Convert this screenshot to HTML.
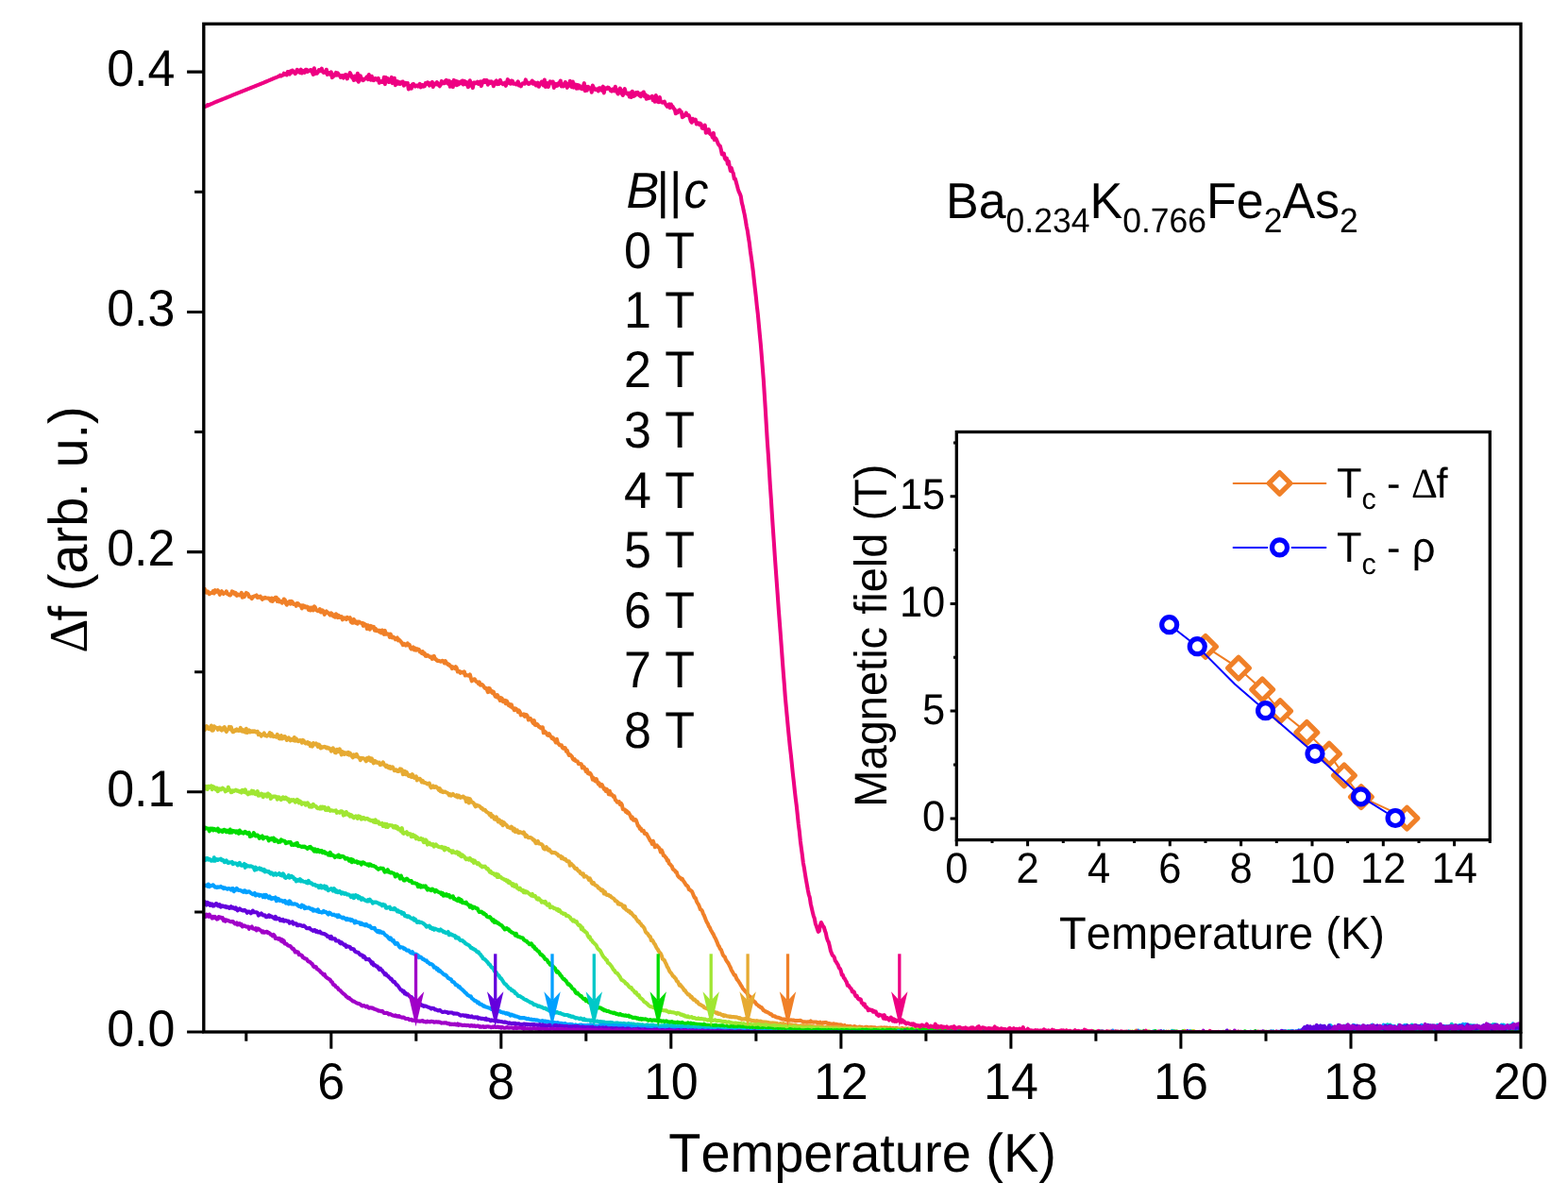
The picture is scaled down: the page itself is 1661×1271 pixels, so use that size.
<!DOCTYPE html>
<html lang="en">
<head>
<meta charset="utf-8">
<title>Ba0.234K0.766Fe2As2 - frequency shift vs temperature</title>
<style>
html,body{margin:0;padding:0;background:#fff;}
body{width:1661px;height:1271px;overflow:hidden;font-family:"Liberation Sans",sans-serif;}
svg{display:block;}
</style>
</head>
<body>
<svg width="1661" height="1271" viewBox="0 0 1661 1271" font-family="'Liberation Sans', sans-serif" fill="#000" style="font-kerning:none;font-variant-ligatures:none;text-rendering:geometricPrecision">
<rect width="1661" height="1271" fill="#fff"/>
<defs><clipPath id="pc"><rect x="215.8" y="25.3" width="1395.2" height="1067.7"/></clipPath></defs>
<g clip-path="url(#pc)" fill="none" stroke-linejoin="round" stroke-linecap="round">
<path d="M215.8,625.4 216.8,623.8 217.8,627.4 218.8,627.7 219.8,626.3 220.8,627.3 221.8,629.2 222.8,628.4 223.8,628 224.8,628 225.8,626 226.8,628.5 227.8,625.1 228.8,626.9 229.8,626.8 230.8,625.2 231.8,627.4 232.8,629.8 233.8,627.2 234.8,626.2 235.8,627.7 236.8,629 237.8,628.2 238.8,628.1 239.8,626.3 240.8,628.9 241.8,628.9 242.8,630.2 243.8,630.4 244.8,629.5 245.8,626.4 246.8,626.8 247.8,627.4 248.8,629.3 249.8,628 250.8,630.9 251.8,629.6 252.8,629.8 253.8,630.5 254.8,630 255.8,627.8 256.8,632.8 257.8,631.9 258.8,632.1 259.8,629.2 260.8,627.9 261.8,628.5 262.8,629.2 263.8,632 264.8,632.1 265.8,633 266.8,634.1 267.8,632.1 268.8,632 269.8,631.2 270.8,631.4 271.8,630.5 272.8,632.9 273.8,632.8 274.8,632 275.8,631.6 276.8,633.5 277.8,634.8 278.8,633.3 279.8,633.8 280.8,632.8 281.8,633.4 282.8,633.5 283.8,633.7 284.8,633.5 285.8,635 286.8,636.4 287.8,633.5 288.8,636.9 289.8,634.6 290.8,634.9 291.8,632.7 292.8,632.8 293.8,636.9 294.8,634.7 295.8,637.4 296.8,636.6 297.8,637.1 298.8,638.7 299.8,637.1 300.8,634.5 301.8,635.3 302.8,639.1 303.8,640.7 304.8,638.2 305.8,637.6 306.8,636.9 307.8,639.7 308.8,636.8 309.8,637.8 310.8,639.9 311.8,640 312.8,639.8 313.8,641.8 314.8,639 315.8,639.3 316.8,640.6 317.8,641.5 318.8,641.2 319.8,644.5 320.8,641.3 321.8,643.2 322.8,641.8 323.8,643.3 324.8,642.5 325.8,642.9 326.8,645.8 327.8,643.5 328.8,646.5 329.8,643.5 330.8,644.1 331.8,646.5 332.8,642.3 333.8,643.3 334.8,645.9 335.8,646.7 336.8,647.2 337.8,646.3 338.8,645.1 339.8,648.4 340.8,648.2 341.8,646.4 342.8,648.3 343.8,650.9 344.8,648.9 345.8,647.5 346.8,648.8 347.8,649.2 348.8,650.5 349.8,651.5 350.8,649.4 351.8,650.1 352.8,652.6 353.8,652.6 354.8,653.7 355.8,650.2 356.8,651.2 357.8,654.2 358.8,651.9 359.8,653.9 360.8,653.7 361.8,653.1 362.8,656.4 363.8,654.8 364.8,654.4 365.8,655.2 366.8,656.1 367.8,653.9 368.8,655.2 369.8,655 370.8,654.2 371.8,658.7 372.8,659.6 373.8,659.6 374.8,655.9 375.8,659.2 376.8,659.9 377.8,658.5 378.8,660.7 379.8,658.5 380.8,658.8 381.8,659.5 382.8,660 383.8,659.9 384.8,662.9 385.8,660.5 386.8,661.7 387.8,661.8 388.8,666 389.8,662.2 390.8,664.4 391.8,666.6 392.8,662.9 393.8,663.7 394.8,664.8 395.8,663.8 396.8,667.6 397.8,665.8 398.8,668.2 399.8,667.9 400.8,667.6 401.8,669.3 402.8,668 403.8,670.3 404.8,667.5 405.8,668.8 406.8,671.8 407.8,667.9 408.8,671.8 409.8,671.1 410.8,671.4 411.8,671.7 412.8,674.9 413.8,671.7 414.8,675.3 415.8,675.4 416.8,674.7 417.8,675.7 418.8,677.3 419.8,676.1 420.8,675.5 421.8,678.4 422.8,677.5 423.8,678.6 424.8,679.8 425.8,681.2 426.8,683.2 427.8,681.8 428.8,682.1 429.8,683.6 430.8,683.4 431.8,681.4 432.8,683.4 433.8,683.1 434.8,686.2 435.8,687.5 436.8,686.8 437.8,685.5 438.8,688.4 439.8,686.6 440.8,688.7 441.8,687.3 442.8,687.6 443.8,688 444.8,690.4 445.8,690 446.8,691.9 447.8,690.1 448.8,692.9 449.8,691.9 450.8,694.8 451.8,695 452.8,693.8 453.8,694.7 454.8,695.3 455.8,696.1 456.8,695.6 457.8,697.8 458.8,696.2 459.8,694.8 460.8,698.1 461.8,698.1 462.8,699.7 463.8,699.9 464.8,699.7 465.8,700.2 466.8,700.7 467.8,700.1 468.8,699.8 469.8,700.8 470.8,702.3 471.8,700 472.8,702.8 473.8,702.6 474.8,704.2 475.8,703.8 476.8,705.5 477.8,705.6 478.8,708.1 479.8,706.5 480.8,707.2 481.8,708 482.8,706.2 483.8,707.7 484.8,711.5 485.8,710.9 486.8,710.9 487.8,712.8 488.8,711.7 489.8,712.2 490.8,712.7 491.8,711.3 492.8,715.5 493.8,714.6 494.8,715.3 495.8,715.6 496.8,715.8 497.8,714.4 498.8,718.1 499.8,721.3 500.8,720.4 501.8,719.4 502.8,719.2 503.8,721.1 504.8,722.2 505.8,722.2 506.8,724.1 507.8,722.4 508.8,725.7 509.8,725.2 510.8,725 511.8,726.1 512.8,727.7 513.8,729 514.8,728.9 515.8,730.3 516.8,733.2 517.8,728.9 518.8,729.2 519.8,732.7 520.8,732 521.8,734.2 522.8,732.6 523.8,735.6 524.8,737.8 525.8,738.3 526.8,736.1 527.8,737.8 528.8,740.1 529.8,742 530.8,739.1 531.8,739.9 532.8,743.2 533.8,741.9 534.8,741.8 535.8,745.2 536.8,742.3 537.8,744.3 538.8,747.1 539.8,745.8 540.8,748.3 541.8,746.4 542.8,749.7 543.8,750 544.8,752.1 545.8,750.4 546.8,750.9 547.8,752 548.8,754.1 549.8,752.5 550.8,754 551.8,757.4 552.8,756.6 553.8,757.2 554.8,756.3 555.8,758.8 556.8,756.9 557.8,757.2 558.8,758.7 559.8,762.5 560.8,761.6 561.8,760.9 562.8,762.5 563.8,764.3 564.8,766 565.8,763.2 566.8,767.8 567.8,768.1 568.8,766.8 569.8,767.9 570.8,769.9 571.8,769.7 572.8,771.1 573.8,770.4 574.8,770.2 575.8,776.3 576.8,774.5 577.8,775.4 578.8,776.6 579.8,778.5 580.8,778.9 581.8,777.2 582.8,779.3 583.8,780.4 584.8,782.1 585.8,781.3 586.8,783.4 587.8,784.1 588.8,786.5 589.8,782.8 590.8,786.7 591.8,787.9 592.8,789.3 593.8,789.4 594.8,789.2 595.8,792.1 596.8,792.7 597.8,792 598.8,792.3 599.8,795.8 600.8,794.9 601.8,797.9 602.8,800 603.8,799.3 604.8,800.3 605.8,801.2 606.8,803.8 607.8,804.8 608.8,804.2 609.8,806 610.8,806.2 611.8,806.5 612.8,809.1 613.8,809 614.8,809.1 615.8,809.2 616.8,813.4 617.8,811.9 618.8,812.7 619.8,814.8 620.8,817.1 621.8,815 622.8,819 623.8,819.7 624.8,818.7 625.8,819.8 626.8,822 627.8,825.7 628.8,823.9 629.8,826.6 630.8,827.4 631.8,825.2 632.8,828.2 633.8,830.5 634.8,829.5 635.8,832.7 636.8,830.8 637.8,831.2 638.8,833.5 639.8,835.8 640.8,835.4 641.8,838 642.8,835.8 643.8,837.9 644.8,841.3 645.8,837.7 646.8,841.8 647.8,841.2 648.8,842.3 649.8,843.8 650.8,843.4 651.8,847.3 652.8,847.9 653.8,849.7 654.8,849.4 655.8,849.1 656.8,852.1 657.8,850.7 658.8,852.4 659.8,857.2 660.8,857.1 661.8,857.4 662.8,859.8 663.8,858.9 664.8,861.1 665.8,860.6 666.8,862.3 667.8,864 668.8,866.9 669.8,865.5 670.8,868.7 671.8,868.7 672.8,867.8 673.8,868.8 674.8,871.4 675.8,874.7 676.8,874.9 677.8,877.9 678.8,877.3 679.8,880 680.8,879.9 681.8,879.8 682.8,882.9 683.8,882.5 684.8,883 685.8,885 686.8,886.6 687.8,888.6 688.8,890.4 689.8,891.3 690.8,894 691.8,890.7 692.8,893.7 693.8,897.3 694.8,895.6 695.8,895.4 696.8,896.9 697.8,897.5 698.8,899 699.8,902.5 700.8,900.4 701.8,902.5 702.8,906.1 703.8,906.3 704.8,907.9 705.8,908.7 706.8,911.6 707.8,911.1 708.8,914.7 709.8,915.4 710.8,916.6 711.8,917.7 712.8,920.5 713.8,921.3 714.8,921.9 715.8,923.6 716.8,923.8 717.8,927.2 718.8,928.5 719.8,929.5 720.8,929.9 721.8,931.3 722.8,930.8 723.8,932.9 724.8,934.3 725.8,935.7 726.8,937.6 727.8,938 728.8,939.1 729.8,942.2 730.8,942.3 731.8,943.5 732.8,943.9 733.8,946.1 734.8,948.7 735.8,950.9 736.8,951 737.8,954.3 738.8,956.5 739.8,957.7 740.8,960.1 741.8,963.2 742.8,963.4 743.8,964.7 744.8,967.7 745.8,969.4 746.8,972 747.8,974.6 748.8,976.8 749.8,978.3 750.8,981.1 751.8,982.3 752.8,984.8 753.8,986.3 754.8,988.3 755.8,989.7 756.8,992.2 757.8,993.8 758.8,996.1 759.8,998.4 760.8,1001.2 761.8,1002.4 762.8,1005 763.8,1005.8 764.8,1008.4 765.8,1011.4 766.8,1012.8 767.8,1013.4 768.8,1016.3 769.8,1018 770.8,1019.3 771.8,1020.7 772.8,1023 773.8,1024.7 774.8,1027.5 775.8,1029.1 776.8,1030.9 777.8,1032.9 778.8,1032.8 779.8,1035.5 780.8,1037.5 781.8,1038.5 782.8,1040.1 783.8,1041.6 784.8,1043.6 785.8,1044.9 786.8,1047 787.8,1047.9 788.8,1049.2 789.8,1050.3 790.8,1051.2 791.8,1052.8 792.8,1054.3 793.8,1055.3 794.8,1055.8 795.8,1056.7 796.8,1058.8 797.8,1059.7 798.8,1060.8 799.8,1061.3 800.8,1063 801.8,1064 802.8,1064.5 803.8,1065.7 804.8,1066 805.8,1067.1 806.8,1067.1 807.8,1068.6 808.8,1070.3 809.8,1070.3 810.8,1071.4 811.8,1071.6 812.8,1072.1 813.8,1072.7 814.8,1073.1 815.8,1074.1 816.8,1074.1 817.8,1075 818.8,1076.3 819.8,1076.2 820.8,1076.3 821.8,1077.3 822.8,1077.5 823.8,1077.7 824.8,1077.7 825.8,1078.4 826.8,1078.6 827.8,1079.1 828.8,1079.5 829.8,1079.6 830.8,1079.4 831.8,1080.1 832.8,1080.2 833.8,1079.6 834.8,1080.4 835.8,1080.4 836.8,1080.7 837.8,1080.3 838.8,1080.6 839.8,1080.8 840.8,1080.5 841.8,1081.2 842.8,1081 843.8,1081.3 844.8,1080.9 845.8,1080.9 846.8,1081 847.8,1080.7 848.8,1081.3 849.8,1081.8 850.8,1082.2 851.8,1082.2 852.8,1082.3 853.8,1082.4 854.8,1082.8 855.8,1082.2 856.8,1082.5 857.8,1082.5 858.8,1081.5 859.8,1082.5 860.8,1082.5 861.8,1082.7 862.8,1082.4 863.8,1082.4 864.8,1082.6 865.8,1083.1 866.8,1083.1 867.8,1083.6 868.8,1082.7 869.8,1083.6 870.8,1084 871.8,1083.1 872.8,1083.5 873.8,1083 874.8,1082.9 875.8,1083.3 876.8,1083.9 877.8,1084.1 878.8,1084 879.8,1084.5 880.8,1084.5 881.8,1085.2 882.8,1084.2 883.8,1084.5 884.8,1084.7 885.8,1084.8 886.8,1085 887.8,1086.1 888.8,1085.4 889.8,1085.9 890.8,1085.3 891.8,1085.8 892.8,1086.5 893.8,1086.8 894.8,1086 895.8,1087.5 896.8,1087.1 897.8,1086.8 898.8,1087.3 899.8,1087.1 900.8,1086.8 901.8,1087.5 902.8,1087.8 903.8,1087.9 904.8,1087 905.8,1087.3 906.8,1087.7 907.8,1088.2 908.8,1088.3 909.8,1087.7 910.8,1087.5 911.8,1088.2 912.8,1087.8 913.8,1088.2 914.8,1088.5 915.8,1088.3 916.8,1087.8 917.8,1087.8 918.8,1087.7 919.8,1088.6 920.8,1088.7 921.8,1088 922.8,1088.2 923.8,1088.1 924.8,1088.4 925.8,1088.2 926.8,1088.2 927.8,1089 928.8,1088.9 929.8,1088.7 930.8,1089.1 931.8,1088.5 932.8,1088.9 933.8,1088.4 934.8,1088.5 935.8,1089.2 936.8,1088.4 937.8,1088.8 938.8,1088.5 939.8,1088.5 940.8,1089 941.8,1089.1 942.8,1088.5 943.8,1089.9 944.8,1089.7 945.8,1088.9 946.8,1089.4 947.8,1089.3 948.8,1089.1 949.8,1088.9 950.8,1089.4 951.8,1089.4 952.8,1089.9 953.8,1089.6 954.8,1089.2 955.8,1088.9 956.8,1089.6 957.8,1090 958.8,1089.3 959.8,1089.8 960.8,1090.3 961.8,1089.3 962.8,1090.4 963.8,1089.7 964.8,1089.9 965.8,1089.8 966.8,1089.8 967.8,1090.2 968.8,1090.3 969.8,1088.1 970.8,1089.5 971.8,1090 972.8,1089.8 973.8,1090.2 974.8,1090.1 975.8,1090.3 976.8,1090.4 977.8,1090.2 978.8,1090.8 979.8,1090 980.8,1090.4 981.8,1090.6 982.8,1091.1 983.8,1089.3 984.8,1090.3 985.8,1090.9 986.8,1090.8 987.8,1090.3 988.8,1091.2 989.8,1090.9 990.8,1090.8 991.8,1090.6 992.8,1091 993.8,1090.9 994.8,1091.1 995.8,1091.2 996.8,1090.7 997.8,1090.6 998.8,1089.7 999.8,1091 1000.8,1091.8 1001.8,1091.3 1002.8,1090.6 1003.8,1091.4 1004.8,1090.5 1005.8,1090.7 1006.8,1091.4 1007.8,1091 1008.8,1091.4 1009.8,1091.9 1010.8,1091.8 1011.8,1091.5 1012.8,1091.6 1013.8,1091.6 1014.8,1091.4 1015.8,1091.3 1016.8,1091.5 1017.8,1091.7 1018.8,1091.4 1019.8,1091.7 1020.8,1091.8 1021.8,1091.5 1022.8,1092.2 1023.8,1092.3 1024.8,1091.9 1025.8,1091.6 1026.8,1091.3 1027.8,1091.3 1028.8,1092.4 1029.8,1092.1 1030.8,1091.8 1031.8,1091.6 1032.8,1092 1033.8,1092.4 1034.8,1092.2 1035.8,1091.8 1036.8,1092.9 1037.8,1092.4 1038.8,1091.8 1039.8,1092.4 1040.8,1092.4 1041.8,1092.5 1042.8,1092.4 1043.8,1091.9 1044.8,1092.5 1045.8,1092.1 1046.8,1092.5 1047.8,1092.4 1048.8,1092.7 1049.8,1092.5 1050.8,1092.4 1051.8,1093.2 1052.8,1092.4 1053.8,1092.4 1054.8,1092.7 1055.8,1092.8 1056.8,1092.9 1057.8,1092.2 1058.8,1092.5 1059.8,1093 1060.8,1092.5 1061.8,1092.8 1062.8,1092.3 1063.8,1092.3 1064.8,1092.5 1065.8,1092.9 1066.8,1093.1 1067.8,1093.1 1068.8,1092.2 1069.8,1092.9 1070.8,1092.9 1071.8,1092.8 1072.8,1092.8 1073.8,1092.6 1074.8,1092.9 1075.8,1092.3 1076.8,1093.4 1077.8,1093.1 1078.8,1093.5 1079.8,1092.8 1080.8,1092.5 1081.8,1093.7 1082.8,1092.4 1083.8,1092.7 1084.8,1093.4 1085.8,1093.6 1086.8,1092.5 1087.8,1093.1 1088.8,1093.1 1089.8,1093.4 1090.8,1092.9 1091.8,1093.4 1092.8,1093.5 1093.8,1093.1 1094.8,1093.3 1095.8,1094 1096.8,1093.4 1097.8,1093.1 1098.8,1093.6 1099.8,1093.7 1100.8,1093.1 1101.8,1093 1102.8,1093.8 1103.8,1093.7 1104.8,1093.7 1105.8,1093.8 1106.8,1092.9 1107.8,1092.8 1108.8,1093.6 1109.8,1093.6 1110.8,1093.4 1111.8,1093.5 1112.8,1093.1 1113.8,1093 1114.8,1093.3 1115.8,1093.5 1116.8,1093.5 1117.8,1093.3 1118.8,1093.5 1119.8,1093.7 1120.8,1093.5 1121.8,1093.2 1122.8,1093.9 1123.8,1093 1124.8,1093.4 1125.8,1094 1126.8,1094.1 1127.8,1093.9 1128.8,1093.2 1129.8,1091.7 1130.8,1093.2 1131.8,1093.3 1132.8,1093.4 1133.8,1093 1134.8,1093.2 1135.8,1093.2 1136.8,1093.4 1137.8,1093.8 1138.8,1093.6 1139.8,1092.8 1140.8,1093.2 1141.8,1093.3 1142.8,1092.8 1143.8,1093.2 1144.8,1092.9 1145.8,1093.4 1146.8,1093.6 1147.8,1093.4 1148.8,1093.9 1149.8,1093.2 1150.8,1093.4 1151.8,1093.2 1152.8,1093.3 1153.8,1093.8 1154.8,1093 1155.8,1093.9 1156.8,1093.8 1157.8,1093.6 1158.8,1093.1 1159.8,1093.5 1160.8,1093.3 1161.8,1093.9 1162.8,1093 1163.8,1093.1 1164.8,1093.4 1165.8,1092.7 1166.8,1093.9 1167.8,1093.3 1168.8,1093.7 1169.8,1093.5 1170.8,1092.8 1171.8,1093.4 1172.8,1093 1173.8,1093 1174.8,1092.5 1175.8,1093.1 1176.8,1093.7 1177.8,1093 1178.8,1093.1 1179.8,1093.4 1180.8,1093.5 1181.8,1093.2 1182.8,1093.9 1183.8,1093.9 1184.8,1093 1185.8,1094 1186.8,1093.6 1187.8,1093.6 1188.8,1093.7 1189.8,1093 1190.8,1093 1191.8,1093.6 1192.8,1093.2 1193.8,1094.1 1194.8,1093.3 1195.8,1093.7 1196.8,1093.1 1197.8,1094.1 1198.8,1094 1199.8,1093 1200.8,1093.6 1201.8,1093.5 1202.8,1093.9 1203.8,1091.5 1204.8,1093.3 1205.8,1093.7 1206.8,1093.3 1207.8,1093.2 1208.8,1093 1209.8,1093.2 1210.8,1093.4 1211.8,1093 1212.8,1093.5 1213.8,1093.2 1214.8,1093.5 1215.8,1093.7 1216.8,1093.8 1217.8,1093.5 1218.8,1093.1 1219.8,1093.4 1220.8,1093.3 1221.8,1093.8 1222.8,1092.7 1223.8,1093.9 1224.8,1093.4 1225.8,1093.6 1226.8,1093 1227.8,1093.8 1228.8,1093.2 1229.8,1094 1230.8,1093.6 1231.8,1093.7 1232.8,1093.6 1233.8,1093.2 1234.8,1093.9 1235.8,1092.9 1236.8,1093.5 1237.8,1093.7 1238.8,1093.8 1239.8,1092.8 1240.8,1093.3 1241.8,1093.4 1242.8,1092.5 1243.8,1093.2 1244.8,1093.2 1245.8,1093.6 1246.8,1093.4 1247.8,1093.2 1248.8,1093.2 1249.8,1093.5 1250.8,1093.2 1251.8,1093 1252.8,1093.1 1253.8,1093.5 1254.8,1091.8 1255.8,1093.5 1256.8,1093.7 1257.8,1092.8 1258.8,1093.3 1259.8,1093 1260.8,1093.1 1261.8,1093.3 1262.8,1093.5 1263.8,1093.3 1264.8,1093.1 1265.8,1093.3 1266.8,1093 1267.8,1094 1268.8,1093.2 1269.8,1093.9 1270.8,1092.9 1271.8,1093.1 1272.8,1093.9 1273.8,1093.4 1274.8,1094.1 1275.8,1093.7 1276.8,1093.9 1277.8,1093 1278.8,1093.5 1279.8,1093.3 1280.8,1094 1281.8,1093.3 1282.8,1093.5 1283.8,1093.2 1284.8,1092.9 1285.8,1093.6 1286.8,1093.3 1287.8,1093.3 1288.8,1093.1 1289.8,1093.4 1290.8,1093.2 1291.8,1093.3 1292.8,1093.5 1293.8,1093.3 1294.8,1093.6 1295.8,1093.1 1296.8,1093 1297.8,1093.9 1298.8,1093.2 1299.8,1092.9 1300.8,1093.9 1301.8,1093.4 1302.8,1092.4 1303.8,1093.1 1304.8,1093.6 1305.8,1093.1 1306.8,1092.9 1307.8,1093.1 1308.8,1093.5 1309.8,1093.1 1310.8,1093.3 1311.8,1093.6 1312.8,1093.1 1313.8,1093.3 1314.8,1093.5 1315.8,1093.5 1316.8,1093.8 1317.8,1093.7 1318.8,1093.2 1319.8,1093.3 1320.8,1093.7 1321.8,1093.9 1322.8,1093.7 1323.8,1093.4 1324.8,1093.6 1325.8,1093.9 1326.8,1094 1327.8,1093 1328.8,1093.2 1329.8,1093.5 1330.8,1093.3 1331.8,1093.5 1332.8,1092.7 1333.8,1093.6 1334.8,1093.7 1335.8,1094 1336.8,1093.9 1337.8,1093.6 1338.8,1092.7 1339.8,1092.7 1340.8,1093.3 1341.8,1093.1 1342.8,1093.4 1343.8,1093.1 1344.8,1094.1 1345.8,1093.9 1346.8,1093.9 1347.8,1093.4 1348.8,1093.5 1349.8,1093.6 1350.8,1093.4 1351.8,1093.5 1352.8,1093.6 1353.8,1093.3 1354.8,1093.4 1355.8,1093.9 1356.8,1093.5 1357.8,1092.9 1358.8,1093.2 1359.8,1093.3 1360.8,1093.4 1361.8,1093.4 1362.8,1093.2 1363.8,1094 1364.8,1093.4 1365.8,1093.7 1366.8,1093.2 1367.8,1092.8 1368.8,1093.7 1369.8,1093.8 1370.8,1093.8 1371.8,1093.5 1372.8,1093.6 1373.8,1093.2 1374.8,1093 1375.8,1093.5 1376.8,1093.7 1377.8,1093.7 1378.8,1093.8 1379.8,1093.8 1380.8,1093.8 1381.8,1093.8 1382.8,1093.6 1383.8,1093.3 1384.8,1092.9 1385.8,1093.6 1386.8,1094 1387.8,1093.7 1388.8,1094.2 1389.8,1093.8 1390.8,1092.9 1391.8,1093.9 1392.8,1093.3 1393.8,1093.5 1394.8,1093.5 1395.8,1093.6 1396.8,1094.1 1397.8,1094 1398.8,1093.2 1399.8,1093.7 1400.8,1093.4 1401.8,1094 1402.8,1094.1 1403.8,1093.5 1404.8,1093.9 1405.8,1094 1406.8,1093.9 1407.8,1094 1408.8,1093.6 1409.8,1093.8 1410.8,1093.7 1411.8,1093.7 1412.8,1093.7 1413.8,1093 1414.8,1093.6 1415.8,1094 1416.8,1093.2 1417.8,1093.5 1418.8,1092.9 1419.8,1093.7 1420.8,1093.7 1421.8,1093.9 1422.8,1094.1 1423.8,1093.4 1424.8,1093.4 1425.8,1093.8 1426.8,1093.5 1427.8,1093.8 1428.8,1093.1 1429.8,1093.5 1430.8,1093.3 1431.8,1093.1 1432.8,1093.6 1433.8,1093.2 1434.8,1093.4 1435.8,1093.4 1436.8,1092.9 1437.8,1093.8 1438.8,1093.7 1439.8,1093.6 1440.8,1093.5 1441.8,1094 1442.8,1093.7 1443.8,1093.2 1444.8,1093.7 1445.8,1093.9 1446.8,1093.5 1447.8,1093.6 1448.8,1093.7 1449.8,1093.8 1450.8,1093.7 1451.8,1093.5 1452.8,1093.8 1453.8,1093.5 1454.8,1093.5 1455.8,1094 1456.8,1093.5 1457.8,1093.3 1458.8,1093.7 1459.8,1093.3 1460.8,1093.9 1461.8,1093.6 1462.8,1093.9 1463.8,1093.6 1464.8,1093.3 1465.8,1092.9 1466.8,1093.3 1467.8,1093.9 1468.8,1093.4 1469.8,1093.9 1470.8,1093.9 1471.8,1093 1472.8,1093.4 1473.8,1093.5 1474.8,1094 1475.8,1094.1 1476.8,1093.3 1477.8,1093.8 1478.8,1093.7 1479.8,1093.2 1480.8,1093.9 1481.8,1094.1 1482.8,1093.2 1483.8,1093.8 1484.8,1093.4 1485.8,1093.9 1486.8,1093.9 1487.8,1093.5 1488.8,1093.5 1489.8,1094.1 1490.8,1093.5 1491.8,1093.9 1492.8,1093 1493.8,1093.1 1494.8,1093.9 1495.8,1093.6 1496.8,1093.5 1497.8,1093.2 1498.8,1093.6 1499.8,1093.1 1500.8,1093.5 1501.8,1093.8 1502.8,1093.5 1503.8,1093 1504.8,1093 1505.8,1093.4 1506.8,1092.9 1507.8,1093.8 1508.8,1093.3 1509.8,1093.3 1510.8,1093.4 1511.8,1093.3 1512.8,1094 1513.8,1093.3 1514.8,1093.2 1515.8,1093.9 1516.8,1093.3 1517.8,1094 1518.8,1093.8 1519.8,1093.4 1520.8,1093.6 1521.8,1093.2 1522.8,1093.2 1523.8,1093.9 1524.8,1093.4 1525.8,1093.5 1526.8,1093.4 1527.8,1093.6 1528.8,1093.5 1529.8,1093.6 1530.8,1093.6 1531.8,1094 1532.8,1093.4 1533.8,1093.5 1534.8,1093.6 1535.8,1093.3 1536.8,1093.7 1537.8,1093.5 1538.8,1093.4 1539.8,1093.3 1540.8,1093.6 1541.8,1093.7 1542.8,1093.7 1543.8,1093.8 1544.8,1093.5 1545.8,1094 1546.8,1093.6 1547.8,1093.9 1548.8,1093.5 1549.8,1093.9 1550.8,1093.6 1551.8,1093.4 1552.8,1093.5 1553.8,1093.7 1554.8,1093.1 1555.8,1093.7 1556.8,1093 1557.8,1093.7 1558.8,1093.3 1559.8,1093.2 1560.8,1093.4 1561.8,1094 1562.8,1094.1 1563.8,1093.5 1564.8,1094.1 1565.8,1093.7 1566.8,1094.2 1567.8,1093.6 1568.8,1093.8 1569.8,1093.3 1570.8,1094 1571.8,1093.9 1572.8,1094 1573.8,1094.1 1574.8,1093.5 1575.8,1093.8 1576.8,1093 1577.8,1093.3 1578.8,1093.2 1579.8,1093.9 1580.8,1093.8 1581.8,1093.8 1582.8,1093.7 1583.8,1094.3 1584.8,1093.9 1585.8,1093.5 1586.8,1094.2 1587.8,1094.2 1588.8,1093.9 1589.8,1092.9 1590.8,1093.3 1591.8,1093.8 1592.8,1093.5 1593.8,1093.1 1594.8,1093.7 1595.8,1093.4 1596.8,1093.7 1597.8,1093.7 1598.8,1094.1 1599.8,1093.4 1600.8,1094 1601.8,1093.3 1602.8,1094 1603.8,1093.8 1604.8,1093.8 1605.8,1093.7 1606.8,1093.4 1607.8,1093.8 1608.8,1093.8 1609.8,1094 1610.8,1093.8" stroke="#f08028" stroke-width="4.05"/>
<path d="M215.8,771.1 216.8,773.2 217.8,771.7 218.8,769.2 219.8,769.9 220.8,771.9 221.8,770.8 222.8,772.4 223.8,768.5 224.8,773.8 225.8,773.5 226.8,769.3 227.8,770.9 228.8,770.6 229.8,770.9 230.8,772.8 231.8,770.9 232.8,770.5 233.8,772.7 234.8,773.6 235.8,771.4 236.8,772.4 237.8,770.2 238.8,773.5 239.8,775 240.8,773.1 241.8,772.4 242.8,769.9 243.8,772.2 244.8,770 245.8,773.9 246.8,775.3 247.8,774.9 248.8,773.4 249.8,773.9 250.8,772.5 251.8,773.8 252.8,773.9 253.8,773.7 254.8,770.9 255.8,774.3 256.8,774.7 257.8,773.2 258.8,774.9 259.8,775.6 260.8,771.8 261.8,776 262.8,774.2 263.8,773.5 264.8,775.4 265.8,774.3 266.8,774.9 267.8,774.3 268.8,774.9 269.8,774.4 270.8,775.4 271.8,774.9 272.8,774.7 273.8,778.1 274.8,776.9 275.8,777.6 276.8,779.6 277.8,778.3 278.8,777.7 279.8,776.4 280.8,779.1 281.8,778.8 282.8,779.7 283.8,778.4 284.8,778.2 285.8,776.1 286.8,779.8 287.8,777.2 288.8,778.8 289.8,780.2 290.8,779.9 291.8,779.8 292.8,780.7 293.8,777.9 294.8,780.5 295.8,782.3 296.8,782.4 297.8,779 298.8,782.5 299.8,782 300.8,780.3 301.8,780 302.8,781.8 303.8,784 304.8,783 305.8,781.3 306.8,782.9 307.8,784.4 308.8,783 309.8,782.7 310.8,784.2 311.8,781 312.8,784.6 313.8,782.4 314.8,784.3 315.8,785.1 316.8,784.6 317.8,784 318.8,784.7 319.8,786.6 320.8,783.9 321.8,784.7 322.8,786.6 323.8,787.4 324.8,786.6 325.8,786.1 326.8,788 327.8,786.8 328.8,790.3 329.8,789.6 330.8,790.6 331.8,787 332.8,787.9 333.8,788.4 334.8,787.4 335.8,788.6 336.8,790.9 337.8,788.5 338.8,789.8 339.8,792.4 340.8,791.1 341.8,791.6 342.8,791.3 343.8,790.7 344.8,791.3 345.8,792.4 346.8,791.6 347.8,792.7 348.8,792.4 349.8,793.1 350.8,795.6 351.8,794.6 352.8,792.4 353.8,794.2 354.8,797.1 355.8,797.4 356.8,793.7 357.8,796.2 358.8,795.9 359.8,793.4 360.8,796.8 361.8,799.4 362.8,796.1 363.8,796.9 364.8,798.9 365.8,797.3 366.8,797.6 367.8,798.8 368.8,796.8 369.8,799.7 370.8,797.6 371.8,799.7 372.8,801 373.8,802.4 374.8,799.4 375.8,801 376.8,801.3 377.8,798.9 378.8,801.5 379.8,802.2 380.8,802.9 381.8,805.1 382.8,802.9 383.8,803 384.8,803.2 385.8,803.6 386.8,804.6 387.8,806.3 388.8,803.2 389.8,804.9 390.8,802.4 391.8,803.2 392.8,806 393.8,803.3 394.8,806.8 395.8,808.4 396.8,805.9 397.8,806.4 398.8,807.7 399.8,807.3 400.8,808.2 401.8,807.7 402.8,810.1 403.8,809.7 404.8,809.6 405.8,807.3 406.8,809.5 407.8,810.8 408.8,812 409.8,810.6 410.8,812.6 411.8,813.3 412.8,811.8 413.8,813.9 414.8,813.1 415.8,812.3 416.8,814 417.8,816.2 418.8,815.4 419.8,815.3 420.8,816.7 421.8,817 422.8,816.7 423.8,814.4 424.8,814.5 425.8,815.5 426.8,820.2 427.8,819.4 428.8,816.8 429.8,820.3 430.8,817.9 431.8,820.4 432.8,821.8 433.8,820.8 434.8,822.5 435.8,823 436.8,820.1 437.8,822.6 438.8,823.8 439.8,822.9 440.8,822.3 441.8,826.4 442.8,825.3 443.8,824.7 444.8,824.8 445.8,826.4 446.8,828.5 447.8,826.9 448.8,828.8 449.8,829.1 450.8,829 451.8,829.8 452.8,830.4 453.8,829.7 454.8,829.6 455.8,832.9 456.8,834.3 457.8,833.7 458.8,832.4 459.8,834 460.8,833.7 461.8,833.1 462.8,834 463.8,835 464.8,836.8 465.8,835 466.8,838.3 467.8,837.3 468.8,839.1 469.8,839.2 470.8,838.5 471.8,838.8 472.8,839.4 473.8,839.7 474.8,840.6 475.8,842.3 476.8,841.1 477.8,842.7 478.8,842.2 479.8,840.9 480.8,842.3 481.8,842.8 482.8,843.4 483.8,842.2 484.8,844.4 485.8,842.6 486.8,843.5 487.8,844.9 488.8,844.6 489.8,843.7 490.8,843.6 491.8,844.9 492.8,845.1 493.8,849.1 494.8,845.5 495.8,845.5 496.8,850.5 497.8,846.1 498.8,848 499.8,849.8 500.8,849.8 501.8,850.7 502.8,852.9 503.8,854.4 504.8,852.6 505.8,853.5 506.8,853.4 507.8,853.8 508.8,854.7 509.8,856.2 510.8,856.1 511.8,857.8 512.8,857.7 513.8,857.7 514.8,859.4 515.8,860.2 516.8,860.7 517.8,861.5 518.8,863.3 519.8,861.8 520.8,865.2 521.8,864 522.8,865.3 523.8,867.6 524.8,867.9 525.8,865.3 526.8,868.6 527.8,870.4 528.8,868.4 529.8,869.6 530.8,872.4 531.8,870 532.8,874.2 533.8,871.2 534.8,872.6 535.8,873.4 536.8,874.1 537.8,876.1 538.8,876.3 539.8,876.6 540.8,877.2 541.8,875.6 542.8,877.2 543.8,879.7 544.8,877.6 545.8,881 546.8,879.7 547.8,879.3 548.8,881.8 549.8,882.2 550.8,881.1 551.8,881.7 552.8,881.8 553.8,882.6 554.8,881.5 555.8,883.5 556.8,886.2 557.8,884.7 558.8,886.3 559.8,887.3 560.8,887.2 561.8,887 562.8,887.6 563.8,888.2 564.8,889.7 565.8,889.6 566.8,891.4 567.8,893.2 568.8,892.4 569.8,890.9 570.8,893.5 571.8,893.5 572.8,894 573.8,894.2 574.8,895.4 575.8,898.7 576.8,899.4 577.8,899.4 578.8,897.2 579.8,898.9 580.8,900.5 581.8,899.6 582.8,901.2 583.8,902.3 584.8,903.3 585.8,902.7 586.8,903.2 587.8,903.1 588.8,903.6 589.8,904.7 590.8,905 591.8,906.6 592.8,906.7 593.8,906.8 594.8,909.2 595.8,908 596.8,909.6 597.8,910.2 598.8,909.8 599.8,911.2 600.8,912.2 601.8,912.2 602.8,912.2 603.8,916.7 604.8,914.5 605.8,915.7 606.8,916.6 607.8,917.7 608.8,919.4 609.8,920.3 610.8,919.8 611.8,921.5 612.8,922.7 613.8,922.7 614.8,924.9 615.8,924.9 616.8,926.3 617.8,925.3 618.8,928.8 619.8,927.9 620.8,927.9 621.8,928.9 622.8,929.9 623.8,931.8 624.8,930.3 625.8,932.3 626.8,935.1 627.8,936.1 628.8,934.8 629.8,936.8 630.8,937.7 631.8,938.1 632.8,938.7 633.8,940.7 634.8,940.6 635.8,941.8 636.8,943.1 637.8,942.3 638.8,943.1 639.8,946.5 640.8,944.5 641.8,947.1 642.8,947.9 643.8,947.7 644.8,948 645.8,949 646.8,949.1 647.8,950.5 648.8,951 649.8,951.5 650.8,952.4 651.8,954.2 652.8,954.3 653.8,954.9 654.8,957.5 655.8,956.6 656.8,958 657.8,957.6 658.8,958.2 659.8,960.3 660.8,961.5 661.8,959.7 662.8,963 663.8,963.9 664.8,964.2 665.8,965.5 666.8,965.1 667.8,967.1 668.8,966.9 669.8,968.5 670.8,969.4 671.8,970.8 672.8,970.7 673.8,973 674.8,974.2 675.8,975.9 676.8,975.8 677.8,977.9 678.8,978.3 679.8,980.4 680.8,980.9 681.8,982 682.8,983.8 683.8,986.7 684.8,988.1 685.8,988.6 686.8,990.1 687.8,991.8 688.8,992 689.8,996 690.8,995.5 691.8,996.9 692.8,999.1 693.8,1000.1 694.8,1002.5 695.8,1004.4 696.8,1005.5 697.8,1007.5 698.8,1008.8 699.8,1009.9 700.8,1012 701.8,1015.8 702.8,1016.3 703.8,1017.1 704.8,1019.3 705.8,1021.3 706.8,1024 707.8,1025.3 708.8,1027.7 709.8,1029.6 710.8,1030.5 711.8,1031.9 712.8,1033.7 713.8,1034.3 714.8,1035.7 715.8,1036.4 716.8,1039 717.8,1039.5 718.8,1041.4 719.8,1043.7 720.8,1043.2 721.8,1044.8 722.8,1045.8 723.8,1047 724.8,1049 725.8,1049 726.8,1051.1 727.8,1052 728.8,1053.5 729.8,1053.2 730.8,1054.4 731.8,1056.3 732.8,1055.9 733.8,1057.7 734.8,1059 735.8,1058.6 736.8,1059.6 737.8,1061.3 738.8,1061.1 739.8,1062.8 740.8,1063.7 741.8,1063.9 742.8,1064.6 743.8,1065.3 744.8,1065.6 745.8,1066.9 746.8,1067.5 747.8,1067.7 748.8,1068.4 749.8,1068.2 750.8,1068.9 751.8,1068.9 752.8,1070 753.8,1071 754.8,1071.2 755.8,1071.3 756.8,1071.8 757.8,1072.2 758.8,1073.1 759.8,1072.6 760.8,1073.9 761.8,1074 762.8,1073.6 763.8,1074.7 764.8,1075.1 765.8,1074.9 766.8,1076.1 767.8,1075.3 768.8,1075.7 769.8,1076.2 770.8,1076.5 771.8,1076.4 772.8,1077 773.8,1076.6 774.8,1077.2 775.8,1077.1 776.8,1077.3 777.8,1077.1 778.8,1077.5 779.8,1077.2 780.8,1077.4 781.8,1078 782.8,1078.6 783.8,1078.1 784.8,1078.8 785.8,1079.7 786.8,1079.2 787.8,1079.5 788.8,1079.4 789.8,1078.9 790.8,1079.7 791.8,1080 792.8,1079.8 793.8,1080.4 794.8,1080.2 795.8,1081 796.8,1080.9 797.8,1081.1 798.8,1081.3 799.8,1081.2 800.8,1082 801.8,1081.1 802.8,1081.4 803.8,1081.8 804.8,1082 805.8,1081.6 806.8,1082.5 807.8,1082.2 808.8,1082.7 809.8,1082.4 810.8,1082.5 811.8,1082.9 812.8,1082.8 813.8,1082.9 814.8,1083.3 815.8,1083.6 816.8,1083.4 817.8,1083.7 818.8,1083.4 819.8,1084 820.8,1083.6 821.8,1084.2 822.8,1083.8 823.8,1084.3 824.8,1084.7 825.8,1084.5 826.8,1084 827.8,1085.2 828.8,1084.6 829.8,1084.1 830.8,1085.6 831.8,1084.9 832.8,1085.4 833.8,1085.4 834.8,1086 835.8,1086 836.8,1085 837.8,1085.8 838.8,1085.4 839.8,1085.8 840.8,1085.8 841.8,1085.9 842.8,1085.7 843.8,1086.4 844.8,1086.5 845.8,1086.6 846.8,1087 847.8,1086.4 848.8,1086.2 849.8,1086.7 850.8,1086 851.8,1086.7 852.8,1086.4 853.8,1086.5 854.8,1086.5 855.8,1086.6 856.8,1087.1 857.8,1086.5 858.8,1086.8 859.8,1087.2 860.8,1087.1 861.8,1087.7 862.8,1087.4 863.8,1088.1 864.8,1087.7 865.8,1087.1 866.8,1087.5 867.8,1088.1 868.8,1087.2 869.8,1087.4 870.8,1087.1 871.8,1087.7 872.8,1088.2 873.8,1088.3 874.8,1087.9 875.8,1087.5 876.8,1088.1 877.8,1088 878.8,1088.4 879.8,1088.2 880.8,1088.6 881.8,1088 882.8,1088.3 883.8,1088.3 884.8,1088.2 885.8,1088.5 886.8,1087.9 887.8,1088 888.8,1087.8 889.8,1088.6 890.8,1088.9 891.8,1088.8 892.8,1089.2 893.8,1088.8 894.8,1088.5 895.8,1088.9 896.8,1088.9 897.8,1088.9 898.8,1089.3 899.8,1088.7 900.8,1088.7 901.8,1089 902.8,1089.5 903.8,1088.9 904.8,1089.6 905.8,1089.7 906.8,1089.1 907.8,1089.1 908.8,1089.3 909.8,1088.8 910.8,1089.9 911.8,1089.5 912.8,1089.8 913.8,1089.3 914.8,1089.6 915.8,1089.5 916.8,1090.2 917.8,1089.3 918.8,1090.1 919.8,1089.7 920.8,1089.7 921.8,1089.2 922.8,1089.8 923.8,1089.7 924.8,1090.1 925.8,1089.8 926.8,1089.8 927.8,1090.3 928.8,1090.1 929.8,1089.9 930.8,1090.2 931.8,1090.3 932.8,1090.1 933.8,1090.2 934.8,1090.7 935.8,1090.2 936.8,1089.6 937.8,1090.6 938.8,1090.8 939.8,1090.7 940.8,1090.7 941.8,1089.8 942.8,1090.2 943.8,1090.5 944.8,1090.6 945.8,1090.5 946.8,1090.2 947.8,1090.4 948.8,1090.5 949.8,1091 950.8,1091.4 951.8,1090.2 952.8,1090.8 953.8,1090.5 954.8,1091.1 955.8,1090.9 956.8,1091 957.8,1090.9 958.8,1090.7 959.8,1090.7 960.8,1090.9 961.8,1091.3 962.8,1091.7 963.8,1091.4 964.8,1091 965.8,1091.6 966.8,1091.3 967.8,1091.2 968.8,1091.2 969.8,1090.9 970.8,1090.8 971.8,1090.6 972.8,1091.2 973.8,1091.4 974.8,1091 975.8,1091.3 976.8,1090.8 977.8,1091.9 978.8,1090.9 979.8,1091.2 980.8,1091.7 981.8,1091.6 982.8,1091.2 983.8,1092.2 984.8,1091.4 985.8,1091.8 986.8,1091.5 987.8,1092 988.8,1092 989.8,1091.5 990.8,1091.6 991.8,1092.2 992.8,1091.9 993.8,1092.1 994.8,1092 995.8,1092.3 996.8,1092.1 997.8,1091.8 998.8,1092.5 999.8,1092 1000.8,1092.1 1001.8,1092.1 1002.8,1090.9 1003.8,1091.8 1004.8,1092.1 1005.8,1092 1006.8,1092.1 1007.8,1091.8 1008.8,1091.5 1009.8,1092 1010.8,1092.5 1011.8,1092.2 1012.8,1092.1 1013.8,1092.2 1014.8,1092.6 1015.8,1092.3 1016.8,1092.2 1017.8,1092.5 1018.8,1092.7 1019.8,1092.5 1020.8,1092.5 1021.8,1091.9 1022.8,1091.9 1023.8,1092.5 1024.8,1092.3 1025.8,1092.3 1026.8,1092.6 1027.8,1092.8 1028.8,1093.3 1029.8,1092.3 1030.8,1092.6 1031.8,1093.3 1032.8,1092.4 1033.8,1092.8 1034.8,1092.3 1035.8,1093.1 1036.8,1092.5 1037.8,1092.9 1038.8,1093 1039.8,1092.6 1040.8,1092.3 1041.8,1092.5 1042.8,1092.8 1043.8,1093 1044.8,1093.1 1045.8,1092.5 1046.8,1093.3 1047.8,1093 1048.8,1092.9 1049.8,1092.7 1050.8,1092.6 1051.8,1092.2 1052.8,1092.7 1053.8,1092.9 1054.8,1093.4 1055.8,1093.2 1056.8,1092.6 1057.8,1093.2 1058.8,1092.6 1059.8,1093.6 1060.8,1093.7 1061.8,1092.7 1062.8,1092.9 1063.8,1093.5 1064.8,1092.6 1065.8,1093.2 1066.8,1093.2 1067.8,1092.9 1068.8,1092.5 1069.8,1093.5 1070.8,1093.2 1071.8,1092.8 1072.8,1093 1073.8,1093.4 1074.8,1092.2 1075.8,1093.1 1076.8,1092.8 1077.8,1093.3 1078.8,1093.1 1079.8,1093.2 1080.8,1093.8 1081.8,1093.6 1082.8,1092.6 1083.8,1092.9 1084.8,1093.2 1085.8,1092.7 1086.8,1092.6 1087.8,1093.1 1088.8,1093.1 1089.8,1093.1 1090.8,1093.3 1091.8,1093 1092.8,1093.2 1093.8,1093.2 1094.8,1093.5 1095.8,1092.6 1096.8,1093.4 1097.8,1092.6 1098.8,1092.8 1099.8,1093.4 1100.8,1093.4 1101.8,1093.4 1102.8,1093.2 1103.8,1093.3 1104.8,1093 1105.8,1093.3 1106.8,1093.7 1107.8,1092.6 1108.8,1093.2 1109.8,1093.1 1110.8,1092.8 1111.8,1093.2 1112.8,1093.3 1113.8,1092.7 1114.8,1092.7 1115.8,1093.3 1116.8,1093.3 1117.8,1093.8 1118.8,1093.2 1119.8,1093.7 1120.8,1093.2 1121.8,1093 1122.8,1093.4 1123.8,1093.3 1124.8,1093.3 1125.8,1092.7 1126.8,1093.5 1127.8,1093.3 1128.8,1093.5 1129.8,1093.5 1130.8,1093.9 1131.8,1093.4 1132.8,1093.3 1133.8,1093.7 1134.8,1093.8 1135.8,1093.5 1136.8,1093.3 1137.8,1093.2 1138.8,1093.2 1139.8,1093.2 1140.8,1093.7 1141.8,1093.2 1142.8,1093.6 1143.8,1093.1 1144.8,1093.7 1145.8,1093.4 1146.8,1093.8 1147.8,1093.6 1148.8,1093.5 1149.8,1093.2 1150.8,1093.3 1151.8,1093.3 1152.8,1093.4 1153.8,1093.2 1154.8,1093.6 1155.8,1093.6 1156.8,1093.3 1157.8,1093.9 1158.8,1093.4 1159.8,1093 1160.8,1093.4 1161.8,1093.5 1162.8,1093.1 1163.8,1093.5 1164.8,1093.1 1165.8,1093.4 1166.8,1093.3 1167.8,1093.5 1168.8,1093.3 1169.8,1093.2 1170.8,1093.4 1171.8,1093.5 1172.8,1093.3 1173.8,1093.4 1174.8,1093 1175.8,1093.9 1176.8,1093.1 1177.8,1094.1 1178.8,1093.4 1179.8,1093.9 1180.8,1093.3 1181.8,1093.6 1182.8,1093.5 1183.8,1093.3 1184.8,1093.1 1185.8,1093.3 1186.8,1093 1187.8,1093.9 1188.8,1093.1 1189.8,1094 1190.8,1093.4 1191.8,1092.9 1192.8,1094.1 1193.8,1093.8 1194.8,1093.3 1195.8,1093.3 1196.8,1092.9 1197.8,1093.8 1198.8,1093 1199.8,1093.3 1200.8,1093.8 1201.8,1094.1 1202.8,1093.3 1203.8,1093.3 1204.8,1093.2 1205.8,1093.8 1206.8,1093.2 1207.8,1093.4 1208.8,1093.6 1209.8,1093.7 1210.8,1093.7 1211.8,1093.2 1212.8,1093.5 1213.8,1093.6 1214.8,1092.7 1215.8,1093.9 1216.8,1093.8 1217.8,1093.2 1218.8,1093.3 1219.8,1093.1 1220.8,1093.9 1221.8,1093.4 1222.8,1093.4 1223.8,1093.6 1224.8,1093.3 1225.8,1092.8 1226.8,1093.7 1227.8,1093.6 1228.8,1093.5 1229.8,1092.8 1230.8,1093.3 1231.8,1093.6 1232.8,1093.6 1233.8,1092.8 1234.8,1093.7 1235.8,1092.7 1236.8,1093.2 1237.8,1092.6 1238.8,1093.5 1239.8,1093.1 1240.8,1093.1 1241.8,1092.2 1242.8,1093.8 1243.8,1093.5 1244.8,1093.2 1245.8,1092.3 1246.8,1093.6 1247.8,1093.3 1248.8,1093.3 1249.8,1093.4 1250.8,1093.3 1251.8,1093.3 1252.8,1093.8 1253.8,1093 1254.8,1093.1 1255.8,1093.6 1256.8,1093.2 1257.8,1093.4 1258.8,1093.9 1259.8,1093.1 1260.8,1093.8 1261.8,1093.8 1262.8,1093.8 1263.8,1093.6 1264.8,1092.2 1265.8,1093.3 1266.8,1093.3 1267.8,1093.7 1268.8,1093.2 1269.8,1093.5 1270.8,1093.3 1271.8,1093.8 1272.8,1093.7 1273.8,1093.8 1274.8,1093.3 1275.8,1092.9 1276.8,1093.9 1277.8,1094 1278.8,1093.2 1279.8,1093.1 1280.8,1092.9 1281.8,1092.5 1282.8,1093.1 1283.8,1093.6 1284.8,1093.6 1285.8,1093.3 1286.8,1093.4 1287.8,1093 1288.8,1093.7 1289.8,1093.9 1290.8,1093.9 1291.8,1093 1292.8,1093.1 1293.8,1093.3 1294.8,1093.6 1295.8,1093.7 1296.8,1092.8 1297.8,1093.5 1298.8,1093.7 1299.8,1093.5 1300.8,1093.4 1301.8,1092.9 1302.8,1093.9 1303.8,1093.6 1304.8,1093.4 1305.8,1093.3 1306.8,1093.7 1307.8,1093.9 1308.8,1093.4 1309.8,1093.1 1310.8,1093.6 1311.8,1092.8 1312.8,1093.4 1313.8,1093.4 1314.8,1093.1 1315.8,1093.9 1316.8,1093.1 1317.8,1093.9 1318.8,1093.2 1319.8,1093.4 1320.8,1093.5 1321.8,1093.2 1322.8,1093.2 1323.8,1094.1 1324.8,1093.5 1325.8,1094 1326.8,1093.8 1327.8,1093.5 1328.8,1092.9 1329.8,1093.7 1330.8,1093.7 1331.8,1093.3 1332.8,1093.5 1333.8,1093.8 1334.8,1093.9 1335.8,1093.5 1336.8,1093.5 1337.8,1093.3 1338.8,1093.1 1339.8,1093.8 1340.8,1093.6 1341.8,1093.4 1342.8,1093.9 1343.8,1093.8 1344.8,1093 1345.8,1092.8 1346.8,1093.4 1347.8,1093.3 1348.8,1092.7 1349.8,1093.1 1350.8,1093.7 1351.8,1093.7 1352.8,1093.2 1353.8,1094.2 1354.8,1093.3 1355.8,1093.6 1356.8,1093.4 1357.8,1093.4 1358.8,1093.2 1359.8,1093.3 1360.8,1093.7 1361.8,1093 1362.8,1093.5 1363.8,1093.5 1364.8,1093.5 1365.8,1093.5 1366.8,1094.1 1367.8,1093.5 1368.8,1093.5 1369.8,1093.3 1370.8,1094 1371.8,1093.9 1372.8,1093.2 1373.8,1093.2 1374.8,1093.2 1375.8,1093.8 1376.8,1093.6 1377.8,1093.8 1378.8,1093.2 1379.8,1093.5 1380.8,1093.5 1381.8,1093.9 1382.8,1093.3 1383.8,1092.8 1384.8,1093.4 1385.8,1093.9 1386.8,1094.1 1387.8,1092.9 1388.8,1093.7 1389.8,1093.8 1390.8,1093.6 1391.8,1093.4 1392.8,1093.7 1393.8,1093.5 1394.8,1094 1395.8,1093.3 1396.8,1094.1 1397.8,1093.5 1398.8,1093.4 1399.8,1093.9 1400.8,1093.6 1401.8,1093.8 1402.8,1093.7 1403.8,1093.4 1404.8,1093.5 1405.8,1094.2 1406.8,1093.2 1407.8,1093.7 1408.8,1093.9 1409.8,1093.8 1410.8,1094 1411.8,1093.3 1412.8,1093.8 1413.8,1093.9 1414.8,1093 1415.8,1093.7 1416.8,1093.4 1417.8,1093.4 1418.8,1093.8 1419.8,1093.7 1420.8,1094 1421.8,1093.7 1422.8,1093 1423.8,1093.4 1424.8,1093.7 1425.8,1093.8 1426.8,1093.4 1427.8,1093.7 1428.8,1093.3 1429.8,1093.9 1430.8,1093.6 1431.8,1093.7 1432.8,1092.8 1433.8,1093.6 1434.8,1093.6 1435.8,1093.3 1436.8,1093.4 1437.8,1093.8 1438.8,1093.3 1439.8,1093.6 1440.8,1092.9 1441.8,1093.7 1442.8,1092.9 1443.8,1092.9 1444.8,1093.5 1445.8,1093.3 1446.8,1093.1 1447.8,1093.6 1448.8,1093.4 1449.8,1094 1450.8,1093.6 1451.8,1093.9 1452.8,1093.3 1453.8,1093.6 1454.8,1094.3 1455.8,1093.7 1456.8,1093.3 1457.8,1093.4 1458.8,1093.4 1459.8,1093.7 1460.8,1092.9 1461.8,1093.8 1462.8,1093.7 1463.8,1093.5 1464.8,1093.8 1465.8,1092.9 1466.8,1094.1 1467.8,1093.6 1468.8,1093.9 1469.8,1093.3 1470.8,1093.7 1471.8,1093.6 1472.8,1093.9 1473.8,1093.2 1474.8,1094.3 1475.8,1093.7 1476.8,1094.1 1477.8,1093.6 1478.8,1093.6 1479.8,1093.6 1480.8,1093.9 1481.8,1093.8 1482.8,1093.3 1483.8,1093.4 1484.8,1093.7 1485.8,1093.2 1486.8,1093.7 1487.8,1093.4 1488.8,1093.9 1489.8,1093.7 1490.8,1093.8 1491.8,1093.5 1492.8,1093.9 1493.8,1093.5 1494.8,1094.1 1495.8,1093.2 1496.8,1093.7 1497.8,1093.5 1498.8,1094.1 1499.8,1093.9 1500.8,1093.9 1501.8,1093.4 1502.8,1093.6 1503.8,1093.3 1504.8,1093.3 1505.8,1094 1506.8,1093.2 1507.8,1093.7 1508.8,1093.9 1509.8,1093.8 1510.8,1094.1 1511.8,1093.1 1512.8,1093.9 1513.8,1094.1 1514.8,1093.3 1515.8,1093.6 1516.8,1093.5 1517.8,1093.4 1518.8,1093.8 1519.8,1093.3 1520.8,1093.7 1521.8,1093.7 1522.8,1093.1 1523.8,1093.3 1524.8,1093.5 1525.8,1094 1526.8,1093.6 1527.8,1093.7 1528.8,1093 1529.8,1094.3 1530.8,1093.7 1531.8,1093.8 1532.8,1094 1533.8,1093.8 1534.8,1093.4 1535.8,1093.3 1536.8,1094.1 1537.8,1093.1 1538.8,1094 1539.8,1094.2 1540.8,1093.5 1541.8,1093.5 1542.8,1093.9 1543.8,1093.8 1544.8,1093.7 1545.8,1094.3 1546.8,1093.5 1547.8,1094.1 1548.8,1094.3 1549.8,1093.7 1550.8,1093.4 1551.8,1094.3 1552.8,1093.6 1553.8,1094.1 1554.8,1093.2 1555.8,1093.7 1556.8,1092.9 1557.8,1093.1 1558.8,1093.2 1559.8,1093.6 1560.8,1093.9 1561.8,1094 1562.8,1093.5 1563.8,1093 1564.8,1092.9 1565.8,1093.7 1566.8,1093.5 1567.8,1093.4 1568.8,1093.9 1569.8,1093.9 1570.8,1094.1 1571.8,1094.1 1572.8,1094.1 1573.8,1093.6 1574.8,1093.4 1575.8,1093.3 1576.8,1093.5 1577.8,1093.7 1578.8,1093.1 1579.8,1093.5 1580.8,1093.7 1581.8,1094.1 1582.8,1093.5 1583.8,1093.5 1584.8,1093.5 1585.8,1094 1586.8,1093 1587.8,1093.8 1588.8,1093.2 1589.8,1093.5 1590.8,1094 1591.8,1093.5 1592.8,1093.6 1593.8,1093.3 1594.8,1093.1 1595.8,1094.1 1596.8,1093.5 1597.8,1093.7 1598.8,1093.5 1599.8,1093.6 1600.8,1093.7 1601.8,1093.8 1602.8,1093.3 1603.8,1093.5 1604.8,1093.7 1605.8,1093.6 1606.8,1093.7 1607.8,1093.5 1608.8,1093.7 1609.8,1093.5 1610.8,1092.9" stroke="#e6aa32" stroke-width="4.05"/>
<path d="M215.8,835.7 216.8,832.7 217.8,835.3 218.8,833 219.8,836 220.8,832.7 221.8,833.9 222.8,834.1 223.8,832.3 224.8,836.2 225.8,833.2 226.8,833.6 227.8,834.6 228.8,836.4 229.8,834.5 230.8,838.1 231.8,835.7 232.8,835.4 233.8,836.4 234.8,835.8 235.8,834.7 236.8,835.4 237.8,836.4 238.8,838.3 239.8,836.8 240.8,837.1 241.8,833.8 242.8,836.4 243.8,836.8 244.8,839.2 245.8,839.1 246.8,837.3 247.8,837.9 248.8,837.3 249.8,836.6 250.8,837.6 251.8,837.2 252.8,838.3 253.8,838.8 254.8,837.8 255.8,839.6 256.8,836.9 257.8,838.5 258.8,838.9 259.8,836.4 260.8,839.7 261.8,839.9 262.8,841.4 263.8,839.3 264.8,840.2 265.8,840.4 266.8,837.7 267.8,840.3 268.8,838.2 269.8,840.6 270.8,841.3 271.8,840.9 272.8,838.1 273.8,842.7 274.8,841.4 275.8,842.4 276.8,840.5 277.8,841 278.8,844.3 279.8,841.6 280.8,841.5 281.8,841.7 282.8,843.6 283.8,840.5 284.8,842.3 285.8,841.8 286.8,845.9 287.8,844.6 288.8,843.6 289.8,843.9 290.8,843.5 291.8,843.5 292.8,844 293.8,846.7 294.8,844.2 295.8,844.5 296.8,845.4 297.8,847.1 298.8,846.1 299.8,844.3 300.8,846 301.8,846.2 302.8,844.7 303.8,845.7 304.8,847.3 305.8,846.5 306.8,849.4 307.8,848 308.8,847.2 309.8,847.9 310.8,847.1 311.8,847.6 312.8,849.7 313.8,848.9 314.8,846.8 315.8,847.8 316.8,850.4 317.8,848.5 318.8,849.8 319.8,851.8 320.8,850.4 321.8,850.5 322.8,850.6 323.8,852.7 324.8,850.8 325.8,850.3 326.8,852.2 327.8,854.4 328.8,853 329.8,854.7 330.8,854.6 331.8,851.9 332.8,853.6 333.8,853.7 334.8,854.1 335.8,855.8 336.8,856.3 337.8,855.7 338.8,856.5 339.8,854.6 340.8,856.5 341.8,854.5 342.8,855.6 343.8,854.8 344.8,858 345.8,856.3 346.8,858 347.8,855.7 348.8,857.8 349.8,858.8 350.8,858.2 351.8,858.6 352.8,858.8 353.8,858.8 354.8,858.7 355.8,858.3 356.8,860.9 357.8,859.9 358.8,860.2 359.8,860.8 360.8,859.2 361.8,859.3 362.8,859.6 363.8,863.6 364.8,861.4 365.8,862.8 366.8,860 367.8,862 368.8,862.9 369.8,862.3 370.8,864.6 371.8,863.1 372.8,863.7 373.8,865.4 374.8,866.3 375.8,865 376.8,864.4 377.8,864.8 378.8,866.9 379.8,864.4 380.8,864.8 381.8,865.1 382.8,867.7 383.8,867.3 384.8,866 385.8,866.4 386.8,867.6 387.8,867.2 388.8,866.9 389.8,867.4 390.8,868.5 391.8,868.2 392.8,869.2 393.8,869.1 394.8,868.9 395.8,870.6 396.8,870.9 397.8,868.3 398.8,871.2 399.8,870.7 400.8,870.3 401.8,872.7 402.8,872.4 403.8,873 404.8,872 405.8,875 406.8,873.8 407.8,872.7 408.8,875.9 409.8,873 410.8,876 411.8,874.2 412.8,874.1 413.8,874.3 414.8,874.2 415.8,874.6 416.8,876.4 417.8,876.2 418.8,874.8 419.8,877.2 420.8,875.6 421.8,878.3 422.8,877.6 423.8,878.3 424.8,880.3 425.8,877.1 426.8,882.4 427.8,882.9 428.8,882.2 429.8,882.1 430.8,881.2 431.8,883.8 432.8,882.9 433.8,883.3 434.8,883.3 435.8,886.3 436.8,886.2 437.8,884.2 438.8,886.2 439.8,885.3 440.8,888.3 441.8,886.7 442.8,888 443.8,889.2 444.8,888.8 445.8,888 446.8,889.3 447.8,888.7 448.8,892.2 449.8,892.1 450.8,889.5 451.8,890.5 452.8,894.6 453.8,893.3 454.8,892.6 455.8,894.4 456.8,894.1 457.8,895 458.8,894.1 459.8,896.7 460.8,895.5 461.8,894.3 462.8,895.9 463.8,896 464.8,897.1 465.8,897.3 466.8,897.5 467.8,896.8 468.8,898.2 469.8,897.7 470.8,900.4 471.8,897.8 472.8,899.1 473.8,899.1 474.8,899 475.8,900.8 476.8,901.1 477.8,901.3 478.8,903.1 479.8,901.3 480.8,902.8 481.8,902.8 482.8,903.4 483.8,902.2 484.8,902.6 485.8,905.2 486.8,903.5 487.8,906.4 488.8,907.2 489.8,905.5 490.8,906.9 491.8,907.2 492.8,909 493.8,910.2 494.8,909.3 495.8,909.8 496.8,910.7 497.8,908.9 498.8,910.4 499.8,911.9 500.8,911 501.8,913.8 502.8,911.7 503.8,913.1 504.8,914 505.8,915.2 506.8,914.2 507.8,915.4 508.8,916.8 509.8,917.2 510.8,918.3 511.8,917.6 512.8,917.9 513.8,917.6 514.8,919 515.8,920.4 516.8,920.1 517.8,921.7 518.8,923.6 519.8,922.9 520.8,924.8 521.8,925.2 522.8,925.1 523.8,926.4 524.8,927.2 525.8,925.6 526.8,929 527.8,926.3 528.8,928.9 529.8,928.6 530.8,929.2 531.8,930.5 532.8,930.5 533.8,931.3 534.8,932 535.8,931.8 536.8,933.4 537.8,932.7 538.8,934.9 539.8,933.8 540.8,935.7 541.8,935.6 542.8,938 543.8,936.3 544.8,938.8 545.8,937.9 546.8,937.4 547.8,940.7 548.8,940.8 549.8,942 550.8,940.7 551.8,942.4 552.8,943.5 553.8,942.9 554.8,945.1 555.8,943.7 556.8,945.4 557.8,944.3 558.8,945 559.8,945.9 560.8,946.8 561.8,947.6 562.8,948.5 563.8,946.8 564.8,949.3 565.8,949.3 566.8,948.9 567.8,950.4 568.8,952.2 569.8,952.7 570.8,951.5 571.8,952.9 572.8,953.6 573.8,955.7 574.8,954.9 575.8,955.1 576.8,956.3 577.8,955 578.8,957.5 579.8,958.7 580.8,958.8 581.8,957.5 582.8,961.3 583.8,960.5 584.8,960.4 585.8,961 586.8,962.3 587.8,962 588.8,962.5 589.8,963.7 590.8,962.8 591.8,964.9 592.8,964 593.8,965.7 594.8,966.8 595.8,967 596.8,967.9 597.8,967.6 598.8,967.9 599.8,970 600.8,969.8 601.8,969.9 602.8,970.9 603.8,971.5 604.8,973.4 605.8,974 606.8,975.5 607.8,974.3 608.8,976 609.8,976.7 610.8,976.1 611.8,978.5 612.8,979.9 613.8,979.7 614.8,980.4 615.8,983.9 616.8,982.3 617.8,985.4 618.8,985.6 619.8,986.9 620.8,987.4 621.8,988.3 622.8,991.3 623.8,992.9 624.8,992.4 625.8,995.2 626.8,995.7 627.8,997.6 628.8,998.4 629.8,999.4 630.8,1000.3 631.8,1001.5 632.8,1004 633.8,1005.3 634.8,1006 635.8,1007 636.8,1008.9 637.8,1011 638.8,1012.6 639.8,1014 640.8,1014.8 641.8,1016.5 642.8,1016.7 643.8,1019.7 644.8,1020.2 645.8,1021 646.8,1022.3 647.8,1023.5 648.8,1025.2 649.8,1027.2 650.8,1027.6 651.8,1029.7 652.8,1030.5 653.8,1030.7 654.8,1032.1 655.8,1033.4 656.8,1034.7 657.8,1037 658.8,1038.3 659.8,1038.3 660.8,1039.4 661.8,1039.8 662.8,1041.8 663.8,1041.8 664.8,1042.9 665.8,1044.2 666.8,1045.6 667.8,1046.2 668.8,1046 669.8,1048.2 670.8,1048.8 671.8,1050.1 672.8,1051.5 673.8,1051.1 674.8,1052.9 675.8,1054.2 676.8,1054.1 677.8,1056.5 678.8,1057.2 679.8,1058.1 680.8,1058.7 681.8,1060.3 682.8,1061.4 683.8,1061.7 684.8,1062.6 685.8,1063.4 686.8,1064.6 687.8,1065.3 688.8,1066 689.8,1066.2 690.8,1066.4 691.8,1066.9 692.8,1066.9 693.8,1068 694.8,1067.5 695.8,1067.8 696.8,1068.5 697.8,1068 698.8,1069.2 699.8,1069.8 700.8,1069.8 701.8,1070.1 702.8,1070.2 703.8,1070.3 704.8,1070.5 705.8,1070.3 706.8,1071.2 707.8,1071.6 708.8,1072.2 709.8,1071.5 710.8,1072.1 711.8,1072.3 712.8,1072.2 713.8,1072.4 714.8,1072.7 715.8,1072.9 716.8,1073.9 717.8,1072.9 718.8,1073.3 719.8,1073.5 720.8,1074.5 721.8,1074.9 722.8,1074.6 723.8,1075.7 724.8,1075.3 725.8,1076.6 726.8,1076.3 727.8,1076.9 728.8,1076.3 729.8,1077.5 730.8,1077.4 731.8,1077.3 732.8,1077.1 733.8,1078.2 734.8,1078.3 735.8,1078.1 736.8,1078.7 737.8,1078.9 738.8,1079 739.8,1078.4 740.8,1079.1 741.8,1079.1 742.8,1078.9 743.8,1079.3 744.8,1079.2 745.8,1079.9 746.8,1079.5 747.8,1079.9 748.8,1080.2 749.8,1080.6 750.8,1080.3 751.8,1079.7 752.8,1080.8 753.8,1080.5 754.8,1080.9 755.8,1080.7 756.8,1080.6 757.8,1080.3 758.8,1081 759.8,1081.4 760.8,1081 761.8,1081.1 762.8,1081.2 763.8,1081.5 764.8,1081.8 765.8,1082.2 766.8,1081.9 767.8,1082.3 768.8,1082 769.8,1082.9 770.8,1082.7 771.8,1082.3 772.8,1082.6 773.8,1083.1 774.8,1083.7 775.8,1083.4 776.8,1084.1 777.8,1083.8 778.8,1083.5 779.8,1083.6 780.8,1084.6 781.8,1083.8 782.8,1083.9 783.8,1083.9 784.8,1083.9 785.8,1084.7 786.8,1084.8 787.8,1084.2 788.8,1085.3 789.8,1085.1 790.8,1084.7 791.8,1084.4 792.8,1084.8 793.8,1084.9 794.8,1085.3 795.8,1085 796.8,1085.5 797.8,1086 798.8,1085.1 799.8,1085.2 800.8,1085.9 801.8,1086.2 802.8,1084.9 803.8,1085.4 804.8,1085.1 805.8,1085.9 806.8,1085.9 807.8,1085.6 808.8,1086.1 809.8,1086.4 810.8,1085.3 811.8,1085.6 812.8,1085.9 813.8,1086.2 814.8,1086.5 815.8,1086.5 816.8,1087.1 817.8,1086.5 818.8,1086.3 819.8,1086.3 820.8,1086 821.8,1086.7 822.8,1087 823.8,1086.5 824.8,1087.2 825.8,1086.5 826.8,1087.2 827.8,1087 828.8,1087.7 829.8,1087.3 830.8,1087.3 831.8,1087.2 832.8,1087 833.8,1087.2 834.8,1087.1 835.8,1087 836.8,1088 837.8,1088 838.8,1087.9 839.8,1087.9 840.8,1087.3 841.8,1087.1 842.8,1088.1 843.8,1088.1 844.8,1088.2 845.8,1088.3 846.8,1088.3 847.8,1087.9 848.8,1088.4 849.8,1088.4 850.8,1088.8 851.8,1088.5 852.8,1088.4 853.8,1088.5 854.8,1088.2 855.8,1088.4 856.8,1088.8 857.8,1087.9 858.8,1088.3 859.8,1088.9 860.8,1088.5 861.8,1088.2 862.8,1088.9 863.8,1089 864.8,1089 865.8,1089 866.8,1088.5 867.8,1089.7 868.8,1088.8 869.8,1088.8 870.8,1089.3 871.8,1089.4 872.8,1089.2 873.8,1089.3 874.8,1089.5 875.8,1089.4 876.8,1089.1 877.8,1089.4 878.8,1089.5 879.8,1089.6 880.8,1089.5 881.8,1089.2 882.8,1089.7 883.8,1089.8 884.8,1089.8 885.8,1089.1 886.8,1089.8 887.8,1090.3 888.8,1089.9 889.8,1089.6 890.8,1089.9 891.8,1089.8 892.8,1089.8 893.8,1090.1 894.8,1090 895.8,1089.7 896.8,1090.6 897.8,1090.3 898.8,1089.5 899.8,1090 900.8,1090 901.8,1089.3 902.8,1089.7 903.8,1090.5 904.8,1090.1 905.8,1090.3 906.8,1090.2 907.8,1090.2 908.8,1090 909.8,1089.7 910.8,1089.6 911.8,1089.9 912.8,1090.5 913.8,1090.5 914.8,1090.7 915.8,1090.2 916.8,1090 917.8,1090.7 918.8,1090.6 919.8,1090.4 920.8,1090.4 921.8,1090.1 922.8,1090.7 923.8,1089.7 924.8,1090.2 925.8,1090.5 926.8,1090.3 927.8,1090.9 928.8,1090.5 929.8,1090.1 930.8,1090.1 931.8,1089.6 932.8,1090.8 933.8,1090.4 934.8,1090.6 935.8,1090 936.8,1090.1 937.8,1090.6 938.8,1090.3 939.8,1090.4 940.8,1091 941.8,1090.6 942.8,1090.6 943.8,1090.6 944.8,1090.4 945.8,1090.8 946.8,1090.6 947.8,1091.2 948.8,1090.8 949.8,1090.1 950.8,1090.5 951.8,1090.4 952.8,1091.2 953.8,1090.6 954.8,1090.3 955.8,1090.6 956.8,1091.1 957.8,1091 958.8,1090.8 959.8,1090.8 960.8,1090.4 961.8,1090.7 962.8,1090.8 963.8,1090.2 964.8,1090.9 965.8,1090.5 966.8,1089.8 967.8,1090.7 968.8,1090.6 969.8,1090.6 970.8,1090.8 971.8,1090.5 972.8,1091.1 973.8,1090.7 974.8,1091.1 975.8,1090.7 976.8,1091 977.8,1091.2 978.8,1091.1 979.8,1090.9 980.8,1090.8 981.8,1091.2 982.8,1091.1 983.8,1090.5 984.8,1090.8 985.8,1091.1 986.8,1091.3 987.8,1091.2 988.8,1091.7 989.8,1090.9 990.8,1091.7 991.8,1091.2 992.8,1091.4 993.8,1091.2 994.8,1091.5 995.8,1090.9 996.8,1090.1 997.8,1091.3 998.8,1091.4 999.8,1090.8 1000.8,1091.5 1001.8,1091.3 1002.8,1091.8 1003.8,1091.7 1004.8,1091.5 1005.8,1091.2 1006.8,1092.1 1007.8,1091.6 1008.8,1092 1009.8,1092.1 1010.8,1092.2 1011.8,1091.4 1012.8,1091.4 1013.8,1091.7 1014.8,1091.6 1015.8,1092.1 1016.8,1092 1017.8,1092.2 1018.8,1092 1019.8,1092.1 1020.8,1092.2 1021.8,1092.1 1022.8,1091.9 1023.8,1092.5 1024.8,1092 1025.8,1091.7 1026.8,1091.6 1027.8,1092.4 1028.8,1092.1 1029.8,1092.1 1030.8,1091.9 1031.8,1092.4 1032.8,1092.7 1033.8,1092.5 1034.8,1092.1 1035.8,1092.4 1036.8,1092.5 1037.8,1092.2 1038.8,1092.1 1039.8,1092.1 1040.8,1093.1 1041.8,1093 1042.8,1092.5 1043.8,1092.6 1044.8,1093 1045.8,1093 1046.8,1092.9 1047.8,1092.4 1048.8,1092.4 1049.8,1092.7 1050.8,1093 1051.8,1092.9 1052.8,1092.7 1053.8,1092.5 1054.8,1093.3 1055.8,1092.1 1056.8,1092.8 1057.8,1092.9 1058.8,1093 1059.8,1093.3 1060.8,1092.2 1061.8,1092.1 1062.8,1093 1063.8,1093.2 1064.8,1091.9 1065.8,1093.1 1066.8,1092.9 1067.8,1092.8 1068.8,1093.5 1069.8,1092.7 1070.8,1093.3 1071.8,1092.9 1072.8,1092.9 1073.8,1092.6 1074.8,1092.9 1075.8,1092.7 1076.8,1092.4 1077.8,1092.6 1078.8,1092.4 1079.8,1093.2 1080.8,1091.9 1081.8,1092.8 1082.8,1093.5 1083.8,1093.2 1084.8,1092.8 1085.8,1093.3 1086.8,1093.1 1087.8,1093.2 1088.8,1092.7 1089.8,1093.3 1090.8,1093.1 1091.8,1092.9 1092.8,1092.7 1093.8,1092.9 1094.8,1092.8 1095.8,1093.1 1096.8,1093.1 1097.8,1092.8 1098.8,1093.5 1099.8,1093.4 1100.8,1092.7 1101.8,1093.6 1102.8,1092.9 1103.8,1092.7 1104.8,1093.2 1105.8,1093.5 1106.8,1093.7 1107.8,1092.7 1108.8,1093.3 1109.8,1093.3 1110.8,1093.7 1111.8,1093.6 1112.8,1093.4 1113.8,1093.4 1114.8,1093.4 1115.8,1093.4 1116.8,1093.2 1117.8,1093.1 1118.8,1093.8 1119.8,1093.4 1120.8,1093.4 1121.8,1093.2 1122.8,1093.4 1123.8,1093.1 1124.8,1092.8 1125.8,1093.3 1126.8,1093.7 1127.8,1092.7 1128.8,1093.8 1129.8,1093.4 1130.8,1093 1131.8,1093.5 1132.8,1093.2 1133.8,1093.5 1134.8,1093.3 1135.8,1093.4 1136.8,1093.3 1137.8,1093.2 1138.8,1093.2 1139.8,1093.6 1140.8,1093.6 1141.8,1093.6 1142.8,1093.2 1143.8,1093.4 1144.8,1093.4 1145.8,1093.4 1146.8,1093.4 1147.8,1093.5 1148.8,1093.2 1149.8,1093.6 1150.8,1092.5 1151.8,1093.3 1152.8,1093.2 1153.8,1093.3 1154.8,1093.7 1155.8,1093 1156.8,1093.3 1157.8,1093.3 1158.8,1093.5 1159.8,1092.6 1160.8,1093 1161.8,1093.2 1162.8,1093.3 1163.8,1093.5 1164.8,1093.9 1165.8,1093.9 1166.8,1092.6 1167.8,1093.5 1168.8,1093.7 1169.8,1093.6 1170.8,1093.4 1171.8,1093.3 1172.8,1094 1173.8,1093.6 1174.8,1093.2 1175.8,1093.8 1176.8,1093.2 1177.8,1093.3 1178.8,1093.1 1179.8,1093.4 1180.8,1093.3 1181.8,1093.3 1182.8,1093.2 1183.8,1093.1 1184.8,1093.5 1185.8,1093.8 1186.8,1092.8 1187.8,1093.6 1188.8,1093.7 1189.8,1093.1 1190.8,1093.7 1191.8,1093.7 1192.8,1093.4 1193.8,1093.3 1194.8,1093.6 1195.8,1093.6 1196.8,1093.3 1197.8,1092.7 1198.8,1093.8 1199.8,1092.7 1200.8,1093.4 1201.8,1092.7 1202.8,1093.3 1203.8,1093.3 1204.8,1093.4 1205.8,1093.6 1206.8,1093.6 1207.8,1093.1 1208.8,1093.7 1209.8,1093.6 1210.8,1093.2 1211.8,1093.6 1212.8,1093.2 1213.8,1093.5 1214.8,1093.1 1215.8,1093.5 1216.8,1092.3 1217.8,1093.3 1218.8,1093.2 1219.8,1094 1220.8,1094.1 1221.8,1093.1 1222.8,1093.3 1223.8,1092.8 1224.8,1093 1225.8,1094 1226.8,1093.3 1227.8,1093.3 1228.8,1093.3 1229.8,1092.4 1230.8,1093.1 1231.8,1093.2 1232.8,1093.4 1233.8,1093.2 1234.8,1093.6 1235.8,1094 1236.8,1093 1237.8,1093.5 1238.8,1093.9 1239.8,1093.3 1240.8,1093.1 1241.8,1093.7 1242.8,1093.7 1243.8,1092 1244.8,1093.5 1245.8,1093.8 1246.8,1093.9 1247.8,1092.9 1248.8,1093.4 1249.8,1094.1 1250.8,1093.2 1251.8,1093.9 1252.8,1093.4 1253.8,1092.2 1254.8,1092.8 1255.8,1093.2 1256.8,1093 1257.8,1094 1258.8,1092.8 1259.8,1093.8 1260.8,1093.4 1261.8,1093.8 1262.8,1092.1 1263.8,1093.5 1264.8,1093.2 1265.8,1093.7 1266.8,1093.9 1267.8,1093.6 1268.8,1093.5 1269.8,1093.7 1270.8,1093.7 1271.8,1093.3 1272.8,1092.8 1273.8,1093.3 1274.8,1092.8 1275.8,1093.2 1276.8,1094.2 1277.8,1094 1278.8,1093.3 1279.8,1093.6 1280.8,1094 1281.8,1093.5 1282.8,1092.9 1283.8,1092.9 1284.8,1093.9 1285.8,1093.9 1286.8,1093.9 1287.8,1093.7 1288.8,1093.6 1289.8,1093.6 1290.8,1093.4 1291.8,1093.6 1292.8,1093.7 1293.8,1093.2 1294.8,1094.2 1295.8,1092.9 1296.8,1093.8 1297.8,1093.3 1298.8,1093.5 1299.8,1093.2 1300.8,1093.2 1301.8,1093.3 1302.8,1094.2 1303.8,1093.6 1304.8,1093.8 1305.8,1093.6 1306.8,1093.6 1307.8,1093.3 1308.8,1093.7 1309.8,1093.3 1310.8,1093.7 1311.8,1093.1 1312.8,1093.3 1313.8,1093.4 1314.8,1093.7 1315.8,1093.2 1316.8,1093.6 1317.8,1093.7 1318.8,1093.8 1319.8,1093.6 1320.8,1093.6 1321.8,1093.5 1322.8,1093.2 1323.8,1093.7 1324.8,1093.4 1325.8,1093.6 1326.8,1094 1327.8,1092.8 1328.8,1093.6 1329.8,1093.4 1330.8,1093.4 1331.8,1093.1 1332.8,1093.6 1333.8,1094 1334.8,1093.7 1335.8,1093.3 1336.8,1093.9 1337.8,1093.3 1338.8,1093.3 1339.8,1092.6 1340.8,1092.9 1341.8,1094.1 1342.8,1093.2 1343.8,1093.7 1344.8,1093.6 1345.8,1093.5 1346.8,1093.5 1347.8,1093 1348.8,1093.6 1349.8,1093.2 1350.8,1093.6 1351.8,1093.2 1352.8,1093.8 1353.8,1093.2 1354.8,1093.5 1355.8,1093.6 1356.8,1093 1357.8,1093.9 1358.8,1093.7 1359.8,1093.6 1360.8,1093.5 1361.8,1093.5 1362.8,1093.6 1363.8,1093.4 1364.8,1093.1 1365.8,1092.9 1366.8,1092.3 1367.8,1093.8 1368.8,1093.3 1369.8,1093.7 1370.8,1094 1371.8,1093.6 1372.8,1093.5 1373.8,1093.5 1374.8,1093.9 1375.8,1093.3 1376.8,1093.8 1377.8,1094.2 1378.8,1093.8 1379.8,1093.8 1380.8,1093.7 1381.8,1093.5 1382.8,1093.2 1383.8,1093.8 1384.8,1093.9 1385.8,1093.1 1386.8,1093.6 1387.8,1094 1388.8,1093.9 1389.8,1093.8 1390.8,1093.4 1391.8,1093.3 1392.8,1093.6 1393.8,1094 1394.8,1093.4 1395.8,1094.2 1396.8,1093.3 1397.8,1093.4 1398.8,1094 1399.8,1093.1 1400.8,1093.8 1401.8,1093.8 1402.8,1093.8 1403.8,1093.6 1404.8,1093.5 1405.8,1093.2 1406.8,1093.5 1407.8,1093.4 1408.8,1093.1 1409.8,1093.2 1410.8,1093.8 1411.8,1093.4 1412.8,1093.3 1413.8,1093.5 1414.8,1093 1415.8,1093.8 1416.8,1093.9 1417.8,1094.2 1418.8,1093.5 1419.8,1093.9 1420.8,1093.4 1421.8,1093.4 1422.8,1093.4 1423.8,1093.6 1424.8,1093.4 1425.8,1093.6 1426.8,1093.3 1427.8,1093.3 1428.8,1093.8 1429.8,1093.2 1430.8,1093.5 1431.8,1094 1432.8,1093.6 1433.8,1093.7 1434.8,1093.4 1435.8,1093.3 1436.8,1093.8 1437.8,1093.5 1438.8,1093.6 1439.8,1093.7 1440.8,1093.3 1441.8,1093.6 1442.8,1092.9 1443.8,1094 1444.8,1093.9 1445.8,1093.1 1446.8,1093.6 1447.8,1093.6 1448.8,1093.1 1449.8,1093.4 1450.8,1093.3 1451.8,1093.3 1452.8,1093.4 1453.8,1093.7 1454.8,1093.3 1455.8,1093.3 1456.8,1093.3 1457.8,1093 1458.8,1093.5 1459.8,1094.1 1460.8,1093.8 1461.8,1093.1 1462.8,1093.6 1463.8,1093.2 1464.8,1093.8 1465.8,1092.9 1466.8,1093.9 1467.8,1093 1468.8,1093.7 1469.8,1094 1470.8,1093.6 1471.8,1094 1472.8,1093.5 1473.8,1094.1 1474.8,1093.4 1475.8,1093.6 1476.8,1093.7 1477.8,1094.3 1478.8,1093.4 1479.8,1093.3 1480.8,1094 1481.8,1093.6 1482.8,1093.4 1483.8,1093.5 1484.8,1093.9 1485.8,1093.3 1486.8,1093.3 1487.8,1093.7 1488.8,1093.8 1489.8,1093.4 1490.8,1093.6 1491.8,1094 1492.8,1093.2 1493.8,1093.3 1494.8,1094 1495.8,1093.9 1496.8,1094.2 1497.8,1093.7 1498.8,1093.7 1499.8,1093.8 1500.8,1093.1 1501.8,1093.3 1502.8,1093.8 1503.8,1093.8 1504.8,1093.9 1505.8,1093.8 1506.8,1093.7 1507.8,1093.3 1508.8,1093.8 1509.8,1093.7 1510.8,1093.1 1511.8,1093.9 1512.8,1093.7 1513.8,1093.8 1514.8,1093.3 1515.8,1093.5 1516.8,1094.3 1517.8,1093.5 1518.8,1093.5 1519.8,1093.9 1520.8,1092.9 1521.8,1093.7 1522.8,1093.8 1523.8,1093.9 1524.8,1093.8 1525.8,1093.1 1526.8,1093.7 1527.8,1093.8 1528.8,1092.9 1529.8,1093.8 1530.8,1093.5 1531.8,1093.7 1532.8,1093.7 1533.8,1093.6 1534.8,1093.8 1535.8,1093.8 1536.8,1093.9 1537.8,1093.8 1538.8,1093.4 1539.8,1094.1 1540.8,1093.7 1541.8,1093.1 1542.8,1093.8 1543.8,1093.7 1544.8,1093.9 1545.8,1094.1 1546.8,1093.7 1547.8,1093.4 1548.8,1093.9 1549.8,1093.5 1550.8,1093.6 1551.8,1093.8 1552.8,1093.5 1553.8,1093.5 1554.8,1094.1 1555.8,1093.7 1556.8,1093.8 1557.8,1093.5 1558.8,1093.6 1559.8,1093.5 1560.8,1093.7 1561.8,1093.6 1562.8,1093.6 1563.8,1093.4 1564.8,1094.3 1565.8,1094 1566.8,1093.4 1567.8,1093.2 1568.8,1093.9 1569.8,1093.6 1570.8,1093.4 1571.8,1093.8 1572.8,1093.4 1573.8,1094.1 1574.8,1093.6 1575.8,1093.3 1576.8,1093.1 1577.8,1094.1 1578.8,1093.4 1579.8,1093.5 1580.8,1093.7 1581.8,1093.3 1582.8,1093.2 1583.8,1093.4 1584.8,1093.7 1585.8,1093.6 1586.8,1093.3 1587.8,1093.5 1588.8,1094.1 1589.8,1093.9 1590.8,1093.5 1591.8,1093.7 1592.8,1093.6 1593.8,1093.8 1594.8,1094.3 1595.8,1093.5 1596.8,1093.8 1597.8,1093.7 1598.8,1093.7 1599.8,1093.6 1600.8,1093.3 1601.8,1093.4 1602.8,1093 1603.8,1093.3 1604.8,1093.5 1605.8,1093.9 1606.8,1093.9 1607.8,1093.6 1608.8,1093.4 1609.8,1093.2 1610.8,1093.1" stroke="#a0e632" stroke-width="4.05"/>
<path d="M215.8,877.8 216.8,877.9 217.8,876.7 218.8,877.5 219.8,877.6 220.8,877.8 221.8,880.3 222.8,877.6 223.8,877.7 224.8,877.6 225.8,879.4 226.8,877.8 227.8,878.3 228.8,879.5 229.8,879.5 230.8,877.6 231.8,880.9 232.8,879.2 233.8,880.1 234.8,879.5 235.8,881.1 236.8,878.9 237.8,878.7 238.8,880 239.8,881.2 240.8,879.7 241.8,880.9 242.8,881.7 243.8,878.5 244.8,881.8 245.8,881.6 246.8,879.9 247.8,880.5 248.8,880.2 249.8,881.8 250.8,880.3 251.8,881.9 252.8,882.9 253.8,879.5 254.8,882.1 255.8,881.7 256.8,881.5 257.8,882.7 258.8,882.2 259.8,880.8 260.8,882.1 261.8,882.9 262.8,882.3 263.8,881.8 264.8,886 265.8,885.3 266.8,885.4 267.8,884.3 268.8,882 269.8,884.2 270.8,885.4 271.8,884.5 272.8,884.6 273.8,885.8 274.8,888 275.8,886.2 276.8,886.3 277.8,885.5 278.8,888.3 279.8,887.2 280.8,887 281.8,887 282.8,886.9 283.8,888.1 284.8,890.3 285.8,888.4 286.8,889.1 287.8,887.9 288.8,889.3 289.8,887.6 290.8,891 291.8,889.1 292.8,890.5 293.8,890.3 294.8,892 295.8,891.3 296.8,891.6 297.8,889.4 298.8,890.2 299.8,890.4 300.8,890.7 301.8,891 302.8,893.2 303.8,892.4 304.8,892.7 305.8,891.9 306.8,892.2 307.8,892 308.8,894.8 309.8,894 310.8,895 311.8,894.7 312.8,893.7 313.8,894.9 314.8,892.9 315.8,896.2 316.8,895.8 317.8,896.2 318.8,896.4 319.8,897.2 320.8,896.5 321.8,897.1 322.8,896.6 323.8,897.3 324.8,898.1 325.8,899 326.8,897.9 327.8,897.1 328.8,896.9 329.8,898.8 330.8,898.6 331.8,900.3 332.8,901.6 333.8,899.4 334.8,901.8 335.8,902 336.8,900 337.8,900.8 338.8,902.3 339.8,901 340.8,901 341.8,903.2 342.8,902 343.8,902.2 344.8,903.9 345.8,903.6 346.8,904 347.8,905.6 348.8,905.7 349.8,902.9 350.8,905.9 351.8,905.2 352.8,905.9 353.8,906.7 354.8,908 355.8,907.2 356.8,906.5 357.8,907.4 358.8,905.6 359.8,908 360.8,908 361.8,906.8 362.8,906.9 363.8,907.2 364.8,908 365.8,909.7 366.8,909.3 367.8,909 368.8,909.7 369.8,911.6 370.8,910.3 371.8,910 372.8,913.3 373.8,910.6 374.8,912.2 375.8,912.9 376.8,912.4 377.8,912.3 378.8,914.1 379.8,913.2 380.8,914 381.8,913.6 382.8,915.6 383.8,913.4 384.8,913.3 385.8,914 386.8,915 387.8,915.2 388.8,915.9 389.8,915.4 390.8,916.8 391.8,915.3 392.8,915.8 393.8,917 394.8,916.9 395.8,917.1 396.8,917.7 397.8,917.9 398.8,919.2 399.8,919.9 400.8,920.8 401.8,920.1 402.8,919.6 403.8,919.6 404.8,919.9 405.8,919.8 406.8,922.3 407.8,923.7 408.8,922.4 409.8,923.1 410.8,921.2 411.8,923.6 412.8,923.5 413.8,924.5 414.8,924.1 415.8,924.6 416.8,924.9 417.8,925.5 418.8,928.5 419.8,927.6 420.8,926.1 421.8,927.6 422.8,927.9 423.8,930.6 424.8,927.5 425.8,930.2 426.8,930.8 427.8,932.5 428.8,932.6 429.8,931.3 430.8,930.5 431.8,931.5 432.8,932.3 433.8,933.2 434.8,933.2 435.8,933 436.8,935.3 437.8,935.3 438.8,935.2 439.8,935.6 440.8,935.8 441.8,935.9 442.8,939.2 443.8,937.3 444.8,937.4 445.8,939.6 446.8,938.3 447.8,939.3 448.8,938.4 449.8,939.3 450.8,938.4 451.8,940.8 452.8,942.5 453.8,941.2 454.8,941.7 455.8,942.7 456.8,943.1 457.8,941.6 458.8,942.1 459.8,942.8 460.8,944.6 461.8,942.8 462.8,943.7 463.8,944.4 464.8,945 465.8,945.5 466.8,945.4 467.8,947.2 468.8,945.9 469.8,948.7 470.8,947.5 471.8,948.3 472.8,947.1 473.8,948.8 474.8,947.9 475.8,948.1 476.8,950.5 477.8,950.2 478.8,949.6 479.8,949.3 480.8,952.1 481.8,951.9 482.8,953 483.8,953.5 484.8,954.1 485.8,951.7 486.8,952.1 487.8,955 488.8,953.2 489.8,956.2 490.8,956 491.8,956.1 492.8,956.6 493.8,955.7 494.8,957.5 495.8,957.9 496.8,958.8 497.8,960.7 498.8,959.1 499.8,960.6 500.8,962.1 501.8,960.6 502.8,961 503.8,961.7 504.8,962 505.8,962.2 506.8,964.6 507.8,966 508.8,965.9 509.8,965.6 510.8,966.2 511.8,967.6 512.8,967.4 513.8,968.6 514.8,968.9 515.8,970.7 516.8,971.2 517.8,971.4 518.8,971.1 519.8,972.2 520.8,973.9 521.8,975.3 522.8,974.2 523.8,977 524.8,975.7 525.8,976.4 526.8,977.6 527.8,977.5 528.8,978.7 529.8,979.5 530.8,979.7 531.8,980.6 532.8,981.9 533.8,983.1 534.8,984.4 535.8,983.6 536.8,983.1 537.8,984.4 538.8,984.2 539.8,986.1 540.8,986.2 541.8,987.5 542.8,987.7 543.8,988.4 544.8,988.7 545.8,990.6 546.8,988.8 547.8,991.4 548.8,992 549.8,992.2 550.8,992.5 551.8,993.2 552.8,993.2 553.8,993.4 554.8,995.3 555.8,995.9 556.8,996.7 557.8,996.7 558.8,998.2 559.8,998.7 560.8,1000.3 561.8,999.9 562.8,999.3 563.8,1000.9 564.8,1002.8 565.8,1002.5 566.8,1004.9 567.8,1004.9 568.8,1006.4 569.8,1007.5 570.8,1007.8 571.8,1009.6 572.8,1011.1 573.8,1011.1 574.8,1012.3 575.8,1013.1 576.8,1014.9 577.8,1016.1 578.8,1016.2 579.8,1017.4 580.8,1019.2 581.8,1019.8 582.8,1021.9 583.8,1021.9 584.8,1022.7 585.8,1023.5 586.8,1024.9 587.8,1025.4 588.8,1027.7 589.8,1029.7 590.8,1028.9 591.8,1030.2 592.8,1031.4 593.8,1033.1 594.8,1033.8 595.8,1035.8 596.8,1037 597.8,1037.1 598.8,1038.4 599.8,1039.2 600.8,1041 601.8,1042.7 602.8,1042.4 603.8,1043.7 604.8,1044.5 605.8,1046.4 606.8,1047.4 607.8,1047.8 608.8,1049.1 609.8,1051.3 610.8,1052.2 611.8,1051.7 612.8,1053.1 613.8,1053.8 614.8,1055 615.8,1055.1 616.8,1056.6 617.8,1057.6 618.8,1058.4 619.8,1057.9 620.8,1060.1 621.8,1059.5 622.8,1059.9 623.8,1061.7 624.8,1062.3 625.8,1062.5 626.8,1063.5 627.8,1064 628.8,1064.4 629.8,1064.3 630.8,1065.2 631.8,1065.8 632.8,1066.8 633.8,1067.5 634.8,1067.2 635.8,1067.5 636.8,1067.8 637.8,1069 638.8,1068.7 639.8,1070.3 640.8,1069.9 641.8,1070.3 642.8,1070.9 643.8,1071 644.8,1071 645.8,1071.8 646.8,1072.3 647.8,1072.3 648.8,1072.7 649.8,1073.1 650.8,1072.6 651.8,1073.3 652.8,1073.9 653.8,1073.7 654.8,1074.6 655.8,1074.8 656.8,1073.9 657.8,1074.7 658.8,1075.2 659.8,1075.1 660.8,1075.6 661.8,1075.8 662.8,1075.2 663.8,1076.1 664.8,1075.9 665.8,1075.6 666.8,1076.9 667.8,1076.6 668.8,1077.1 669.8,1077.7 670.8,1078 671.8,1077.7 672.8,1077.7 673.8,1078 674.8,1078.8 675.8,1078.4 676.8,1079.4 677.8,1079.4 678.8,1078.8 679.8,1079.8 680.8,1079.1 681.8,1079.4 682.8,1079.5 683.8,1079.3 684.8,1079.8 685.8,1080.1 686.8,1080.8 687.8,1080.6 688.8,1080 689.8,1080.5 690.8,1080.9 691.8,1080.5 692.8,1080.4 693.8,1080.7 694.8,1080.5 695.8,1081 696.8,1080.9 697.8,1081.7 698.8,1081.2 699.8,1081 700.8,1081.8 701.8,1081.6 702.8,1081.4 703.8,1082 704.8,1081.7 705.8,1081.4 706.8,1081.7 707.8,1082.6 708.8,1082.9 709.8,1082.3 710.8,1082.7 711.8,1082 712.8,1083 713.8,1082.7 714.8,1083.1 715.8,1082.9 716.8,1083.1 717.8,1082.6 718.8,1083.4 719.8,1083.1 720.8,1083.5 721.8,1084.1 722.8,1082.8 723.8,1084 724.8,1083.9 725.8,1083.9 726.8,1084.2 727.8,1083.8 728.8,1083.3 729.8,1083.9 730.8,1084 731.8,1083.5 732.8,1084.5 733.8,1084.5 734.8,1084 735.8,1084.5 736.8,1084.6 737.8,1084.7 738.8,1084.7 739.8,1085.2 740.8,1084.9 741.8,1085.7 742.8,1085.1 743.8,1085.6 744.8,1085.7 745.8,1084.7 746.8,1085.4 747.8,1085.6 748.8,1085.7 749.8,1085.7 750.8,1086.1 751.8,1086 752.8,1085.7 753.8,1086.3 754.8,1085.9 755.8,1086.2 756.8,1085.9 757.8,1085.7 758.8,1085.9 759.8,1086.9 760.8,1086.7 761.8,1086.3 762.8,1086.9 763.8,1086.3 764.8,1086.5 765.8,1086.2 766.8,1086.8 767.8,1087.2 768.8,1087.9 769.8,1087 770.8,1087.3 771.8,1087.4 772.8,1087.7 773.8,1087.2 774.8,1087.1 775.8,1087.9 776.8,1087.2 777.8,1087.9 778.8,1087.6 779.8,1087.9 780.8,1088.1 781.8,1087.4 782.8,1088.8 783.8,1087.6 784.8,1087.8 785.8,1088.4 786.8,1087.6 787.8,1088.1 788.8,1088.5 789.8,1088.4 790.8,1088.5 791.8,1088.5 792.8,1088.6 793.8,1088.6 794.8,1089.5 795.8,1089.1 796.8,1088.5 797.8,1088.9 798.8,1089.3 799.8,1089.6 800.8,1088.7 801.8,1089.2 802.8,1088.6 803.8,1089.1 804.8,1089.9 805.8,1089.7 806.8,1089.4 807.8,1089.1 808.8,1089.6 809.8,1089.6 810.8,1089.8 811.8,1090 812.8,1089.8 813.8,1089.2 814.8,1089.6 815.8,1089.8 816.8,1089.6 817.8,1090.5 818.8,1089.7 819.8,1090.2 820.8,1090.2 821.8,1090.2 822.8,1090.2 823.8,1090 824.8,1090.3 825.8,1090.6 826.8,1090 827.8,1090.9 828.8,1090.2 829.8,1090.8 830.8,1090.4 831.8,1091.1 832.8,1091.1 833.8,1091.2 834.8,1091.4 835.8,1090.6 836.8,1090 837.8,1090.2 838.8,1090.4 839.8,1091.1 840.8,1091.1 841.8,1090.5 842.8,1091.1 843.8,1090.7 844.8,1090.7 845.8,1091 846.8,1090.5 847.8,1091.2 848.8,1091.2 849.8,1091.6 850.8,1091.3 851.8,1091.2 852.8,1091.4 853.8,1091 854.8,1091.1 855.8,1090.7 856.8,1090.9 857.8,1091.1 858.8,1091.5 859.8,1091.7 860.8,1091.7 861.8,1091 862.8,1091.2 863.8,1090.9 864.8,1090.7 865.8,1091.5 866.8,1090.7 867.8,1091.5 868.8,1091 869.8,1091.2 870.8,1091.6 871.8,1091 872.8,1091.5 873.8,1091 874.8,1091.3 875.8,1091.2 876.8,1091.3 877.8,1090.9 878.8,1091.2 879.8,1091.4 880.8,1091 881.8,1091.5 882.8,1091.5 883.8,1091.3 884.8,1091.2 885.8,1091.4 886.8,1091.1 887.8,1091.5 888.8,1091.4 889.8,1091.8 890.8,1091.3 891.8,1091 892.8,1091.5 893.8,1091.2 894.8,1091.8 895.8,1091 896.8,1091.1 897.8,1091.3 898.8,1091.3 899.8,1091.4 900.8,1092.1 901.8,1091.3 902.8,1091.8 903.8,1091.2 904.8,1091.2 905.8,1091.3 906.8,1091.9 907.8,1091.5 908.8,1091.5 909.8,1091.2 910.8,1091.3 911.8,1092.1 912.8,1091 913.8,1090.7 914.8,1091.3 915.8,1091 916.8,1090.9 917.8,1090.7 918.8,1091.5 919.8,1091.3 920.8,1091.2 921.8,1091.6 922.8,1091.7 923.8,1091.4 924.8,1091.6 925.8,1090.9 926.8,1091.5 927.8,1091 928.8,1091.3 929.8,1091.8 930.8,1091.3 931.8,1092 932.8,1091.8 933.8,1091.6 934.8,1090.9 935.8,1091.4 936.8,1091.5 937.8,1091.7 938.8,1091.3 939.8,1090.9 940.8,1091.6 941.8,1090.8 942.8,1091.1 943.8,1090.7 944.8,1091.3 945.8,1091.6 946.8,1091.7 947.8,1091 948.8,1091.5 949.8,1091.4 950.8,1091.5 951.8,1091.7 952.8,1091.5 953.8,1091.9 954.8,1091 955.8,1091.5 956.8,1091.5 957.8,1091 958.8,1091.4 959.8,1091.3 960.8,1090.4 961.8,1091.6 962.8,1091.3 963.8,1091.7 964.8,1091.3 965.8,1090.1 966.8,1091.5 967.8,1091.5 968.8,1091.7 969.8,1092.1 970.8,1091.4 971.8,1091.5 972.8,1091.4 973.8,1091.1 974.8,1090.8 975.8,1091.9 976.8,1092 977.8,1090 978.8,1091.4 979.8,1090.9 980.8,1091.1 981.8,1091.3 982.8,1091.2 983.8,1090.9 984.8,1091.2 985.8,1090.8 986.8,1090.9 987.8,1091.5 988.8,1091.1 989.8,1090.9 990.8,1091.1 991.8,1091.1 992.8,1091.5 993.8,1091.7 994.8,1091.6 995.8,1091.2 996.8,1091.2 997.8,1092 998.8,1091.3 999.8,1091.2 1000.8,1091.7 1001.8,1091 1002.8,1091.9 1003.8,1092 1004.8,1091.6 1005.8,1090.7 1006.8,1091.5 1007.8,1091.6 1008.8,1091.5 1009.8,1092.1 1010.8,1091.2 1011.8,1091.3 1012.8,1091.8 1013.8,1091.5 1014.8,1091.8 1015.8,1091.5 1016.8,1091.3 1017.8,1091.1 1018.8,1091.4 1019.8,1091.1 1020.8,1091.8 1021.8,1091.7 1022.8,1090.9 1023.8,1091.9 1024.8,1091.4 1025.8,1091.2 1026.8,1092.3 1027.8,1091.6 1028.8,1091.5 1029.8,1091.8 1030.8,1091.2 1031.8,1091.7 1032.8,1091.8 1033.8,1091.5 1034.8,1091.8 1035.8,1092 1036.8,1091.8 1037.8,1091 1038.8,1091.6 1039.8,1091.9 1040.8,1092.3 1041.8,1092 1042.8,1091.3 1043.8,1091.4 1044.8,1092 1045.8,1092.5 1046.8,1091.9 1047.8,1091.7 1048.8,1091.9 1049.8,1092.1 1050.8,1091.8 1051.8,1092 1052.8,1091.6 1053.8,1091.8 1054.8,1092 1055.8,1091.8 1056.8,1091.6 1057.8,1092.6 1058.8,1092 1059.8,1092.3 1060.8,1091.5 1061.8,1092 1062.8,1091.9 1063.8,1090.1 1064.8,1091.2 1065.8,1092 1066.8,1092.3 1067.8,1092.2 1068.8,1092.3 1069.8,1091.6 1070.8,1091.4 1071.8,1092.1 1072.8,1092.1 1073.8,1092.2 1074.8,1090.8 1075.8,1092.1 1076.8,1092.2 1077.8,1092.1 1078.8,1091.6 1079.8,1091.9 1080.8,1092 1081.8,1092.2 1082.8,1092.8 1083.8,1092.4 1084.8,1092.2 1085.8,1091.7 1086.8,1092.6 1087.8,1092.2 1088.8,1091.6 1089.8,1092.4 1090.8,1092.4 1091.8,1092.5 1092.8,1092.5 1093.8,1092.2 1094.8,1092.4 1095.8,1092.1 1096.8,1092.4 1097.8,1092.6 1098.8,1092.6 1099.8,1092.2 1100.8,1093 1101.8,1092.5 1102.8,1091.8 1103.8,1093 1104.8,1092.9 1105.8,1093 1106.8,1092.6 1107.8,1092.5 1108.8,1092.4 1109.8,1092.9 1110.8,1093 1111.8,1093 1112.8,1093 1113.8,1092.5 1114.8,1092.9 1115.8,1093 1116.8,1092.8 1117.8,1093.4 1118.8,1092.2 1119.8,1093 1120.8,1092.8 1121.8,1092.9 1122.8,1093 1123.8,1092.9 1124.8,1093 1125.8,1093 1126.8,1092.6 1127.8,1093.3 1128.8,1093.3 1129.8,1092.7 1130.8,1093.3 1131.8,1093.1 1132.8,1093.3 1133.8,1093.2 1134.8,1092.9 1135.8,1093.3 1136.8,1092.6 1137.8,1093.7 1138.8,1092.9 1139.8,1093 1140.8,1093.5 1141.8,1093.2 1142.8,1093.5 1143.8,1093.9 1144.8,1093.5 1145.8,1093.2 1146.8,1093 1147.8,1093.3 1148.8,1093 1149.8,1093.4 1150.8,1092.6 1151.8,1093.1 1152.8,1093.1 1153.8,1093 1154.8,1092.7 1155.8,1093.6 1156.8,1092.7 1157.8,1092.2 1158.8,1092.9 1159.8,1093.4 1160.8,1093.5 1161.8,1093.2 1162.8,1093.4 1163.8,1093.5 1164.8,1093.1 1165.8,1093.4 1166.8,1093.7 1167.8,1093.3 1168.8,1093.3 1169.8,1093.2 1170.8,1093.2 1171.8,1093.3 1172.8,1092.9 1173.8,1093.3 1174.8,1093.1 1175.8,1093.5 1176.8,1093.9 1177.8,1093.7 1178.8,1093.2 1179.8,1093.5 1180.8,1093.4 1181.8,1092.7 1182.8,1092.8 1183.8,1093.8 1184.8,1092.8 1185.8,1093.4 1186.8,1093.1 1187.8,1093.3 1188.8,1093.6 1189.8,1093.5 1190.8,1093.7 1191.8,1093.2 1192.8,1092.7 1193.8,1093.7 1194.8,1093.7 1195.8,1093.9 1196.8,1093.9 1197.8,1093.7 1198.8,1093.3 1199.8,1092.9 1200.8,1093.2 1201.8,1093.1 1202.8,1092.9 1203.8,1093.3 1204.8,1093.7 1205.8,1093.2 1206.8,1093.4 1207.8,1092.8 1208.8,1092.6 1209.8,1093.3 1210.8,1093.2 1211.8,1092 1212.8,1093.6 1213.8,1093.7 1214.8,1093.7 1215.8,1093.4 1216.8,1093.1 1217.8,1093.9 1218.8,1092.8 1219.8,1093.5 1220.8,1093.3 1221.8,1093 1222.8,1093.8 1223.8,1092 1224.8,1093.3 1225.8,1093.3 1226.8,1093.5 1227.8,1093.3 1228.8,1094.1 1229.8,1093.1 1230.8,1093.2 1231.8,1093.6 1232.8,1093.2 1233.8,1093.2 1234.8,1093.3 1235.8,1093.4 1236.8,1093.8 1237.8,1093.1 1238.8,1093.7 1239.8,1093.1 1240.8,1093.1 1241.8,1093.7 1242.8,1093.1 1243.8,1093.7 1244.8,1093.7 1245.8,1093.3 1246.8,1092.6 1247.8,1093.5 1248.8,1093.2 1249.8,1093.4 1250.8,1094 1251.8,1093 1252.8,1092.4 1253.8,1093.7 1254.8,1093.8 1255.8,1093.4 1256.8,1093.5 1257.8,1093.3 1258.8,1093.3 1259.8,1093.4 1260.8,1093.7 1261.8,1093 1262.8,1092.9 1263.8,1093.5 1264.8,1093.3 1265.8,1093.7 1266.8,1093.5 1267.8,1093.4 1268.8,1093.5 1269.8,1094.2 1270.8,1093.5 1271.8,1093.3 1272.8,1093 1273.8,1093.7 1274.8,1094 1275.8,1093.5 1276.8,1093.5 1277.8,1093.4 1278.8,1093.6 1279.8,1093.4 1280.8,1093.6 1281.8,1093.1 1282.8,1093.5 1283.8,1094.1 1284.8,1093.3 1285.8,1093.4 1286.8,1093.2 1287.8,1093.4 1288.8,1093.5 1289.8,1094.1 1290.8,1093.4 1291.8,1093.4 1292.8,1093.5 1293.8,1093.2 1294.8,1093.5 1295.8,1092.8 1296.8,1093.7 1297.8,1092.9 1298.8,1093.7 1299.8,1094 1300.8,1093.7 1301.8,1093.9 1302.8,1093.7 1303.8,1093.6 1304.8,1093.6 1305.8,1093.8 1306.8,1093.7 1307.8,1093.1 1308.8,1093.2 1309.8,1093.3 1310.8,1093.1 1311.8,1093.3 1312.8,1093.2 1313.8,1093.1 1314.8,1093.4 1315.8,1093.9 1316.8,1093.9 1317.8,1094 1318.8,1092.3 1319.8,1092.8 1320.8,1094.1 1321.8,1093.3 1322.8,1093 1323.8,1093.2 1324.8,1093.3 1325.8,1093.2 1326.8,1093.8 1327.8,1093.4 1328.8,1094.1 1329.8,1092 1330.8,1092.9 1331.8,1093.4 1332.8,1093.8 1333.8,1093.7 1334.8,1093.5 1335.8,1093.5 1336.8,1093.4 1337.8,1093.3 1338.8,1093.7 1339.8,1093.5 1340.8,1093.3 1341.8,1092.9 1342.8,1093.6 1343.8,1093.5 1344.8,1092.8 1345.8,1093.6 1346.8,1093.1 1347.8,1093.4 1348.8,1093.5 1349.8,1093.9 1350.8,1093.1 1351.8,1094 1352.8,1093.6 1353.8,1094.2 1354.8,1093.7 1355.8,1093.6 1356.8,1093.3 1357.8,1094.2 1358.8,1094 1359.8,1093.6 1360.8,1093.5 1361.8,1093.2 1362.8,1093.5 1363.8,1093.6 1364.8,1093.3 1365.8,1093.4 1366.8,1093.7 1367.8,1093.4 1368.8,1093.4 1369.8,1093.9 1370.8,1094 1371.8,1093.7 1372.8,1093.7 1373.8,1093.7 1374.8,1093.6 1375.8,1093.6 1376.8,1093.7 1377.8,1093.3 1378.8,1093.1 1379.8,1093.3 1380.8,1093.3 1381.8,1093.7 1382.8,1093.8 1383.8,1093.6 1384.8,1093.2 1385.8,1093.1 1386.8,1093 1387.8,1093.5 1388.8,1093.8 1389.8,1093.3 1390.8,1093.4 1391.8,1093.6 1392.8,1093.5 1393.8,1093.7 1394.8,1093.4 1395.8,1093.5 1396.8,1093.5 1397.8,1094 1398.8,1093.6 1399.8,1093.9 1400.8,1093.5 1401.8,1093.9 1402.8,1093.6 1403.8,1093.2 1404.8,1093.1 1405.8,1093.9 1406.8,1093.3 1407.8,1093.5 1408.8,1093.1 1409.8,1093.7 1410.8,1093.3 1411.8,1094.1 1412.8,1093.4 1413.8,1093.8 1414.8,1094.3 1415.8,1094 1416.8,1093.8 1417.8,1093.2 1418.8,1094 1419.8,1094.1 1420.8,1093.5 1421.8,1093.6 1422.8,1093.4 1423.8,1093.3 1424.8,1093.6 1425.8,1093.7 1426.8,1093.7 1427.8,1094 1428.8,1093.8 1429.8,1093.7 1430.8,1094 1431.8,1093.3 1432.8,1093.6 1433.8,1093.7 1434.8,1093.9 1435.8,1093.2 1436.8,1094 1437.8,1093.2 1438.8,1093.4 1439.8,1094 1440.8,1093 1441.8,1093.5 1442.8,1094.1 1443.8,1093.9 1444.8,1093.6 1445.8,1093.6 1446.8,1093.8 1447.8,1093.1 1448.8,1094.1 1449.8,1093.5 1450.8,1093.4 1451.8,1093.9 1452.8,1093.8 1453.8,1093.7 1454.8,1093.7 1455.8,1093.6 1456.8,1093.1 1457.8,1093 1458.8,1093.9 1459.8,1093.8 1460.8,1093.6 1461.8,1094.1 1462.8,1093.4 1463.8,1093.4 1464.8,1093.9 1465.8,1093.3 1466.8,1093.3 1467.8,1093.6 1468.8,1093.4 1469.8,1093.7 1470.8,1093.9 1471.8,1093.4 1472.8,1093.7 1473.8,1093.9 1474.8,1093.5 1475.8,1093.7 1476.8,1094 1477.8,1093.4 1478.8,1093.8 1479.8,1094.3 1480.8,1093.5 1481.8,1093.1 1482.8,1093.3 1483.8,1093.5 1484.8,1094 1485.8,1093.8 1486.8,1093.5 1487.8,1092.9 1488.8,1093.5 1489.8,1094.3 1490.8,1093.2 1491.8,1093.7 1492.8,1093.8 1493.8,1093.9 1494.8,1093.9 1495.8,1094 1496.8,1094.1 1497.8,1093.8 1498.8,1093.8 1499.8,1093.6 1500.8,1093.6 1501.8,1093.3 1502.8,1094 1503.8,1092.9 1504.8,1093.9 1505.8,1093.1 1506.8,1093.7 1507.8,1093.4 1508.8,1094.3 1509.8,1093.7 1510.8,1093.5 1511.8,1094.1 1512.8,1093.9 1513.8,1093.3 1514.8,1093.6 1515.8,1094.1 1516.8,1092.9 1517.8,1093.2 1518.8,1093.6 1519.8,1094.1 1520.8,1093.2 1521.8,1093.5 1522.8,1093.4 1523.8,1093.9 1524.8,1093.7 1525.8,1093.6 1526.8,1093.3 1527.8,1093 1528.8,1093.8 1529.8,1094.2 1530.8,1093.5 1531.8,1093.3 1532.8,1094 1533.8,1093.1 1534.8,1092.9 1535.8,1093.8 1536.8,1093.8 1537.8,1094 1538.8,1093.4 1539.8,1093.6 1540.8,1093.5 1541.8,1093.8 1542.8,1093.6 1543.8,1093.6 1544.8,1093.7 1545.8,1093.6 1546.8,1093.3 1547.8,1093.8 1548.8,1093.8 1549.8,1093.7 1550.8,1093.3 1551.8,1093.5 1552.8,1093.6 1553.8,1092.9 1554.8,1093.8 1555.8,1093.4 1556.8,1093 1557.8,1094 1558.8,1093.2 1559.8,1093.6 1560.8,1093.5 1561.8,1093 1562.8,1093.3 1563.8,1094.3 1564.8,1094.1 1565.8,1093.3 1566.8,1093.8 1567.8,1093.5 1568.8,1093.9 1569.8,1093.1 1570.8,1093.2 1571.8,1093.6 1572.8,1093.5 1573.8,1093.9 1574.8,1093.9 1575.8,1093.7 1576.8,1093.5 1577.8,1093.7 1578.8,1093.5 1579.8,1093.1 1580.8,1093.9 1581.8,1093.1 1582.8,1093.2 1583.8,1093.7 1584.8,1093.9 1585.8,1093.7 1586.8,1093.3 1587.8,1094.3 1588.8,1093.2 1589.8,1094.1 1590.8,1093.2 1591.8,1093.6 1592.8,1093.8 1593.8,1093.7 1594.8,1093.5 1595.8,1093.7 1596.8,1093.7 1597.8,1093.2 1598.8,1094 1599.8,1093.6 1600.8,1093.6 1601.8,1093.3 1602.8,1093.7 1603.8,1094 1604.8,1093.7 1605.8,1093.6 1606.8,1093.8 1607.8,1093.4 1608.8,1093.7 1609.8,1093.3 1610.8,1093.9" stroke="#00dc00" stroke-width="4.05"/>
<path d="M215.8,908.6 216.8,910.1 217.8,911 218.8,909.1 219.8,909.1 220.8,910.6 221.8,909.8 222.8,910.7 223.8,911.7 224.8,910.8 225.8,911.5 226.8,908.3 227.8,911.8 228.8,910.7 229.8,910.1 230.8,911 231.8,910.2 232.8,910.3 233.8,909.6 234.8,911.2 235.8,910.7 236.8,911.4 237.8,913.2 238.8,912.6 239.8,911.4 240.8,913.4 241.8,914.1 242.8,913.3 243.8,913.5 244.8,913.5 245.8,912.8 246.8,915.1 247.8,914.7 248.8,914.3 249.8,914.6 250.8,914.7 251.8,916.5 252.8,915 253.8,913.8 254.8,915.9 255.8,916.8 256.8,916.8 257.8,916 258.8,915 259.8,918.9 260.8,916.1 261.8,917.5 262.8,917.5 263.8,917.2 264.8,917.7 265.8,917.2 266.8,917.7 267.8,918.3 268.8,919 269.8,921.6 270.8,918.6 271.8,921 272.8,920.2 273.8,920 274.8,919.3 275.8,920.9 276.8,920.2 277.8,921.7 278.8,922.1 279.8,920.8 280.8,923.4 281.8,922.4 282.8,922.8 283.8,923.4 284.8,923 285.8,924.6 286.8,925.5 287.8,924.4 288.8,925.4 289.8,926.6 290.8,925.7 291.8,925.1 292.8,926.7 293.8,926 294.8,925.9 295.8,925 296.8,926.8 297.8,926.1 298.8,927.4 299.8,925.4 300.8,926.6 301.8,929.4 302.8,929.9 303.8,928.8 304.8,929 305.8,927 306.8,929.7 307.8,928.9 308.8,927.8 309.8,929.1 310.8,929.3 311.8,931.3 312.8,931.1 313.8,933.3 314.8,932.9 315.8,931.8 316.8,932.6 317.8,931.2 318.8,933.4 319.8,932.6 320.8,933.4 321.8,933.8 322.8,933.9 323.8,933.7 324.8,935.1 325.8,935.4 326.8,932.9 327.8,934.7 328.8,935.4 329.8,935.3 330.8,936.3 331.8,937.2 332.8,936.8 333.8,936.9 334.8,938.3 335.8,938 336.8,938.2 337.8,940.2 338.8,939.6 339.8,937.9 340.8,940.4 341.8,938.8 342.8,940 343.8,938.4 344.8,941.3 345.8,939.1 346.8,941.4 347.8,943.2 348.8,942.1 349.8,941.9 350.8,941.2 351.8,942.1 352.8,943.5 353.8,941.1 354.8,942.3 355.8,944.7 356.8,943.5 357.8,945.2 358.8,945 359.8,944 360.8,944.9 361.8,946.6 362.8,945.4 363.8,945.9 364.8,946.8 365.8,946.1 366.8,946.6 367.8,947.6 368.8,947.3 369.8,947.7 370.8,948.6 371.8,950 372.8,948.6 373.8,948.4 374.8,951.2 375.8,950.4 376.8,948.2 377.8,949.7 378.8,949 379.8,951.4 380.8,950 381.8,950.9 382.8,953 383.8,951.3 384.8,952.2 385.8,952.8 386.8,953.6 387.8,954 388.8,954.6 389.8,953.1 390.8,954.3 391.8,952.7 392.8,954.5 393.8,954.7 394.8,956.7 395.8,955.7 396.8,955.5 397.8,955.8 398.8,955.6 399.8,956.3 400.8,956.5 401.8,957.4 402.8,957.2 403.8,958.1 404.8,959.3 405.8,957.8 406.8,958.5 407.8,958.5 408.8,961.7 409.8,961.7 410.8,961.1 411.8,961.2 412.8,960.7 413.8,962.8 414.8,962.4 415.8,963.1 416.8,963.3 417.8,961.9 418.8,962.7 419.8,964 420.8,965.3 421.8,964.5 422.8,965.9 423.8,966 424.8,965.8 425.8,967.7 426.8,966.8 427.8,967.2 428.8,970.1 429.8,970.4 430.8,970 431.8,971.2 432.8,970.3 433.8,971.1 434.8,972.2 435.8,972.7 436.8,973.4 437.8,972.4 438.8,974.7 439.8,973.6 440.8,974.9 441.8,977 442.8,976.7 443.8,976 444.8,977.1 445.8,976.7 446.8,977.2 447.8,977.6 448.8,978.4 449.8,979.2 450.8,980.1 451.8,981.7 452.8,980.9 453.8,981.2 454.8,980.6 455.8,982.9 456.8,982.4 457.8,983.9 458.8,983.2 459.8,984.8 460.8,983.5 461.8,984.1 462.8,984.5 463.8,984.8 464.8,985.6 465.8,985.8 466.8,984.5 467.8,985.4 468.8,986 469.8,987.3 470.8,986.9 471.8,988 472.8,988.3 473.8,988.3 474.8,987 475.8,990.3 476.8,989.6 477.8,989.3 478.8,990.4 479.8,990.3 480.8,991.1 481.8,991 482.8,993.5 483.8,992.5 484.8,993.6 485.8,993.4 486.8,995.1 487.8,996.1 488.8,995.9 489.8,995.9 490.8,997.3 491.8,997.7 492.8,999.2 493.8,999.5 494.8,1000.3 495.8,1000.6 496.8,1001.3 497.8,1002.3 498.8,1003.9 499.8,1003.8 500.8,1005 501.8,1005.1 502.8,1006 503.8,1006.3 504.8,1007.8 505.8,1008.4 506.8,1008.3 507.8,1010.1 508.8,1010.7 509.8,1012.4 510.8,1013.3 511.8,1015.4 512.8,1015.7 513.8,1016.3 514.8,1017.4 515.8,1018.5 516.8,1019.5 517.8,1021.1 518.8,1021.6 519.8,1023.1 520.8,1024.7 521.8,1025 522.8,1026.5 523.8,1028.7 524.8,1029.3 525.8,1030.1 526.8,1032 527.8,1032.8 528.8,1033.8 529.8,1036 530.8,1036.3 531.8,1037.7 532.8,1039.3 533.8,1041 534.8,1042.1 535.8,1042.6 536.8,1043.9 537.8,1044.8 538.8,1046.3 539.8,1047 540.8,1047.3 541.8,1048.9 542.8,1048.7 543.8,1050 544.8,1050 545.8,1052.1 546.8,1052.3 547.8,1053.4 548.8,1054.9 549.8,1054.7 550.8,1055.3 551.8,1055.6 552.8,1056.6 553.8,1056.9 554.8,1058 555.8,1058.5 556.8,1059 557.8,1059.3 558.8,1059.9 559.8,1060.5 560.8,1061 561.8,1061.8 562.8,1061.8 563.8,1062.4 564.8,1063.2 565.8,1064.2 566.8,1064.1 567.8,1064.4 568.8,1064.8 569.8,1065.9 570.8,1065.5 571.8,1065.9 572.8,1066.5 573.8,1066.6 574.8,1067.2 575.8,1067.9 576.8,1068 577.8,1067.7 578.8,1069 579.8,1069.5 580.8,1069.3 581.8,1070.6 582.8,1070.3 583.8,1070.7 584.8,1070.3 585.8,1072.1 586.8,1072.3 587.8,1072.3 588.8,1072.7 589.8,1072 590.8,1072.4 591.8,1073 592.8,1073.2 593.8,1073 594.8,1073.8 595.8,1074.3 596.8,1074.2 597.8,1075.1 598.8,1074.9 599.8,1074.9 600.8,1075 601.8,1075.2 602.8,1076.2 603.8,1075.7 604.8,1076.7 605.8,1077 606.8,1076.5 607.8,1077.5 608.8,1077.5 609.8,1078.4 610.8,1078.2 611.8,1078.2 612.8,1078.7 613.8,1079.2 614.8,1078.6 615.8,1078.8 616.8,1079.6 617.8,1080.2 618.8,1079.2 619.8,1080.4 620.8,1080.2 621.8,1080.5 622.8,1080.6 623.8,1080.4 624.8,1080.4 625.8,1081.6 626.8,1080.5 627.8,1081.1 628.8,1081.8 629.8,1081.3 630.8,1081.8 631.8,1081.7 632.8,1081.5 633.8,1082.1 634.8,1082 635.8,1081.9 636.8,1082.5 637.8,1082.2 638.8,1082.5 639.8,1082.4 640.8,1083.2 641.8,1083.1 642.8,1083 643.8,1082.9 644.8,1083 645.8,1083.1 646.8,1082.9 647.8,1083.9 648.8,1083.1 649.8,1083.8 650.8,1083.9 651.8,1083.6 652.8,1083.7 653.8,1083.4 654.8,1083.8 655.8,1083.8 656.8,1084.4 657.8,1083.9 658.8,1084 659.8,1084.5 660.8,1083.8 661.8,1084.2 662.8,1084.9 663.8,1084.5 664.8,1084.9 665.8,1083.9 666.8,1084.5 667.8,1084.8 668.8,1084.4 669.8,1085.3 670.8,1084.5 671.8,1084.9 672.8,1085.3 673.8,1085.3 674.8,1085.2 675.8,1085 676.8,1085.5 677.8,1085.2 678.8,1086 679.8,1085.5 680.8,1085.3 681.8,1086.1 682.8,1086.4 683.8,1086 684.8,1085.7 685.8,1085.4 686.8,1085.7 687.8,1086.3 688.8,1086.3 689.8,1085.5 690.8,1086.2 691.8,1085.6 692.8,1086.4 693.8,1086.8 694.8,1086.2 695.8,1086.7 696.8,1086.1 697.8,1086.3 698.8,1086.7 699.8,1086.7 700.8,1086.3 701.8,1086.9 702.8,1086.5 703.8,1085.8 704.8,1086.7 705.8,1086.8 706.8,1085.9 707.8,1086.6 708.8,1086.9 709.8,1086.8 710.8,1086.5 711.8,1086.4 712.8,1086.8 713.8,1086.7 714.8,1087.1 715.8,1087 716.8,1087.5 717.8,1086.8 718.8,1087.2 719.8,1087.3 720.8,1087.1 721.8,1087.5 722.8,1086.7 723.8,1087.2 724.8,1088 725.8,1087.6 726.8,1087.5 727.8,1087.9 728.8,1087.6 729.8,1087.3 730.8,1087.9 731.8,1088.2 732.8,1087.8 733.8,1088.5 734.8,1088.2 735.8,1088.2 736.8,1088 737.8,1089 738.8,1089.1 739.8,1088.1 740.8,1088.5 741.8,1088.4 742.8,1089.1 743.8,1088.8 744.8,1089.2 745.8,1088.9 746.8,1088.7 747.8,1089.6 748.8,1089.2 749.8,1089.1 750.8,1089 751.8,1089.4 752.8,1089.8 753.8,1089.4 754.8,1090.3 755.8,1090.2 756.8,1089.8 757.8,1090 758.8,1089.7 759.8,1090.1 760.8,1089.6 761.8,1089.7 762.8,1090.9 763.8,1090.3 764.8,1090.6 765.8,1090.1 766.8,1090.6 767.8,1090.5 768.8,1089.9 769.8,1090.5 770.8,1090.7 771.8,1090.7 772.8,1091.2 773.8,1091.1 774.8,1090.5 775.8,1090.7 776.8,1091 777.8,1091.1 778.8,1091.1 779.8,1090.7 780.8,1091.3 781.8,1091.2 782.8,1090.6 783.8,1090.7 784.8,1090.9 785.8,1091.2 786.8,1091 787.8,1091.2 788.8,1091.1 789.8,1091.4 790.8,1091.8 791.8,1091.8 792.8,1091.2 793.8,1092.1 794.8,1092.3 795.8,1091.6 796.8,1092.5 797.8,1092 798.8,1091.6 799.8,1092.5 800.8,1092 801.8,1092 802.8,1092.8 803.8,1092.7 804.8,1092.1 805.8,1092 806.8,1092.3 807.8,1092.4 808.8,1092.6 809.8,1091.7 810.8,1092.5 811.8,1092.5 812.8,1092.4 813.8,1092.6 814.8,1092.8 815.8,1092.1 816.8,1092.2 817.8,1092.6 818.8,1092.6 819.8,1092.7 820.8,1092.8 821.8,1093.4 822.8,1092.6 823.8,1092.9 824.8,1093.1 825.8,1092.7 826.8,1092.7 827.8,1093 828.8,1093.1 829.8,1092.7 830.8,1093.1 831.8,1093.1 832.8,1093.1 833.8,1093.4 834.8,1092.6 835.8,1093.4 836.8,1093 837.8,1093.1 838.8,1093.1 839.8,1092.9 840.8,1093.4 841.8,1093.9 842.8,1093.4 843.8,1093.7 844.8,1093.1 845.8,1093.1 846.8,1093.4 847.8,1093.2 848.8,1093.2 849.8,1093.7 850.8,1093.6 851.8,1093.7 852.8,1093.5 853.8,1093.4 854.8,1093.4 855.8,1093.9 856.8,1093.5 857.8,1093.9 858.8,1093.9 859.8,1094.3 860.8,1093.5 861.8,1094.1 862.8,1093.3 863.8,1094.1 864.8,1093.9 865.8,1094.1 866.8,1093.1 867.8,1094.2 868.8,1093.6 869.8,1093.6 870.8,1093.2 871.8,1093.5 872.8,1094.1 873.8,1094.3 874.8,1093.9 875.8,1093.5 876.8,1093.9 877.8,1093.3 878.8,1093.7 879.8,1093.5 880.8,1094.1 881.8,1093.3 882.8,1093.6 883.8,1093.9 884.8,1094 885.8,1093.3 886.8,1093.6 887.8,1093.1 888.8,1094 889.8,1093.6 890.8,1093.6 891.8,1093.6 892.8,1094.3 893.8,1093.8 894.8,1093.5 895.8,1094.1 896.8,1094 897.8,1093.8 898.8,1093.5 899.8,1093.8 900.8,1094 901.8,1093.7 902.8,1093.8 903.8,1094.1 904.8,1093.5 905.8,1094 906.8,1093.7 907.8,1093.4 908.8,1094.1 909.8,1094 910.8,1093.6 911.8,1093.6 912.8,1094.2 913.8,1093.9 914.8,1093.2 915.8,1093.5 916.8,1093.9 917.8,1093.6 918.8,1094.1 919.8,1093.7 920.8,1094 921.8,1093.8 922.8,1093.9 923.8,1093.9 924.8,1093.8 925.8,1093.4 926.8,1094.2 927.8,1093.7 928.8,1093.5 929.8,1094.3 930.8,1093.6 931.8,1094.3 932.8,1093.1 933.8,1093.9 934.8,1093.8 935.8,1093.6 936.8,1094.2 937.8,1093.5 938.8,1093.8 939.8,1093.6 940.8,1094.1 941.8,1093.5 942.8,1093.9 943.8,1093.8 944.8,1093.1 945.8,1094.5 946.8,1093.9 947.8,1093.9 948.8,1094 949.8,1093.7 950.8,1093.6 951.8,1091.8 952.8,1093.6 953.8,1093.7 954.8,1093.9 955.8,1093.8 956.8,1093.5 957.8,1093.8 958.8,1093.9 959.8,1093.9 960.8,1093.8 961.8,1094 962.8,1093.3 963.8,1093.6 964.8,1094 965.8,1093.7 966.8,1093.5 967.8,1093.7 968.8,1093.6 969.8,1093.8 970.8,1094.4 971.8,1094.2 972.8,1093.6 973.8,1093.8 974.8,1094.4 975.8,1093.6 976.8,1094 977.8,1093.7 978.8,1093.4 979.8,1093.7 980.8,1093.8 981.8,1094.1 982.8,1093.5 983.8,1094.2 984.8,1093.7 985.8,1093.7 986.8,1093.4 987.8,1093.1 988.8,1093.7 989.8,1093.5 990.8,1093.7 991.8,1093.6 992.8,1093.1 993.8,1093.5 994.8,1093.7 995.8,1093.7 996.8,1093.7 997.8,1093.7 998.8,1093.4 999.8,1093.7 1000.8,1093.5 1001.8,1093.7 1002.8,1093.7 1003.8,1093.7 1004.8,1094.3 1005.8,1093.3 1006.8,1093.1 1007.8,1093.8 1008.8,1093.5 1009.8,1093.8 1010.8,1093.6 1011.8,1093.8 1012.8,1093.5 1013.8,1093.5 1014.8,1094.3 1015.8,1094.1 1016.8,1093.3 1017.8,1093.6 1018.8,1094.1 1019.8,1093.7 1020.8,1093.3 1021.8,1093.8 1022.8,1093.9 1023.8,1093.6 1024.8,1093.8 1025.8,1093.5 1026.8,1092.5 1027.8,1094.3 1028.8,1093.7 1029.8,1093.5 1030.8,1093.9 1031.8,1093.5 1032.8,1093.7 1033.8,1093.4 1034.8,1093.5 1035.8,1093.4 1036.8,1093.4 1037.8,1093.6 1038.8,1093.5 1039.8,1094.3 1040.8,1093.6 1041.8,1093.5 1042.8,1093.7 1043.8,1094 1044.8,1094 1045.8,1093.3 1046.8,1093.4 1047.8,1093.4 1048.8,1093.6 1049.8,1093.7 1050.8,1094.2 1051.8,1094.1 1052.8,1093.4 1053.8,1093 1054.8,1092.3 1055.8,1092.9 1056.8,1093.6 1057.8,1093.8 1058.8,1093.3 1059.8,1093.9 1060.8,1093.9 1061.8,1093 1062.8,1093.2 1063.8,1094.2 1064.8,1093.5 1065.8,1093.6 1066.8,1094.4 1067.8,1093.7 1068.8,1093.6 1069.8,1093 1070.8,1093.6 1071.8,1093.8 1072.8,1093.4 1073.8,1094.1 1074.8,1093.3 1075.8,1094.1 1076.8,1093.8 1077.8,1093.5 1078.8,1093.8 1079.8,1094.1 1080.8,1093.9 1081.8,1093.2 1082.8,1093.9 1083.8,1093.3 1084.8,1093.9 1085.8,1093.9 1086.8,1093.6 1087.8,1093.9 1088.8,1093.4 1089.8,1094 1090.8,1093.5 1091.8,1093 1092.8,1093.7 1093.8,1093.4 1094.8,1094.1 1095.8,1093.2 1096.8,1093.9 1097.8,1093.5 1098.8,1093.6 1099.8,1093.6 1100.8,1093 1101.8,1093.8 1102.8,1093.3 1103.8,1092.9 1104.8,1093.6 1105.8,1093.2 1106.8,1094 1107.8,1093.6 1108.8,1093.6 1109.8,1093.3 1110.8,1093.9 1111.8,1093.4 1112.8,1093.3 1113.8,1093.2 1114.8,1093.4 1115.8,1094 1116.8,1093.1 1117.8,1093.6 1118.8,1093.5 1119.8,1093.6 1120.8,1094.1 1121.8,1093.7 1122.8,1093.7 1123.8,1094.1 1124.8,1093.6 1125.8,1093.7 1126.8,1093.1 1127.8,1093.4 1128.8,1093.5 1129.8,1093.5 1130.8,1093.7 1131.8,1093.4 1132.8,1093.7 1133.8,1093.9 1134.8,1093.4 1135.8,1093.6 1136.8,1093.7 1137.8,1093.2 1138.8,1094 1139.8,1093.4 1140.8,1093.6 1141.8,1093.1 1142.8,1093.8 1143.8,1093.8 1144.8,1093.6 1145.8,1093.3 1146.8,1093.8 1147.8,1092.2 1148.8,1093.9 1149.8,1093.8 1150.8,1093.8 1151.8,1094 1152.8,1093.6 1153.8,1093.7 1154.8,1093.9 1155.8,1093.8 1156.8,1093.3 1157.8,1093.6 1158.8,1093.5 1159.8,1093.4 1160.8,1093.7 1161.8,1093.9 1162.8,1093.9 1163.8,1094 1164.8,1093.5 1165.8,1092.3 1166.8,1093.9 1167.8,1094.3 1168.8,1093.8 1169.8,1092.9 1170.8,1094.2 1171.8,1093.3 1172.8,1093.6 1173.8,1093.6 1174.8,1093.6 1175.8,1094.1 1176.8,1093.9 1177.8,1093.8 1178.8,1093.5 1179.8,1093.6 1180.8,1093.7 1181.8,1093.8 1182.8,1093.6 1183.8,1093.1 1184.8,1093.7 1185.8,1093.6 1186.8,1092.9 1187.8,1093.8 1188.8,1092.9 1189.8,1093.5 1190.8,1094.3 1191.8,1093.3 1192.8,1093.6 1193.8,1093.7 1194.8,1093.7 1195.8,1092.5 1196.8,1093.4 1197.8,1093.3 1198.8,1094.2 1199.8,1093.6 1200.8,1093.8 1201.8,1093.8 1202.8,1093.9 1203.8,1093.8 1204.8,1093.3 1205.8,1093.5 1206.8,1093.6 1207.8,1093.8 1208.8,1094.1 1209.8,1093.3 1210.8,1093.7 1211.8,1093.7 1212.8,1093.7 1213.8,1093 1214.8,1093.2 1215.8,1093.5 1216.8,1093.3 1217.8,1093.4 1218.8,1093.5 1219.8,1093.7 1220.8,1093.1 1221.8,1092.3 1222.8,1093.2 1223.8,1093.8 1224.8,1093.2 1225.8,1093.9 1226.8,1093.8 1227.8,1093.6 1228.8,1093.2 1229.8,1093.6 1230.8,1093.5 1231.8,1093.4 1232.8,1092.3 1233.8,1093.3 1234.8,1093.3 1235.8,1092.9 1236.8,1093.6 1237.8,1093.3 1238.8,1093.2 1239.8,1094.1 1240.8,1093.7 1241.8,1091.8 1242.8,1092.8 1243.8,1093.4 1244.8,1093.7 1245.8,1093.6 1246.8,1093.7 1247.8,1093.7 1248.8,1093.5 1249.8,1093.8 1250.8,1093.8 1251.8,1092.9 1252.8,1093.7 1253.8,1093.7 1254.8,1093.4 1255.8,1094 1256.8,1093.7 1257.8,1094 1258.8,1094 1259.8,1094 1260.8,1093.4 1261.8,1093.5 1262.8,1093.5 1263.8,1093.2 1264.8,1093.5 1265.8,1093.7 1266.8,1093 1267.8,1093.7 1268.8,1093.1 1269.8,1093.1 1270.8,1093.6 1271.8,1093.2 1272.8,1093.8 1273.8,1093.8 1274.8,1093.6 1275.8,1093.3 1276.8,1093.5 1277.8,1093.9 1278.8,1094 1279.8,1093.3 1280.8,1092.9 1281.8,1093.4 1282.8,1093.5 1283.8,1093.6 1284.8,1093.7 1285.8,1093.2 1286.8,1093.2 1287.8,1093.1 1288.8,1093.7 1289.8,1093.4 1290.8,1093.7 1291.8,1093.7 1292.8,1093.7 1293.8,1093.5 1294.8,1093.6 1295.8,1093.3 1296.8,1093.6 1297.8,1093.6 1298.8,1093.6 1299.8,1093.6 1300.8,1093.6 1301.8,1093.4 1302.8,1093.4 1303.8,1093.4 1304.8,1093 1305.8,1093.7 1306.8,1093.9 1307.8,1093 1308.8,1094.1 1309.8,1093.9 1310.8,1093.6 1311.8,1093.5 1312.8,1093.5 1313.8,1093.3 1314.8,1093.3 1315.8,1093.4 1316.8,1093.6 1317.8,1092.9 1318.8,1093.3 1319.8,1093.2 1320.8,1093.3 1321.8,1093.1 1322.8,1093 1323.8,1093.5 1324.8,1092.6 1325.8,1093.7 1326.8,1093.6 1327.8,1093.2 1328.8,1093.8 1329.8,1092.8 1330.8,1093.3 1331.8,1093 1332.8,1092.9 1333.8,1093.9 1334.8,1093.3 1335.8,1093 1336.8,1093.4 1337.8,1093.5 1338.8,1093 1339.8,1093.3 1340.8,1093.8 1341.8,1093.6 1342.8,1093.3 1343.8,1092.9 1344.8,1093.8 1345.8,1093.7 1346.8,1093.2 1347.8,1093.2 1348.8,1092.5 1349.8,1093.6 1350.8,1093.6 1351.8,1092.9 1352.8,1093.2 1353.8,1093.2 1354.8,1092.9 1355.8,1093.3 1356.8,1093.6 1357.8,1093 1358.8,1092.8 1359.8,1093.1 1360.8,1092.4 1361.8,1092.7 1362.8,1093.1 1363.8,1092.8 1364.8,1092.1 1365.8,1093.4 1366.8,1093 1367.8,1092.8 1368.8,1093 1369.8,1092.9 1370.8,1093 1371.8,1093.3 1372.8,1092.6 1373.8,1093.4 1374.8,1092.6 1375.8,1093 1376.8,1091.9 1377.8,1091.5 1378.8,1092 1379.8,1091.2 1380.8,1090.3 1381.8,1090.3 1382.8,1088.8 1383.8,1090.9 1384.8,1091.7 1385.8,1089.7 1386.8,1090.3 1387.8,1089.2 1388.8,1090.7 1389.8,1089.4 1390.8,1089 1391.8,1089.6 1392.8,1088.6 1393.8,1089.3 1394.8,1090.1 1395.8,1088.1 1396.8,1090.3 1397.8,1088.8 1398.8,1090 1399.8,1087.8 1400.8,1087.6 1401.8,1090 1402.8,1088.7 1403.8,1089.8 1404.8,1091.6 1405.8,1090.6 1406.8,1088.7 1407.8,1091.9 1408.8,1088 1409.8,1086.4 1410.8,1092.4 1411.8,1088.5 1412.8,1090.5 1413.8,1088.2 1414.8,1090.4 1415.8,1089.4 1416.8,1092.3 1417.8,1088.6 1418.8,1091.2 1419.8,1089.5 1420.8,1090.5 1421.8,1089.5 1422.8,1089.2 1423.8,1086.9 1424.8,1089.8 1425.8,1086.5 1426.8,1089 1427.8,1090.2 1428.8,1088.9 1429.8,1090 1430.8,1090.8 1431.8,1090.5 1432.8,1089.1 1433.8,1089 1434.8,1090.3 1435.8,1089.2 1436.8,1088.6 1437.8,1087.8 1438.8,1088.7 1439.8,1088.8 1440.8,1087.8 1441.8,1089.4 1442.8,1089.2 1443.8,1086.8 1444.8,1087 1445.8,1089.8 1446.8,1090 1447.8,1090.3 1448.8,1089.1 1449.8,1088.8 1450.8,1087.6 1451.8,1089.3 1452.8,1086.7 1453.8,1085.8 1454.8,1088.7 1455.8,1088.5 1456.8,1090.7 1457.8,1087.4 1458.8,1087.6 1459.8,1087.6 1460.8,1087.3 1461.8,1089.8 1462.8,1089.3 1463.8,1090.1 1464.8,1087.9 1465.8,1088.9 1466.8,1090.3 1467.8,1087.9 1468.8,1087 1469.8,1085.3 1470.8,1089 1471.8,1088.2 1472.8,1085.7 1473.8,1088.5 1474.8,1090.2 1475.8,1091 1476.8,1087.4 1477.8,1089.6 1478.8,1088.9 1479.8,1089.6 1480.8,1088.7 1481.8,1085.8 1482.8,1090.6 1483.8,1089.5 1484.8,1088.2 1485.8,1088.4 1486.8,1088.5 1487.8,1089.3 1488.8,1089.3 1489.8,1085.7 1490.8,1087.9 1491.8,1087.6 1492.8,1088.9 1493.8,1087.5 1494.8,1088.1 1495.8,1085.6 1496.8,1087.3 1497.8,1087.1 1498.8,1089.5 1499.8,1089.4 1500.8,1090.1 1501.8,1086.8 1502.8,1088.1 1503.8,1088.7 1504.8,1090.3 1505.8,1089.2 1506.8,1089.7 1507.8,1089 1508.8,1091 1509.8,1089 1510.8,1088.4 1511.8,1089.1 1512.8,1090 1513.8,1089.9 1514.8,1086.7 1515.8,1088 1516.8,1087.1 1517.8,1087.7 1518.8,1086.4 1519.8,1091.2 1520.8,1088.3 1521.8,1087.1 1522.8,1087.2 1523.8,1088.7 1524.8,1086.8 1525.8,1087.7 1526.8,1088.8 1527.8,1089 1528.8,1088.1 1529.8,1087.2 1530.8,1091.4 1531.8,1087.3 1532.8,1087.9 1533.8,1087.2 1534.8,1090.8 1535.8,1086.7 1536.8,1088.1 1537.8,1084.8 1538.8,1087.1 1539.8,1089.4 1540.8,1087.3 1541.8,1086.1 1542.8,1086.5 1543.8,1088.7 1544.8,1089.4 1545.8,1088 1546.8,1086.4 1547.8,1088.1 1548.8,1087.7 1549.8,1088 1550.8,1089.6 1551.8,1087.6 1552.8,1086.1 1553.8,1091.2 1554.8,1085.7 1555.8,1087.8 1556.8,1088.3 1557.8,1086.1 1558.8,1091.2 1559.8,1089.9 1560.8,1087.3 1561.8,1086.6 1562.8,1088.9 1563.8,1091.1 1564.8,1090 1565.8,1087.6 1566.8,1089.3 1567.8,1088.4 1568.8,1088.2 1569.8,1089 1570.8,1087.8 1571.8,1087.5 1572.8,1089.5 1573.8,1087.8 1574.8,1088.2 1575.8,1088.2 1576.8,1087.1 1577.8,1089.6 1578.8,1088 1579.8,1086.2 1580.8,1087.8 1581.8,1085.2 1582.8,1089.1 1583.8,1085.1 1584.8,1087.8 1585.8,1086.8 1586.8,1088.4 1587.8,1088 1588.8,1088 1589.8,1089.9 1590.8,1086 1591.8,1087.7 1592.8,1085.6 1593.8,1089.5 1594.8,1089.3 1595.8,1089.9 1596.8,1089.1 1597.8,1088.4 1598.8,1086.5 1599.8,1086 1600.8,1089.5 1601.8,1088.4 1602.8,1085.7 1603.8,1089.2 1604.8,1086.8 1605.8,1087.3 1606.8,1088.3 1607.8,1086.3 1608.8,1089.3 1609.8,1089.1 1610.8,1086.9" stroke="#00c8c8" stroke-width="4.05"/>
<path d="M215.8,938 216.8,937.7 217.8,938 218.8,937.5 219.8,938.7 220.8,936.6 221.8,939.2 222.8,938 223.8,938.3 224.8,937.6 225.8,937.3 226.8,938.5 227.8,939.7 228.8,939.4 229.8,940.1 230.8,939.3 231.8,939.8 232.8,939.6 233.8,938.9 234.8,940 235.8,939.8 236.8,941.1 237.8,940.3 238.8,940.6 239.8,941.3 240.8,941.8 241.8,941 242.8,941.2 243.8,941.6 244.8,942.6 245.8,941 246.8,941 247.8,944.2 248.8,942.2 249.8,942.6 250.8,940.9 251.8,942.5 252.8,943 253.8,942.8 254.8,943.1 255.8,943.6 256.8,944.2 257.8,944.9 258.8,943.2 259.8,943.4 260.8,945.2 261.8,945.1 262.8,944.5 263.8,944.2 264.8,945 265.8,945.9 266.8,946.6 267.8,947.2 268.8,947.2 269.8,945.9 270.8,948.5 271.8,947.9 272.8,947.4 273.8,947.6 274.8,948.8 275.8,947.8 276.8,948.2 277.8,948.8 278.8,950.2 279.8,947.9 280.8,950.3 281.8,947.9 282.8,949.1 283.8,950.3 284.8,951.2 285.8,949.5 286.8,951.7 287.8,952.2 288.8,951 289.8,951.4 290.8,951.7 291.8,950.5 292.8,954.3 293.8,953.1 294.8,951.8 295.8,953.7 296.8,953.9 297.8,953.6 298.8,954.2 299.8,955.1 300.8,954.2 301.8,954.1 302.8,956.6 303.8,955.8 304.8,955.4 305.8,957.4 306.8,954.4 307.8,955.6 308.8,957.4 309.8,957.3 310.8,957.7 311.8,957.2 312.8,957.4 313.8,957.8 314.8,958.2 315.8,959.4 316.8,959.9 317.8,959.9 318.8,960.8 319.8,958.6 320.8,960.1 321.8,959.7 322.8,962.2 323.8,960.9 324.8,961.8 325.8,961.8 326.8,961.3 327.8,961.4 328.8,962.8 329.8,963.3 330.8,962.6 331.8,964.7 332.8,963.6 333.8,964.5 334.8,964.3 335.8,965.1 336.8,963.3 337.8,966 338.8,965.8 339.8,966 340.8,966.6 341.8,966.4 342.8,965 343.8,965.9 344.8,965.7 345.8,966.5 346.8,967.6 347.8,968.6 348.8,966.5 349.8,967 350.8,968.2 351.8,968.9 352.8,969 353.8,968.6 354.8,969.6 355.8,969.9 356.8,969.3 357.8,971.2 358.8,969.3 359.8,970.8 360.8,971.1 361.8,971.7 362.8,972.5 363.8,971.6 364.8,972.3 365.8,973.1 366.8,974.2 367.8,972.8 368.8,974.1 369.8,974.1 370.8,973.6 371.8,975 372.8,974.1 373.8,975.2 374.8,975.6 375.8,977.5 376.8,975.5 377.8,977 378.8,977 379.8,977.1 380.8,977.2 381.8,978.9 382.8,977.7 383.8,979.2 384.8,978.8 385.8,979.8 386.8,980.3 387.8,978.9 388.8,979.7 389.8,980.7 390.8,981.3 391.8,980.6 392.8,982.3 393.8,983.1 394.8,982.8 395.8,983.4 396.8,982.9 397.8,985 398.8,986 399.8,986.8 400.8,985.8 401.8,987.5 402.8,986.3 403.8,987.6 404.8,988 405.8,987.5 406.8,988.8 407.8,990 408.8,990.8 409.8,991.3 410.8,992.4 411.8,993.9 412.8,994.9 413.8,993.5 414.8,995.5 415.8,996.7 416.8,996 417.8,998.5 418.8,999.9 419.8,998.8 420.8,998.9 421.8,1000.6 422.8,1002.5 423.8,1003.7 424.8,1003.1 425.8,1003.4 426.8,1003.4 427.8,1004.9 428.8,1004.5 429.8,1005.6 430.8,1006.8 431.8,1006.7 432.8,1006.5 433.8,1007.9 434.8,1008.9 435.8,1009.4 436.8,1008.1 437.8,1010 438.8,1010.5 439.8,1010.6 440.8,1010.6 441.8,1011.3 442.8,1011.8 443.8,1014.2 444.8,1013.6 445.8,1013.8 446.8,1014.8 447.8,1016 448.8,1015.8 449.8,1016.9 450.8,1017.5 451.8,1017.4 452.8,1019.3 453.8,1019.3 454.8,1020.5 455.8,1021.3 456.8,1021 457.8,1021.5 458.8,1022.4 459.8,1024.7 460.8,1024.3 461.8,1024.8 462.8,1026.7 463.8,1026.2 464.8,1028.5 465.8,1027.8 466.8,1029.2 467.8,1029.8 468.8,1030.8 469.8,1031.9 470.8,1032.6 471.8,1032.4 472.8,1033.3 473.8,1034.7 474.8,1036 475.8,1036.3 476.8,1037 477.8,1037.2 478.8,1039.3 479.8,1040 480.8,1040.2 481.8,1041.5 482.8,1043.3 483.8,1043.1 484.8,1043.9 485.8,1045.4 486.8,1045.1 487.8,1046.7 488.8,1047.6 489.8,1048.2 490.8,1049.3 491.8,1050.2 492.8,1051.3 493.8,1052 494.8,1053.3 495.8,1054.2 496.8,1054.6 497.8,1055.3 498.8,1055.2 499.8,1057.5 500.8,1058 501.8,1058.8 502.8,1059.9 503.8,1060 504.8,1060.7 505.8,1062 506.8,1061.5 507.8,1063.4 508.8,1063.7 509.8,1063.6 510.8,1064.3 511.8,1065.6 512.8,1065.2 513.8,1066.3 514.8,1066.6 515.8,1066.8 516.8,1067.1 517.8,1067.5 518.8,1067.7 519.8,1068.4 520.8,1069 521.8,1068.1 522.8,1069.8 523.8,1070.5 524.8,1069.3 525.8,1070.7 526.8,1070.6 527.8,1071.2 528.8,1071.2 529.8,1071.1 530.8,1072.1 531.8,1072.2 532.8,1072.6 533.8,1072.4 534.8,1073 535.8,1073.7 536.8,1073 537.8,1074 538.8,1073.5 539.8,1074.8 540.8,1075.6 541.8,1074.5 542.8,1075.2 543.8,1075.8 544.8,1075.5 545.8,1076.5 546.8,1076.5 547.8,1076.6 548.8,1077.3 549.8,1077.3 550.8,1078.3 551.8,1078.1 552.8,1078.1 553.8,1078.3 554.8,1078 555.8,1078.4 556.8,1078.5 557.8,1079.2 558.8,1079.3 559.8,1078.9 560.8,1079.6 561.8,1079.7 562.8,1079.6 563.8,1080.2 564.8,1080.1 565.8,1080.1 566.8,1080.3 567.8,1080.7 568.8,1080.3 569.8,1080.7 570.8,1081.1 571.8,1081.5 572.8,1081.4 573.8,1081.4 574.8,1081 575.8,1082.1 576.8,1081.5 577.8,1081.6 578.8,1082.4 579.8,1081.9 580.8,1082 581.8,1082.5 582.8,1082.8 583.8,1082.8 584.8,1082.2 585.8,1083 586.8,1082.9 587.8,1083 588.8,1083.5 589.8,1083.7 590.8,1083 591.8,1084 592.8,1083.7 593.8,1083.9 594.8,1083.8 595.8,1084.2 596.8,1084.6 597.8,1084.2 598.8,1084 599.8,1085.4 600.8,1085.1 601.8,1085.1 602.8,1085.4 603.8,1084.8 604.8,1085 605.8,1084.9 606.8,1085.3 607.8,1086.2 608.8,1086.1 609.8,1085.3 610.8,1086.1 611.8,1086 612.8,1086.3 613.8,1085.6 614.8,1085.9 615.8,1085.5 616.8,1085.9 617.8,1086.3 618.8,1085.9 619.8,1086 620.8,1086.4 621.8,1085.9 622.8,1085.7 623.8,1086.3 624.8,1085.5 625.8,1086.6 626.8,1085.8 627.8,1086 628.8,1085.7 629.8,1086.7 630.8,1086.7 631.8,1086.4 632.8,1086.4 633.8,1086.8 634.8,1086.4 635.8,1085.9 636.8,1086 637.8,1086.1 638.8,1085.6 639.8,1086.2 640.8,1086.2 641.8,1086.5 642.8,1086.4 643.8,1086.9 644.8,1086.2 645.8,1086.5 646.8,1086.7 647.8,1086.4 648.8,1086.5 649.8,1085.9 650.8,1086.6 651.8,1086.4 652.8,1086.9 653.8,1086.5 654.8,1086.7 655.8,1087.2 656.8,1086.2 657.8,1086.8 658.8,1086.3 659.8,1086.6 660.8,1086.8 661.8,1086.6 662.8,1087.2 663.8,1086.7 664.8,1086.9 665.8,1087.1 666.8,1087.1 667.8,1087.4 668.8,1087.1 669.8,1087.8 670.8,1087.7 671.8,1087.8 672.8,1087.8 673.8,1087.7 674.8,1087.9 675.8,1088.1 676.8,1088.5 677.8,1088.4 678.8,1088.1 679.8,1088.5 680.8,1088.1 681.8,1088.6 682.8,1088.5 683.8,1088.7 684.8,1088.7 685.8,1088.5 686.8,1088.7 687.8,1088.9 688.8,1089.1 689.8,1089.2 690.8,1089 691.8,1088.9 692.8,1089.6 693.8,1088.8 694.8,1090 695.8,1089.8 696.8,1089.5 697.8,1089.3 698.8,1089.4 699.8,1089.3 700.8,1089.9 701.8,1089.8 702.8,1089.5 703.8,1089.6 704.8,1089.7 705.8,1089.6 706.8,1089.8 707.8,1089.7 708.8,1090.1 709.8,1089.9 710.8,1089.6 711.8,1090 712.8,1090.4 713.8,1090.1 714.8,1089.9 715.8,1089.7 716.8,1089.9 717.8,1090.3 718.8,1090.2 719.8,1089.7 720.8,1090.4 721.8,1089.8 722.8,1090.3 723.8,1090.3 724.8,1090.4 725.8,1090.4 726.8,1090.2 727.8,1090.3 728.8,1090.7 729.8,1090.6 730.8,1091 731.8,1090.6 732.8,1091 733.8,1090.8 734.8,1090.7 735.8,1091.3 736.8,1090.5 737.8,1090.7 738.8,1091.2 739.8,1091.3 740.8,1091.1 741.8,1091 742.8,1091 743.8,1091.5 744.8,1090.6 745.8,1090.6 746.8,1091 747.8,1090.8 748.8,1091.1 749.8,1091.1 750.8,1091.1 751.8,1091.3 752.8,1091.3 753.8,1091.2 754.8,1091.3 755.8,1091.3 756.8,1091.2 757.8,1091.8 758.8,1091.6 759.8,1091.1 760.8,1092 761.8,1091.7 762.8,1091.3 763.8,1091.5 764.8,1091.2 765.8,1091.4 766.8,1091.4 767.8,1091.8 768.8,1092.3 769.8,1091.9 770.8,1091.8 771.8,1091.7 772.8,1092 773.8,1092 774.8,1091.5 775.8,1091.5 776.8,1091.7 777.8,1092.1 778.8,1091.8 779.8,1091.2 780.8,1092 781.8,1092.4 782.8,1092.1 783.8,1091.8 784.8,1092.2 785.8,1092.3 786.8,1092.1 787.8,1092 788.8,1091.6 789.8,1092.5 790.8,1091.9 791.8,1092.5 792.8,1091.9 793.8,1091.9 794.8,1093 795.8,1091.8 796.8,1092.5 797.8,1092.2 798.8,1092.8 799.8,1092.4 800.8,1092.5 801.8,1093.1 802.8,1092.4 803.8,1092.5 804.8,1092.7 805.8,1092.2 806.8,1092.7 807.8,1092.4 808.8,1093 809.8,1092.7 810.8,1092.2 811.8,1092.5 812.8,1092.4 813.8,1093.1 814.8,1092.5 815.8,1093.1 816.8,1092.6 817.8,1092.9 818.8,1092.9 819.8,1093.5 820.8,1092.7 821.8,1092.9 822.8,1092.7 823.8,1093.7 824.8,1093 825.8,1093.2 826.8,1092.9 827.8,1093.3 828.8,1093.3 829.8,1093 830.8,1093.4 831.8,1093.1 832.8,1092.9 833.8,1093.7 834.8,1093.5 835.8,1093.3 836.8,1092.8 837.8,1093.9 838.8,1093.2 839.8,1093.2 840.8,1093.4 841.8,1093.6 842.8,1093.2 843.8,1093 844.8,1093.6 845.8,1093.7 846.8,1093.3 847.8,1093.6 848.8,1093.9 849.8,1093.7 850.8,1093.4 851.8,1093.8 852.8,1093.3 853.8,1093.7 854.8,1093.7 855.8,1093.7 856.8,1093.9 857.8,1093.5 858.8,1093.8 859.8,1093.1 860.8,1093.7 861.8,1093 862.8,1093.5 863.8,1093.9 864.8,1093 865.8,1093.6 866.8,1093.9 867.8,1093.6 868.8,1093.4 869.8,1093.9 870.8,1093.6 871.8,1093.7 872.8,1093.5 873.8,1093.9 874.8,1093.8 875.8,1093.6 876.8,1093.9 877.8,1093.7 878.8,1094 879.8,1093 880.8,1093.2 881.8,1093.5 882.8,1094 883.8,1094 884.8,1093.6 885.8,1093.6 886.8,1094.1 887.8,1093.6 888.8,1093.2 889.8,1093.5 890.8,1093.9 891.8,1093.8 892.8,1094.2 893.8,1093.6 894.8,1094.2 895.8,1093.4 896.8,1093.8 897.8,1093.6 898.8,1094 899.8,1093.1 900.8,1093.9 901.8,1093.6 902.8,1093.9 903.8,1094.4 904.8,1093.2 905.8,1094.1 906.8,1093.7 907.8,1093.4 908.8,1093.8 909.8,1093.4 910.8,1093.5 911.8,1094.1 912.8,1093.9 913.8,1093.8 914.8,1094.1 915.8,1093.2 916.8,1093.7 917.8,1093.4 918.8,1093.8 919.8,1093.8 920.8,1093.3 921.8,1094.1 922.8,1094.4 923.8,1093.5 924.8,1093.9 925.8,1093.8 926.8,1093.4 927.8,1093.7 928.8,1093.6 929.8,1093.4 930.8,1093.9 931.8,1094.1 932.8,1093.1 933.8,1093.2 934.8,1093.7 935.8,1093.2 936.8,1094.2 937.8,1093.5 938.8,1094.1 939.8,1093.5 940.8,1093.6 941.8,1093.8 942.8,1094.2 943.8,1094 944.8,1093.2 945.8,1093.6 946.8,1093.7 947.8,1093.8 948.8,1094.4 949.8,1094 950.8,1093.5 951.8,1093.6 952.8,1093.7 953.8,1093.4 954.8,1093.6 955.8,1093 956.8,1093.9 957.8,1093.5 958.8,1094.4 959.8,1093.7 960.8,1093.2 961.8,1093.7 962.8,1093.6 963.8,1093.3 964.8,1094 965.8,1093.6 966.8,1093.8 967.8,1093.7 968.8,1093.7 969.8,1092.9 970.8,1093.4 971.8,1093 972.8,1093.9 973.8,1094 974.8,1093.6 975.8,1093.8 976.8,1093.5 977.8,1093.8 978.8,1093.5 979.8,1093.3 980.8,1093.5 981.8,1093.6 982.8,1093.7 983.8,1094.4 984.8,1093 985.8,1093.9 986.8,1093.8 987.8,1093.1 988.8,1093.7 989.8,1094.4 990.8,1093.4 991.8,1093.4 992.8,1092.8 993.8,1093.9 994.8,1093.7 995.8,1094 996.8,1094.2 997.8,1093.4 998.8,1093.7 999.8,1093.5 1000.8,1094 1001.8,1093.2 1002.8,1093.8 1003.8,1094.1 1004.8,1092.9 1005.8,1093.4 1006.8,1093.4 1007.8,1093.6 1008.8,1093.4 1009.8,1093.5 1010.8,1093.4 1011.8,1093 1012.8,1093.8 1013.8,1092.5 1014.8,1093.6 1015.8,1093.3 1016.8,1094 1017.8,1093.7 1018.8,1093.5 1019.8,1093 1020.8,1093 1021.8,1093.9 1022.8,1093.9 1023.8,1093.6 1024.8,1093.7 1025.8,1092.5 1026.8,1093.6 1027.8,1093.7 1028.8,1093.4 1029.8,1093.6 1030.8,1093.7 1031.8,1092.2 1032.8,1093.4 1033.8,1094.2 1034.8,1093.9 1035.8,1093.3 1036.8,1094.2 1037.8,1093.6 1038.8,1093.7 1039.8,1093.9 1040.8,1094.4 1041.8,1094.3 1042.8,1093.3 1043.8,1092.7 1044.8,1094.4 1045.8,1094 1046.8,1093.4 1047.8,1093.7 1048.8,1093.5 1049.8,1093.6 1050.8,1093.4 1051.8,1093.8 1052.8,1093.6 1053.8,1093.9 1054.8,1094.1 1055.8,1093.6 1056.8,1093.8 1057.8,1093.5 1058.8,1094.1 1059.8,1092.2 1060.8,1093.8 1061.8,1093.8 1062.8,1093 1063.8,1092.8 1064.8,1093.8 1065.8,1093.7 1066.8,1093.8 1067.8,1093.5 1068.8,1094.2 1069.8,1093.7 1070.8,1093.4 1071.8,1094.1 1072.8,1093.8 1073.8,1093.8 1074.8,1093.7 1075.8,1093.9 1076.8,1094.2 1077.8,1093.6 1078.8,1094.4 1079.8,1092.8 1080.8,1093.8 1081.8,1093.2 1082.8,1093.5 1083.8,1093.6 1084.8,1093.7 1085.8,1093.6 1086.8,1093.7 1087.8,1093.5 1088.8,1094.1 1089.8,1093.4 1090.8,1093.6 1091.8,1093.4 1092.8,1093.4 1093.8,1094 1094.8,1093.7 1095.8,1094.3 1096.8,1093.7 1097.8,1093.8 1098.8,1094 1099.8,1093 1100.8,1094 1101.8,1093.4 1102.8,1093.5 1103.8,1093.8 1104.8,1093.4 1105.8,1093.7 1106.8,1093.7 1107.8,1093.8 1108.8,1093.9 1109.8,1094.1 1110.8,1094 1111.8,1093.2 1112.8,1093.2 1113.8,1093.5 1114.8,1093.8 1115.8,1093.7 1116.8,1093.3 1117.8,1093.9 1118.8,1093.6 1119.8,1092.8 1120.8,1093.9 1121.8,1093.5 1122.8,1094 1123.8,1093.2 1124.8,1093.6 1125.8,1093.9 1126.8,1094.1 1127.8,1093.6 1128.8,1094.1 1129.8,1093.8 1130.8,1092.7 1131.8,1093.8 1132.8,1093.3 1133.8,1093.6 1134.8,1093.3 1135.8,1093.2 1136.8,1093 1137.8,1093.1 1138.8,1093.6 1139.8,1093.6 1140.8,1092.2 1141.8,1093.7 1142.8,1093.9 1143.8,1093.4 1144.8,1093.9 1145.8,1093.7 1146.8,1092.6 1147.8,1093.6 1148.8,1093 1149.8,1093.9 1150.8,1093.6 1151.8,1093.8 1152.8,1093.6 1153.8,1094 1154.8,1093.7 1155.8,1093.9 1156.8,1093.8 1157.8,1094.2 1158.8,1094.4 1159.8,1094 1160.8,1094.1 1161.8,1092.9 1162.8,1094.1 1163.8,1093.4 1164.8,1093.6 1165.8,1093.7 1166.8,1093.8 1167.8,1092.3 1168.8,1093.2 1169.8,1093.8 1170.8,1093.7 1171.8,1094.1 1172.8,1092.8 1173.8,1093.8 1174.8,1093.6 1175.8,1094.1 1176.8,1092.9 1177.8,1093.9 1178.8,1091.7 1179.8,1093.3 1180.8,1093.9 1181.8,1093.3 1182.8,1093.7 1183.8,1093.7 1184.8,1093.7 1185.8,1093.8 1186.8,1093 1187.8,1093.2 1188.8,1093.3 1189.8,1093.7 1190.8,1093.1 1191.8,1093.6 1192.8,1093 1193.8,1093.2 1194.8,1093.6 1195.8,1092.9 1196.8,1093.6 1197.8,1093.1 1198.8,1093.5 1199.8,1093.4 1200.8,1094.1 1201.8,1093.8 1202.8,1093.6 1203.8,1092.9 1204.8,1093.9 1205.8,1091.7 1206.8,1094 1207.8,1093.1 1208.8,1093.7 1209.8,1093.1 1210.8,1093.4 1211.8,1093.9 1212.8,1093.4 1213.8,1093.6 1214.8,1093.8 1215.8,1093.3 1216.8,1093.1 1217.8,1093.5 1218.8,1093.6 1219.8,1093.8 1220.8,1093.4 1221.8,1093.6 1222.8,1092.9 1223.8,1094.3 1224.8,1093.4 1225.8,1092.9 1226.8,1093.8 1227.8,1093.3 1228.8,1093.4 1229.8,1092.2 1230.8,1093.9 1231.8,1094.1 1232.8,1094.3 1233.8,1093.8 1234.8,1093.6 1235.8,1093.3 1236.8,1094.2 1237.8,1093.7 1238.8,1093.7 1239.8,1093.8 1240.8,1093.8 1241.8,1093.6 1242.8,1093.3 1243.8,1093.2 1244.8,1092.6 1245.8,1093.6 1246.8,1093.9 1247.8,1093.8 1248.8,1093.7 1249.8,1093.8 1250.8,1093.6 1251.8,1093 1252.8,1094 1253.8,1094.2 1254.8,1094.3 1255.8,1093.5 1256.8,1093 1257.8,1093.9 1258.8,1093.5 1259.8,1094.1 1260.8,1092.2 1261.8,1093.1 1262.8,1093 1263.8,1093.4 1264.8,1093.7 1265.8,1093.6 1266.8,1094.2 1267.8,1093.2 1268.8,1093.7 1269.8,1094 1270.8,1093.3 1271.8,1093.5 1272.8,1093 1273.8,1094 1274.8,1093 1275.8,1093.7 1276.8,1093.5 1277.8,1093.1 1278.8,1093.5 1279.8,1093.1 1280.8,1093.6 1281.8,1093.2 1282.8,1093.2 1283.8,1093.7 1284.8,1093.3 1285.8,1093.3 1286.8,1093.8 1287.8,1093.4 1288.8,1094.1 1289.8,1093.4 1290.8,1093.6 1291.8,1093.3 1292.8,1093.4 1293.8,1093.4 1294.8,1093.2 1295.8,1093.3 1296.8,1094 1297.8,1093.1 1298.8,1093.3 1299.8,1093.2 1300.8,1093.3 1301.8,1093.5 1302.8,1093.6 1303.8,1093.3 1304.8,1093.3 1305.8,1093.5 1306.8,1093.4 1307.8,1093.7 1308.8,1092.9 1309.8,1093.1 1310.8,1093.1 1311.8,1092.8 1312.8,1093.7 1313.8,1093.1 1314.8,1093.8 1315.8,1093.3 1316.8,1093.3 1317.8,1093.4 1318.8,1093.4 1319.8,1093.6 1320.8,1093.1 1321.8,1093.8 1322.8,1093 1323.8,1093.7 1324.8,1093.6 1325.8,1093.2 1326.8,1093.5 1327.8,1093.3 1328.8,1093.2 1329.8,1093.7 1330.8,1093.1 1331.8,1093.8 1332.8,1093.1 1333.8,1093.5 1334.8,1094.1 1335.8,1094 1336.8,1093.6 1337.8,1092.5 1338.8,1092.9 1339.8,1093.3 1340.8,1093.6 1341.8,1093.7 1342.8,1093.6 1343.8,1093.2 1344.8,1093.2 1345.8,1093.6 1346.8,1092.4 1347.8,1093.5 1348.8,1092.6 1349.8,1093.1 1350.8,1093.1 1351.8,1093.2 1352.8,1093 1353.8,1093.2 1354.8,1092.7 1355.8,1093.7 1356.8,1093.1 1357.8,1093.1 1358.8,1092.9 1359.8,1092.4 1360.8,1093.2 1361.8,1092.5 1362.8,1093.6 1363.8,1093.3 1364.8,1093 1365.8,1093.1 1366.8,1092.8 1367.8,1092.5 1368.8,1091.9 1369.8,1092.5 1370.8,1092.6 1371.8,1093.1 1372.8,1092.4 1373.8,1092.3 1374.8,1093 1375.8,1091.5 1376.8,1093.4 1377.8,1092.4 1378.8,1091.5 1379.8,1091.2 1380.8,1089.8 1381.8,1091.1 1382.8,1088 1383.8,1091.3 1384.8,1089.8 1385.8,1088.9 1386.8,1089 1387.8,1090.1 1388.8,1091.5 1389.8,1088.4 1390.8,1090.5 1391.8,1091.5 1392.8,1088.4 1393.8,1088.4 1394.8,1089.7 1395.8,1090.3 1396.8,1090.9 1397.8,1088.5 1398.8,1086.6 1399.8,1088.5 1400.8,1090.3 1401.8,1087.1 1402.8,1090.3 1403.8,1089.6 1404.8,1091.4 1405.8,1089 1406.8,1090.6 1407.8,1088.3 1408.8,1086.1 1409.8,1090.2 1410.8,1091.1 1411.8,1088.5 1412.8,1088.6 1413.8,1088.1 1414.8,1090.4 1415.8,1088 1416.8,1088.2 1417.8,1088.8 1418.8,1089.6 1419.8,1088.3 1420.8,1087.7 1421.8,1090.3 1422.8,1089.7 1423.8,1090.8 1424.8,1088.4 1425.8,1087.4 1426.8,1089.2 1427.8,1091.9 1428.8,1089.9 1429.8,1087.5 1430.8,1088.3 1431.8,1091.8 1432.8,1088.5 1433.8,1085.8 1434.8,1089.7 1435.8,1086.7 1436.8,1089.9 1437.8,1087.9 1438.8,1090.3 1439.8,1087.6 1440.8,1087.3 1441.8,1092.1 1442.8,1088.5 1443.8,1088.5 1444.8,1087 1445.8,1088 1446.8,1091.4 1447.8,1090.6 1448.8,1088.6 1449.8,1089.1 1450.8,1087.5 1451.8,1089.4 1452.8,1087 1453.8,1085.7 1454.8,1090.9 1455.8,1086.6 1456.8,1089 1457.8,1089.7 1458.8,1087.7 1459.8,1088.7 1460.8,1088.8 1461.8,1088.4 1462.8,1088.7 1463.8,1089.3 1464.8,1088.9 1465.8,1085.6 1466.8,1089.4 1467.8,1086.7 1468.8,1087.7 1469.8,1090.2 1470.8,1090.2 1471.8,1089.3 1472.8,1089 1473.8,1090.8 1474.8,1088.8 1475.8,1086.9 1476.8,1086.9 1477.8,1088.5 1478.8,1089.8 1479.8,1090.2 1480.8,1087.8 1481.8,1087.6 1482.8,1089.4 1483.8,1086.9 1484.8,1089.2 1485.8,1090.8 1486.8,1088.1 1487.8,1086.1 1488.8,1088 1489.8,1091 1490.8,1089.5 1491.8,1088.7 1492.8,1087.5 1493.8,1090 1494.8,1086.8 1495.8,1090.9 1496.8,1088.9 1497.8,1088 1498.8,1091.8 1499.8,1086.9 1500.8,1089.6 1501.8,1087.9 1502.8,1088.7 1503.8,1089.7 1504.8,1089.2 1505.8,1085.7 1506.8,1090.5 1507.8,1090.9 1508.8,1086.4 1509.8,1087.5 1510.8,1090.1 1511.8,1087.8 1512.8,1087.7 1513.8,1088.6 1514.8,1088.6 1515.8,1087.8 1516.8,1088.8 1517.8,1088.1 1518.8,1088.1 1519.8,1087.7 1520.8,1091.6 1521.8,1091.5 1522.8,1085.9 1523.8,1088 1524.8,1089.7 1525.8,1089.7 1526.8,1087.5 1527.8,1087.2 1528.8,1089.2 1529.8,1088.6 1530.8,1087.4 1531.8,1090.4 1532.8,1089.7 1533.8,1089.9 1534.8,1087.9 1535.8,1089.1 1536.8,1088.7 1537.8,1087.8 1538.8,1089.4 1539.8,1088.2 1540.8,1087.1 1541.8,1088.1 1542.8,1088.4 1543.8,1088.3 1544.8,1090 1545.8,1086 1546.8,1089.2 1547.8,1086.2 1548.8,1087.1 1549.8,1084.9 1550.8,1086.6 1551.8,1091.3 1552.8,1084.9 1553.8,1088.1 1554.8,1087.6 1555.8,1088.8 1556.8,1090.7 1557.8,1089.3 1558.8,1089 1559.8,1086.5 1560.8,1087.1 1561.8,1086.6 1562.8,1087.9 1563.8,1087.2 1564.8,1086.5 1565.8,1087.2 1566.8,1088.4 1567.8,1088.8 1568.8,1089.3 1569.8,1089.6 1570.8,1088.8 1571.8,1089.1 1572.8,1089.9 1573.8,1090.1 1574.8,1089.1 1575.8,1088.9 1576.8,1085.5 1577.8,1086.7 1578.8,1087.5 1579.8,1090.7 1580.8,1086.2 1581.8,1089 1582.8,1091 1583.8,1086.5 1584.8,1088.7 1585.8,1089.6 1586.8,1087.8 1587.8,1087.5 1588.8,1087.4 1589.8,1088.6 1590.8,1085.7 1591.8,1089.2 1592.8,1086.8 1593.8,1086.5 1594.8,1088.6 1595.8,1090.8 1596.8,1086.3 1597.8,1089 1598.8,1087.3 1599.8,1087.6 1600.8,1087.6 1601.8,1087.2 1602.8,1084.4 1603.8,1089.5 1604.8,1089 1605.8,1090.7 1606.8,1088.2 1607.8,1085.3 1608.8,1085.8 1609.8,1085.1 1610.8,1087.9" stroke="#00a0ff" stroke-width="4.05"/>
<path d="M215.8,956.8 216.8,955 217.8,956.8 218.8,958.5 219.8,955.9 220.8,957.8 221.8,957 222.8,959 223.8,957.4 224.8,957.5 225.8,959.6 226.8,959.4 227.8,958.2 228.8,957 229.8,957.4 230.8,959.4 231.8,959.6 232.8,958.1 233.8,960.6 234.8,960.1 235.8,959.4 236.8,959.9 237.8,960.4 238.8,959.9 239.8,961.1 240.8,960.6 241.8,960.8 242.8,961.9 243.8,961.7 244.8,960.2 245.8,961.7 246.8,961 247.8,962.2 248.8,962.6 249.8,961.3 250.8,963.5 251.8,964.3 252.8,963.4 253.8,962.3 254.8,963.3 255.8,963.9 256.8,964.3 257.8,964.6 258.8,963.7 259.8,964.2 260.8,965.4 261.8,966.8 262.8,965.5 263.8,965.5 264.8,966.2 265.8,967.3 266.8,966.3 267.8,964.6 268.8,966.2 269.8,966.3 270.8,966.3 271.8,966.2 272.8,966.8 273.8,969.6 274.8,968.7 275.8,968.5 276.8,967.5 277.8,968.5 278.8,969.4 279.8,969.2 280.8,969.4 281.8,971.2 282.8,971.2 283.8,970.8 284.8,969.3 285.8,971 286.8,970.2 287.8,970.8 288.8,971.5 289.8,972.2 290.8,973 291.8,970.8 292.8,973.3 293.8,972.5 294.8,973.2 295.8,972.8 296.8,975 297.8,974.1 298.8,975 299.8,974 300.8,975.7 301.8,975.4 302.8,974.9 303.8,975.6 304.8,975.6 305.8,975.8 306.8,977.7 307.8,977.2 308.8,976.9 309.8,976.3 310.8,978.6 311.8,978.1 312.8,978.2 313.8,978.2 314.8,980.3 315.8,980.3 316.8,979.5 317.8,979.7 318.8,980.1 319.8,980.6 320.8,981 321.8,980.3 322.8,981.2 323.8,982 324.8,983.2 325.8,983.2 326.8,983.2 327.8,982.8 328.8,984.1 329.8,984.8 330.8,985.3 331.8,985.9 332.8,985.1 333.8,985.3 334.8,986.9 335.8,986.2 336.8,987.4 337.8,987.4 338.8,986.7 339.8,988.2 340.8,988.5 341.8,988.8 342.8,989.1 343.8,989 344.8,989.9 345.8,990.4 346.8,991.9 347.8,991.5 348.8,992.3 349.8,993.8 350.8,991.8 351.8,994.4 352.8,994.3 353.8,994.3 354.8,994.2 355.8,996.4 356.8,996.4 357.8,996.4 358.8,996.4 359.8,998.4 360.8,999.3 361.8,998.2 362.8,999.3 363.8,1000.1 364.8,1001.1 365.8,1000.7 366.8,1003 367.8,1002.1 368.8,1002.5 369.8,1002.7 370.8,1003.1 371.8,1004.9 372.8,1005 373.8,1005.1 374.8,1005.5 375.8,1007.4 376.8,1008.2 377.8,1008.4 378.8,1008.8 379.8,1009 380.8,1010.6 381.8,1011.5 382.8,1011.4 383.8,1011.8 384.8,1013.7 385.8,1012.9 386.8,1014.4 387.8,1016.1 388.8,1015.7 389.8,1016.2 390.8,1015.8 391.8,1017.3 392.8,1018.6 393.8,1020.6 394.8,1019.5 395.8,1022.3 396.8,1021.9 397.8,1022.6 398.8,1023.8 399.8,1023.6 400.8,1025.5 401.8,1027 402.8,1025.7 403.8,1027.2 404.8,1027.8 405.8,1029.5 406.8,1030.3 407.8,1032.2 408.8,1031.4 409.8,1033.5 410.8,1033.5 411.8,1034.9 412.8,1035.6 413.8,1036.9 414.8,1037.1 415.8,1039 416.8,1039.9 417.8,1039.7 418.8,1041.4 419.8,1042.9 420.8,1043.4 421.8,1044.5 422.8,1046 423.8,1047.5 424.8,1048.6 425.8,1048.8 426.8,1050.3 427.8,1049.8 428.8,1052.5 429.8,1051.9 430.8,1053.5 431.8,1053.2 432.8,1054 433.8,1055.1 434.8,1055.9 435.8,1056 436.8,1057.4 437.8,1058.6 438.8,1059.5 439.8,1060.5 440.8,1061.2 441.8,1062 442.8,1063 443.8,1063.2 444.8,1063.6 445.8,1063.7 446.8,1065 447.8,1064.7 448.8,1065.9 449.8,1065.4 450.8,1065.5 451.8,1066.1 452.8,1066.4 453.8,1066.8 454.8,1067.2 455.8,1067.5 456.8,1068.4 457.8,1067.8 458.8,1068 459.8,1068.3 460.8,1069.5 461.8,1069.2 462.8,1069.7 463.8,1070.4 464.8,1070.2 465.8,1069.8 466.8,1070.8 467.8,1071.3 468.8,1072 469.8,1071.9 470.8,1071.6 471.8,1071.8 472.8,1072 473.8,1072 474.8,1073 475.8,1072.5 476.8,1072.6 477.8,1072.5 478.8,1072.5 479.8,1073.2 480.8,1073.8 481.8,1073.3 482.8,1073.7 483.8,1073.6 484.8,1073.8 485.8,1074.1 486.8,1075 487.8,1075.7 488.8,1075.5 489.8,1075.3 490.8,1075.2 491.8,1076 492.8,1075.4 493.8,1075.4 494.8,1076.6 495.8,1075.8 496.8,1076.9 497.8,1076.6 498.8,1077.2 499.8,1076.4 500.8,1077.4 501.8,1077.5 502.8,1077.8 503.8,1077.2 504.8,1077.7 505.8,1077.4 506.8,1078.8 507.8,1078.3 508.8,1078.5 509.8,1079.1 510.8,1078.7 511.8,1079.1 512.8,1079.1 513.8,1079.6 514.8,1078.7 515.8,1080.1 516.8,1079.9 517.8,1079.7 518.8,1080.6 519.8,1081.2 520.8,1080.3 521.8,1080.7 522.8,1080.9 523.8,1081.3 524.8,1080.7 525.8,1081.4 526.8,1081.3 527.8,1081.9 528.8,1081.6 529.8,1081.9 530.8,1082 531.8,1082.2 532.8,1082.6 533.8,1082.7 534.8,1082.4 535.8,1082.8 536.8,1083 537.8,1083.5 538.8,1083.9 539.8,1083.4 540.8,1083.7 541.8,1084.2 542.8,1084 543.8,1083.8 544.8,1083.9 545.8,1083.7 546.8,1084.8 547.8,1084.4 548.8,1084.2 549.8,1084.3 550.8,1084.9 551.8,1084.9 552.8,1084.9 553.8,1085 554.8,1084.5 555.8,1084.6 556.8,1085 557.8,1084.8 558.8,1085.1 559.8,1084.9 560.8,1085 561.8,1085.5 562.8,1085 563.8,1085.1 564.8,1085.9 565.8,1084.9 566.8,1085.6 567.8,1085.5 568.8,1085.4 569.8,1086.2 570.8,1085.5 571.8,1085 572.8,1086.2 573.8,1086.5 574.8,1085.3 575.8,1086.1 576.8,1086 577.8,1086.1 578.8,1086.4 579.8,1086.3 580.8,1086.3 581.8,1085.7 582.8,1085.8 583.8,1086.6 584.8,1086.5 585.8,1086.6 586.8,1086.8 587.8,1086 588.8,1086 589.8,1086.3 590.8,1086.9 591.8,1086.8 592.8,1086.4 593.8,1086.7 594.8,1086.8 595.8,1086.8 596.8,1086.9 597.8,1087.4 598.8,1087 599.8,1087.1 600.8,1086.9 601.8,1087.8 602.8,1087.4 603.8,1087.2 604.8,1087.3 605.8,1087.7 606.8,1087.1 607.8,1087.8 608.8,1087 609.8,1087.1 610.8,1087.3 611.8,1087.1 612.8,1087.8 613.8,1087.6 614.8,1087.9 615.8,1088.3 616.8,1087.5 617.8,1088.2 618.8,1087.8 619.8,1088.3 620.8,1088.4 621.8,1088 622.8,1088.4 623.8,1088.1 624.8,1088.7 625.8,1088 626.8,1088.4 627.8,1087.8 628.8,1088.1 629.8,1088.6 630.8,1088.7 631.8,1088.7 632.8,1089.3 633.8,1088.9 634.8,1088.3 635.8,1088.7 636.8,1089 637.8,1088.5 638.8,1088.4 639.8,1089.3 640.8,1089 641.8,1088.3 642.8,1088.9 643.8,1089.2 644.8,1089.2 645.8,1089.2 646.8,1089.3 647.8,1089 648.8,1089.2 649.8,1089.4 650.8,1089.2 651.8,1089.7 652.8,1089.1 653.8,1089.5 654.8,1089.6 655.8,1089.7 656.8,1089.6 657.8,1089.5 658.8,1089.5 659.8,1089.2 660.8,1089.6 661.8,1089.9 662.8,1090.3 663.8,1089.5 664.8,1089.4 665.8,1090.7 666.8,1089.6 667.8,1090.5 668.8,1090.4 669.8,1090.5 670.8,1090 671.8,1090.3 672.8,1090.4 673.8,1090 674.8,1090.8 675.8,1089.7 676.8,1090.3 677.8,1090.1 678.8,1090.4 679.8,1090.8 680.8,1090.3 681.8,1090.8 682.8,1090.1 683.8,1091.2 684.8,1090.6 685.8,1091.1 686.8,1090.8 687.8,1090.8 688.8,1090.9 689.8,1090.9 690.8,1091.1 691.8,1091.5 692.8,1090.4 693.8,1090.4 694.8,1091.3 695.8,1090.4 696.8,1091.5 697.8,1091.3 698.8,1091.4 699.8,1091.4 700.8,1091 701.8,1091.1 702.8,1091 703.8,1091.5 704.8,1091.8 705.8,1091.3 706.8,1091.1 707.8,1091.3 708.8,1090.5 709.8,1091.2 710.8,1091.6 711.8,1091.3 712.8,1091.4 713.8,1091.6 714.8,1091.6 715.8,1091.5 716.8,1091.3 717.8,1091.7 718.8,1091.1 719.8,1091.3 720.8,1091.6 721.8,1091.6 722.8,1091.8 723.8,1091.1 724.8,1091.2 725.8,1091.6 726.8,1091.1 727.8,1091.8 728.8,1091.8 729.8,1091.9 730.8,1091.4 731.8,1091.7 732.8,1091.6 733.8,1091.2 734.8,1091.5 735.8,1092 736.8,1091.8 737.8,1091.6 738.8,1091.8 739.8,1092.3 740.8,1091.8 741.8,1091.9 742.8,1092.1 743.8,1091.4 744.8,1091.7 745.8,1091.8 746.8,1092.2 747.8,1092 748.8,1092 749.8,1091.7 750.8,1091.7 751.8,1092.5 752.8,1092.2 753.8,1092.6 754.8,1091.9 755.8,1092.2 756.8,1092.5 757.8,1092.1 758.8,1092.2 759.8,1091.8 760.8,1091.6 761.8,1091.9 762.8,1091.8 763.8,1091.9 764.8,1092.3 765.8,1092.2 766.8,1092.7 767.8,1092.8 768.8,1092.7 769.8,1092.5 770.8,1092.3 771.8,1092.7 772.8,1092 773.8,1092.2 774.8,1092.8 775.8,1092.4 776.8,1092.8 777.8,1092.7 778.8,1092.7 779.8,1092.9 780.8,1092.6 781.8,1092.4 782.8,1092.5 783.8,1092.9 784.8,1092.3 785.8,1093.2 786.8,1092.7 787.8,1092.9 788.8,1093 789.8,1093.1 790.8,1092.5 791.8,1092.9 792.8,1092.5 793.8,1092.9 794.8,1093 795.8,1093 796.8,1092.9 797.8,1092.8 798.8,1092.9 799.8,1092.3 800.8,1093 801.8,1093.1 802.8,1093.3 803.8,1093.3 804.8,1093.1 805.8,1093.2 806.8,1093.2 807.8,1093.4 808.8,1093.1 809.8,1093.7 810.8,1093.6 811.8,1092.9 812.8,1093 813.8,1093 814.8,1093.2 815.8,1093.1 816.8,1093.4 817.8,1093.4 818.8,1093.3 819.8,1093.1 820.8,1093.2 821.8,1093.8 822.8,1093.3 823.8,1093.5 824.8,1093.3 825.8,1093.9 826.8,1093.3 827.8,1093.2 828.8,1093.3 829.8,1093.6 830.8,1093.2 831.8,1092.9 832.8,1093.9 833.8,1094.1 834.8,1094.1 835.8,1093.4 836.8,1093.8 837.8,1093.8 838.8,1093.9 839.8,1093.6 840.8,1093.6 841.8,1093.8 842.8,1093.5 843.8,1093.4 844.8,1093.9 845.8,1094.4 846.8,1093.6 847.8,1093.7 848.8,1093.2 849.8,1094.2 850.8,1094.1 851.8,1093.5 852.8,1093.7 853.8,1093.2 854.8,1094 855.8,1093.7 856.8,1094.1 857.8,1093.9 858.8,1094 859.8,1093.6 860.8,1093.7 861.8,1094.3 862.8,1093.5 863.8,1093.4 864.8,1094.3 865.8,1093.8 866.8,1094 867.8,1093.9 868.8,1093.9 869.8,1093.4 870.8,1093.6 871.8,1093.7 872.8,1093.6 873.8,1093.8 874.8,1093.8 875.8,1093.2 876.8,1094.1 877.8,1093.3 878.8,1094 879.8,1093.7 880.8,1093.9 881.8,1094.2 882.8,1093.5 883.8,1093.8 884.8,1093.8 885.8,1093.3 886.8,1093.3 887.8,1093.8 888.8,1093.9 889.8,1093.7 890.8,1093.1 891.8,1093.8 892.8,1094.1 893.8,1093.7 894.8,1093.7 895.8,1093.6 896.8,1093.7 897.8,1093.2 898.8,1093.5 899.8,1093.5 900.8,1093.5 901.8,1093.6 902.8,1094.1 903.8,1093.8 904.8,1093.8 905.8,1093.4 906.8,1093.9 907.8,1093.8 908.8,1093.6 909.8,1093.9 910.8,1093.7 911.8,1093.9 912.8,1093.2 913.8,1093.5 914.8,1094 915.8,1094.2 916.8,1093.8 917.8,1093.7 918.8,1093.7 919.8,1093.8 920.8,1094.3 921.8,1093.8 922.8,1093.4 923.8,1093.4 924.8,1093.6 925.8,1094.1 926.8,1093.5 927.8,1093.3 928.8,1093.8 929.8,1093.5 930.8,1093.4 931.8,1094.2 932.8,1094 933.8,1094.5 934.8,1094.3 935.8,1094 936.8,1093.7 937.8,1093.9 938.8,1093.5 939.8,1093.9 940.8,1094 941.8,1093.6 942.8,1093.6 943.8,1093.4 944.8,1093.7 945.8,1093.7 946.8,1094.4 947.8,1093.6 948.8,1094.4 949.8,1093.6 950.8,1093.6 951.8,1093.6 952.8,1093.8 953.8,1093.3 954.8,1094.1 955.8,1094.1 956.8,1093.6 957.8,1093.7 958.8,1092.5 959.8,1093.8 960.8,1094 961.8,1093.8 962.8,1093.9 963.8,1093.6 964.8,1093.8 965.8,1094 966.8,1093.9 967.8,1093.3 968.8,1094.2 969.8,1093.6 970.8,1092.5 971.8,1093.8 972.8,1093.9 973.8,1094.3 974.8,1094 975.8,1093.7 976.8,1093.6 977.8,1093.8 978.8,1093.8 979.8,1093.8 980.8,1093.8 981.8,1093.6 982.8,1094 983.8,1093.1 984.8,1093.5 985.8,1093.8 986.8,1094.1 987.8,1093.6 988.8,1093.6 989.8,1093.6 990.8,1093.9 991.8,1094 992.8,1093.1 993.8,1093.1 994.8,1093.5 995.8,1093.9 996.8,1093.8 997.8,1093.1 998.8,1094.2 999.8,1093.3 1000.8,1094 1001.8,1093.5 1002.8,1094.2 1003.8,1093.8 1004.8,1094 1005.8,1093.4 1006.8,1093.5 1007.8,1093.7 1008.8,1094.2 1009.8,1093.6 1010.8,1093.8 1011.8,1093.7 1012.8,1093.2 1013.8,1093.8 1014.8,1094.1 1015.8,1093.5 1016.8,1093.9 1017.8,1093.2 1018.8,1093.4 1019.8,1093.7 1020.8,1093.8 1021.8,1093.9 1022.8,1093.5 1023.8,1093.9 1024.8,1092.6 1025.8,1093.6 1026.8,1093.7 1027.8,1093.2 1028.8,1093.6 1029.8,1093.7 1030.8,1093.7 1031.8,1093.4 1032.8,1093.8 1033.8,1093.7 1034.8,1093.3 1035.8,1093.3 1036.8,1093.5 1037.8,1093.5 1038.8,1093.9 1039.8,1093.7 1040.8,1093.9 1041.8,1093.3 1042.8,1094 1043.8,1093.1 1044.8,1093.7 1045.8,1093.6 1046.8,1093.8 1047.8,1093 1048.8,1093.4 1049.8,1093.8 1050.8,1093.5 1051.8,1093.8 1052.8,1093.4 1053.8,1093.7 1054.8,1093.4 1055.8,1093.4 1056.8,1094.4 1057.8,1093.8 1058.8,1093.5 1059.8,1093.8 1060.8,1093.5 1061.8,1093.8 1062.8,1093.1 1063.8,1093.3 1064.8,1093.6 1065.8,1093.6 1066.8,1093.3 1067.8,1093.4 1068.8,1093.2 1069.8,1093.9 1070.8,1093.2 1071.8,1094.1 1072.8,1094.2 1073.8,1093.8 1074.8,1094.1 1075.8,1093.5 1076.8,1093.2 1077.8,1093.7 1078.8,1093.9 1079.8,1092 1080.8,1093.6 1081.8,1092.8 1082.8,1094.3 1083.8,1093.3 1084.8,1093.8 1085.8,1093.8 1086.8,1094.3 1087.8,1093.8 1088.8,1093.6 1089.8,1094.2 1090.8,1093.7 1091.8,1093.5 1092.8,1093 1093.8,1094.2 1094.8,1093.9 1095.8,1093.4 1096.8,1093.8 1097.8,1093 1098.8,1093.6 1099.8,1094.4 1100.8,1093.6 1101.8,1093.6 1102.8,1093.4 1103.8,1093.7 1104.8,1093.8 1105.8,1093.3 1106.8,1093.1 1107.8,1093.2 1108.8,1094.1 1109.8,1094 1110.8,1093.4 1111.8,1093.4 1112.8,1092.9 1113.8,1093.6 1114.8,1093.8 1115.8,1094.3 1116.8,1093.7 1117.8,1093.7 1118.8,1093.4 1119.8,1093.7 1120.8,1093.4 1121.8,1093.9 1122.8,1093.5 1123.8,1094 1124.8,1094.1 1125.8,1093.9 1126.8,1094.3 1127.8,1093.3 1128.8,1093.7 1129.8,1093.2 1130.8,1093.6 1131.8,1093.3 1132.8,1093.5 1133.8,1093.3 1134.8,1093.3 1135.8,1094.1 1136.8,1093.6 1137.8,1093.5 1138.8,1092.8 1139.8,1093.9 1140.8,1093.7 1141.8,1093.8 1142.8,1094.1 1143.8,1093.9 1144.8,1093.6 1145.8,1093.8 1146.8,1093.6 1147.8,1094 1148.8,1093.5 1149.8,1093.6 1150.8,1094.1 1151.8,1093.3 1152.8,1093.6 1153.8,1093.4 1154.8,1094.2 1155.8,1093.7 1156.8,1093.5 1157.8,1093.5 1158.8,1093.3 1159.8,1093.6 1160.8,1093.4 1161.8,1093.8 1162.8,1093.5 1163.8,1093.6 1164.8,1094 1165.8,1093.4 1166.8,1094.1 1167.8,1093.8 1168.8,1093.6 1169.8,1093.8 1170.8,1093.6 1171.8,1093.5 1172.8,1093.7 1173.8,1094.1 1174.8,1093.8 1175.8,1094 1176.8,1093.6 1177.8,1093.4 1178.8,1093.6 1179.8,1094 1180.8,1093.5 1181.8,1093.2 1182.8,1094 1183.8,1094 1184.8,1093.7 1185.8,1093.6 1186.8,1094 1187.8,1094.2 1188.8,1093.9 1189.8,1093.5 1190.8,1093.3 1191.8,1093.5 1192.8,1093.5 1193.8,1093.5 1194.8,1093.7 1195.8,1093.3 1196.8,1093.5 1197.8,1093.5 1198.8,1093.7 1199.8,1093.4 1200.8,1093.1 1201.8,1093.3 1202.8,1094 1203.8,1093.3 1204.8,1093.6 1205.8,1094.3 1206.8,1094.1 1207.8,1094.3 1208.8,1093.2 1209.8,1093.9 1210.8,1093.9 1211.8,1093.8 1212.8,1093.3 1213.8,1093.8 1214.8,1093.3 1215.8,1094.2 1216.8,1093.2 1217.8,1093.4 1218.8,1093.5 1219.8,1093.7 1220.8,1093.9 1221.8,1093.1 1222.8,1093.5 1223.8,1093.8 1224.8,1093.3 1225.8,1093.5 1226.8,1093.3 1227.8,1093.7 1228.8,1093.5 1229.8,1093.3 1230.8,1093.4 1231.8,1093.3 1232.8,1092.7 1233.8,1093.6 1234.8,1093.3 1235.8,1093.3 1236.8,1093.6 1237.8,1093.5 1238.8,1093.5 1239.8,1093.5 1240.8,1093.2 1241.8,1094.1 1242.8,1093.9 1243.8,1093.3 1244.8,1093.1 1245.8,1093.5 1246.8,1093.6 1247.8,1093.5 1248.8,1093.7 1249.8,1093.7 1250.8,1093.7 1251.8,1093.1 1252.8,1092.9 1253.8,1093.6 1254.8,1093.8 1255.8,1093.4 1256.8,1093.2 1257.8,1092.2 1258.8,1093.7 1259.8,1093.5 1260.8,1093.2 1261.8,1093 1262.8,1093.9 1263.8,1093.8 1264.8,1093.3 1265.8,1093.8 1266.8,1093.2 1267.8,1093.7 1268.8,1093 1269.8,1093.3 1270.8,1093.3 1271.8,1093.7 1272.8,1093.5 1273.8,1093.4 1274.8,1093.5 1275.8,1093.9 1276.8,1093.7 1277.8,1094 1278.8,1094.2 1279.8,1093.7 1280.8,1093.4 1281.8,1093.4 1282.8,1093.4 1283.8,1093.3 1284.8,1093.5 1285.8,1093.2 1286.8,1093.5 1287.8,1093.6 1288.8,1093.6 1289.8,1093.8 1290.8,1093.7 1291.8,1093.3 1292.8,1093.4 1293.8,1093.7 1294.8,1094.1 1295.8,1093.9 1296.8,1093.4 1297.8,1093 1298.8,1094 1299.8,1091.5 1300.8,1093.6 1301.8,1093 1302.8,1093.1 1303.8,1093.7 1304.8,1093.7 1305.8,1093.3 1306.8,1093.5 1307.8,1093.3 1308.8,1093.5 1309.8,1093.6 1310.8,1094.1 1311.8,1093.9 1312.8,1093.7 1313.8,1094.2 1314.8,1093.6 1315.8,1093.4 1316.8,1093.9 1317.8,1093.7 1318.8,1093.9 1319.8,1093.3 1320.8,1093.1 1321.8,1093.5 1322.8,1093.2 1323.8,1093 1324.8,1093.8 1325.8,1093 1326.8,1093.6 1327.8,1093.7 1328.8,1093.1 1329.8,1093.8 1330.8,1092.9 1331.8,1093.4 1332.8,1093.2 1333.8,1093.3 1334.8,1092.8 1335.8,1093.3 1336.8,1093.2 1337.8,1093.6 1338.8,1093.7 1339.8,1093.4 1340.8,1093 1341.8,1092.9 1342.8,1094.1 1343.8,1093.9 1344.8,1093.7 1345.8,1093 1346.8,1092.7 1347.8,1093.5 1348.8,1093.5 1349.8,1093.4 1350.8,1093 1351.8,1093.8 1352.8,1092.6 1353.8,1092.9 1354.8,1093.2 1355.8,1093 1356.8,1092.4 1357.8,1091.9 1358.8,1093.5 1359.8,1092.7 1360.8,1093 1361.8,1092.6 1362.8,1092.7 1363.8,1093.2 1364.8,1093.2 1365.8,1093.4 1366.8,1092.8 1367.8,1092.8 1368.8,1093.2 1369.8,1092.5 1370.8,1093.2 1371.8,1093.2 1372.8,1092.6 1373.8,1092.9 1374.8,1093.2 1375.8,1092 1376.8,1093.1 1377.8,1094.1 1378.8,1091.7 1379.8,1090.7 1380.8,1089.6 1381.8,1088.2 1382.8,1090.8 1383.8,1090.1 1384.8,1086.7 1385.8,1089 1386.8,1090.8 1387.8,1087.2 1388.8,1090.7 1389.8,1090.9 1390.8,1089.6 1391.8,1087.5 1392.8,1091.2 1393.8,1089.4 1394.8,1085.9 1395.8,1087.2 1396.8,1088.6 1397.8,1091.1 1398.8,1086.6 1399.8,1087.3 1400.8,1087.3 1401.8,1090.5 1402.8,1086.7 1403.8,1088.6 1404.8,1088.8 1405.8,1091.5 1406.8,1089 1407.8,1086.7 1408.8,1089.1 1409.8,1089.2 1410.8,1089.5 1411.8,1088.4 1412.8,1090.1 1413.8,1089.7 1414.8,1088.1 1415.8,1088.7 1416.8,1089.8 1417.8,1085.7 1418.8,1087.9 1419.8,1086.7 1420.8,1090 1421.8,1089.2 1422.8,1087.4 1423.8,1088.4 1424.8,1087.9 1425.8,1087.1 1426.8,1090.6 1427.8,1085.6 1428.8,1088.8 1429.8,1087.7 1430.8,1090.5 1431.8,1090.6 1432.8,1088.1 1433.8,1088.9 1434.8,1086.8 1435.8,1089.1 1436.8,1089.4 1437.8,1086.7 1438.8,1089.4 1439.8,1090 1440.8,1089.7 1441.8,1088.8 1442.8,1088.4 1443.8,1089.8 1444.8,1086.5 1445.8,1091.4 1446.8,1092 1447.8,1089 1448.8,1086.9 1449.8,1089 1450.8,1088.3 1451.8,1088.1 1452.8,1089 1453.8,1087.8 1454.8,1088.3 1455.8,1089.9 1456.8,1089.2 1457.8,1087 1458.8,1086.4 1459.8,1089.5 1460.8,1089.6 1461.8,1087.2 1462.8,1087.3 1463.8,1088.9 1464.8,1089 1465.8,1088.7 1466.8,1090.3 1467.8,1086.6 1468.8,1088.1 1469.8,1089.9 1470.8,1089.7 1471.8,1086.7 1472.8,1086.7 1473.8,1089.4 1474.8,1089.6 1475.8,1090.3 1476.8,1088.9 1477.8,1088.9 1478.8,1089.1 1479.8,1089.2 1480.8,1088.3 1481.8,1091 1482.8,1089.9 1483.8,1088.5 1484.8,1086.9 1485.8,1088.1 1486.8,1088.6 1487.8,1087.3 1488.8,1089.5 1489.8,1089.2 1490.8,1086.5 1491.8,1087.6 1492.8,1087.4 1493.8,1088.8 1494.8,1089.3 1495.8,1087.1 1496.8,1088.5 1497.8,1087 1498.8,1088.2 1499.8,1086 1500.8,1087.4 1501.8,1087.7 1502.8,1087.1 1503.8,1086.9 1504.8,1089.2 1505.8,1088.1 1506.8,1089.3 1507.8,1087.3 1508.8,1089.2 1509.8,1087.5 1510.8,1087.7 1511.8,1089.1 1512.8,1085.9 1513.8,1089.9 1514.8,1087.7 1515.8,1086.3 1516.8,1088.7 1517.8,1086.7 1518.8,1087.8 1519.8,1088.5 1520.8,1089.1 1521.8,1090.3 1522.8,1087.8 1523.8,1091.6 1524.8,1087.6 1525.8,1087.3 1526.8,1089.8 1527.8,1089.3 1528.8,1087.1 1529.8,1091.1 1530.8,1088.7 1531.8,1087.8 1532.8,1090.4 1533.8,1088.7 1534.8,1089.4 1535.8,1087.3 1536.8,1088.6 1537.8,1089.3 1538.8,1087 1539.8,1089.1 1540.8,1088.2 1541.8,1090.3 1542.8,1086.8 1543.8,1086.9 1544.8,1088.7 1545.8,1089.4 1546.8,1086.9 1547.8,1090.2 1548.8,1086.6 1549.8,1089.1 1550.8,1088.4 1551.8,1088.7 1552.8,1089.4 1553.8,1087.1 1554.8,1085.5 1555.8,1091.4 1556.8,1088.3 1557.8,1090.7 1558.8,1089.8 1559.8,1087.9 1560.8,1086.9 1561.8,1087.3 1562.8,1089.4 1563.8,1088.2 1564.8,1089.2 1565.8,1088.3 1566.8,1087.5 1567.8,1087.9 1568.8,1089.1 1569.8,1087.3 1570.8,1087.8 1571.8,1086 1572.8,1086.6 1573.8,1087.5 1574.8,1088.5 1575.8,1087.2 1576.8,1085.6 1577.8,1087.8 1578.8,1086.7 1579.8,1087.2 1580.8,1090.4 1581.8,1088.7 1582.8,1087.6 1583.8,1086 1584.8,1088.2 1585.8,1085.6 1586.8,1087.5 1587.8,1088.2 1588.8,1087.9 1589.8,1088.9 1590.8,1087.1 1591.8,1087.3 1592.8,1087.6 1593.8,1090.7 1594.8,1088.5 1595.8,1087.9 1596.8,1087.2 1597.8,1087.4 1598.8,1089.5 1599.8,1088.9 1600.8,1087.5 1601.8,1086.1 1602.8,1087.6 1603.8,1088.5 1604.8,1087.5 1605.8,1088.9 1606.8,1087.4 1607.8,1086.9 1608.8,1089 1609.8,1086.3 1610.8,1085.7" stroke="#6400dc" stroke-width="4.05"/>
<path d="M215.8,970.6 216.8,969.1 217.8,970.9 218.8,968.6 219.8,970.3 220.8,970.8 221.8,968.7 222.8,970.2 223.8,971.2 224.8,972.6 225.8,970.8 226.8,972 227.8,971 228.8,972.5 229.8,973.6 230.8,973.3 231.8,971.1 232.8,971.6 233.8,971.6 234.8,972.7 235.8,972.2 236.8,975.2 237.8,974 238.8,975.8 239.8,974.4 240.8,974.9 241.8,975 242.8,975.7 243.8,976.1 244.8,976.4 245.8,976 246.8,976 247.8,977.4 248.8,978.4 249.8,978.5 250.8,977.5 251.8,979.5 252.8,978.8 253.8,978.1 254.8,979.8 255.8,979 256.8,981.5 257.8,981 258.8,980.4 259.8,980.9 260.8,981.6 261.8,981.5 262.8,981.5 263.8,983.8 264.8,982.2 265.8,982.3 266.8,981.5 267.8,983.6 268.8,983.7 269.8,984.1 270.8,983.2 271.8,985.3 272.8,983.6 273.8,983.8 274.8,984.8 275.8,985.1 276.8,986.1 277.8,987.4 278.8,986.4 279.8,987.8 280.8,987.6 281.8,987 282.8,986.7 283.8,988.2 284.8,987.9 285.8,988.6 286.8,989.9 287.8,989.9 288.8,991.4 289.8,989.9 290.8,991 291.8,994 292.8,993.7 293.8,993.8 294.8,994.7 295.8,993.8 296.8,994.5 297.8,996.6 298.8,995.1 299.8,997.7 300.8,996.5 301.8,999.6 302.8,999.7 303.8,1000 304.8,1001.2 305.8,1001.8 306.8,1001.8 307.8,1002.3 308.8,1003.8 309.8,1005.1 310.8,1004.9 311.8,1006.5 312.8,1008.5 313.8,1007.9 314.8,1008.7 315.8,1008.5 316.8,1011.3 317.8,1011 318.8,1011.7 319.8,1011.9 320.8,1014.2 321.8,1014.3 322.8,1015.3 323.8,1015.6 324.8,1015.8 325.8,1017.5 326.8,1018.4 327.8,1018.5 328.8,1019.3 329.8,1020.5 330.8,1021.1 331.8,1023.1 332.8,1024.3 333.8,1023.7 334.8,1024.3 335.8,1026.2 336.8,1026.8 337.8,1027.5 338.8,1028.3 339.8,1029.8 340.8,1030.4 341.8,1031.4 342.8,1032.6 343.8,1032 344.8,1034.3 345.8,1035.2 346.8,1036 347.8,1036.7 348.8,1037.1 349.8,1037.9 350.8,1039.8 351.8,1040.1 352.8,1042.6 353.8,1043.1 354.8,1043.6 355.8,1045.2 356.8,1045.7 357.8,1046.4 358.8,1048.2 359.8,1048.6 360.8,1049.5 361.8,1050.7 362.8,1051.6 363.8,1052.7 364.8,1053.1 365.8,1054.1 366.8,1055.4 367.8,1056 368.8,1057 369.8,1056.9 370.8,1058.1 371.8,1058.7 372.8,1059.6 373.8,1060.5 374.8,1060.5 375.8,1061.2 376.8,1061.7 377.8,1062.4 378.8,1062.7 379.8,1063 380.8,1063.3 381.8,1063.8 382.8,1064.9 383.8,1065.4 384.8,1065.2 385.8,1065.1 386.8,1065.8 387.8,1066.4 388.8,1065.7 389.8,1066.6 390.8,1067.8 391.8,1067.4 392.8,1067.2 393.8,1067.8 394.8,1067.5 395.8,1068.5 396.8,1068.8 397.8,1069.1 398.8,1069.5 399.8,1069.8 400.8,1070.6 401.8,1070.6 402.8,1070.7 403.8,1071.2 404.8,1070.7 405.8,1071.7 406.8,1072.9 407.8,1073 408.8,1073 409.8,1072.7 410.8,1073.3 411.8,1074.4 412.8,1073.9 413.8,1074.2 414.8,1074.9 415.8,1075.4 416.8,1075.4 417.8,1076 418.8,1075.3 419.8,1076.5 420.8,1076.1 421.8,1076.7 422.8,1076 423.8,1077.2 424.8,1077.2 425.8,1077.7 426.8,1077.5 427.8,1077.5 428.8,1078.3 429.8,1079 430.8,1078.9 431.8,1079 432.8,1079.3 433.8,1080.2 434.8,1079.9 435.8,1079.7 436.8,1080.9 437.8,1080.6 438.8,1080.9 439.8,1080.3 440.8,1080.9 441.8,1081.3 442.8,1081.5 443.8,1081.5 444.8,1081.8 445.8,1081.5 446.8,1081.3 447.8,1081 448.8,1082.1 449.8,1081.9 450.8,1082.5 451.8,1082.5 452.8,1081.6 453.8,1082.3 454.8,1082.3 455.8,1082.4 456.8,1081.7 457.8,1082 458.8,1082.1 459.8,1082.8 460.8,1082.5 461.8,1082.2 462.8,1082.3 463.8,1082.7 464.8,1082.4 465.8,1082.6 466.8,1083.1 467.8,1083.6 468.8,1083.4 469.8,1083.5 470.8,1083.2 471.8,1083.4 472.8,1083.2 473.8,1084.1 474.8,1084.1 475.8,1084.1 476.8,1085.1 477.8,1084.5 478.8,1085.1 479.8,1084.8 480.8,1085.1 481.8,1084.6 482.8,1085.2 483.8,1085.5 484.8,1084.5 485.8,1085.9 486.8,1085.1 487.8,1085.5 488.8,1085.5 489.8,1086.1 490.8,1086 491.8,1085.7 492.8,1085.8 493.8,1086.2 494.8,1086 495.8,1086 496.8,1086.2 497.8,1086.8 498.8,1086 499.8,1086.1 500.8,1086.8 501.8,1086.5 502.8,1086.3 503.8,1087.1 504.8,1086.7 505.8,1086.6 506.8,1086.6 507.8,1087.6 508.8,1087.1 509.8,1087.8 510.8,1087.6 511.8,1087.1 512.8,1088 513.8,1087.5 514.8,1087.9 515.8,1087.2 516.8,1087.2 517.8,1087.6 518.8,1087.5 519.8,1088.1 520.8,1088.1 521.8,1087.5 522.8,1088 523.8,1087.2 524.8,1087.9 525.8,1088 526.8,1087.6 527.8,1087.6 528.8,1088.1 529.8,1087.9 530.8,1088.7 531.8,1087.8 532.8,1088.3 533.8,1088.8 534.8,1088.7 535.8,1088.5 536.8,1088.1 537.8,1088.3 538.8,1088.7 539.8,1088.5 540.8,1088.6 541.8,1088.4 542.8,1088.4 543.8,1089.2 544.8,1089 545.8,1088 546.8,1088.9 547.8,1089.1 548.8,1088.5 549.8,1088.5 550.8,1088.8 551.8,1088.8 552.8,1088.9 553.8,1088.7 554.8,1089.8 555.8,1088.8 556.8,1089.4 557.8,1089.5 558.8,1089.3 559.8,1089.5 560.8,1089.8 561.8,1089.2 562.8,1089.8 563.8,1089.8 564.8,1089.3 565.8,1088.8 566.8,1089.6 567.8,1089.7 568.8,1089.4 569.8,1089.6 570.8,1090.2 571.8,1089.7 572.8,1090 573.8,1089.7 574.8,1089.8 575.8,1089.8 576.8,1090 577.8,1089.9 578.8,1090.1 579.8,1090 580.8,1090.2 581.8,1090.2 582.8,1090 583.8,1089.9 584.8,1089.6 585.8,1089.6 586.8,1090.3 587.8,1090.2 588.8,1090.1 589.8,1089.9 590.8,1090.2 591.8,1090.1 592.8,1090.6 593.8,1090.3 594.8,1090 595.8,1090 596.8,1090.3 597.8,1091.1 598.8,1090.4 599.8,1090 600.8,1090.4 601.8,1090.7 602.8,1090.8 603.8,1090.8 604.8,1090.8 605.8,1090.7 606.8,1090.7 607.8,1090.4 608.8,1090.8 609.8,1090.7 610.8,1091.3 611.8,1090.3 612.8,1091.3 613.8,1090.5 614.8,1091 615.8,1090.6 616.8,1091.3 617.8,1091.1 618.8,1090.9 619.8,1091.4 620.8,1090.9 621.8,1090.7 622.8,1090.6 623.8,1091 624.8,1091 625.8,1090.6 626.8,1090.9 627.8,1091.2 628.8,1090.8 629.8,1091.6 630.8,1090.7 631.8,1090.9 632.8,1091.1 633.8,1091.8 634.8,1091.2 635.8,1090.9 636.8,1090.5 637.8,1090.9 638.8,1090.9 639.8,1091.5 640.8,1091 641.8,1090.9 642.8,1091.2 643.8,1091.4 644.8,1090.6 645.8,1091 646.8,1091.2 647.8,1091.6 648.8,1091.9 649.8,1091.6 650.8,1091.4 651.8,1091.1 652.8,1091.8 653.8,1090.8 654.8,1091.4 655.8,1091.6 656.8,1091.3 657.8,1091.1 658.8,1091.4 659.8,1091.2 660.8,1091.1 661.8,1091.4 662.8,1091.3 663.8,1092.3 664.8,1091.3 665.8,1092 666.8,1091.1 667.8,1092.1 668.8,1091.7 669.8,1091.4 670.8,1091.2 671.8,1091.4 672.8,1091 673.8,1091.8 674.8,1091.2 675.8,1092.2 676.8,1092.1 677.8,1092 678.8,1091.9 679.8,1091.9 680.8,1091.1 681.8,1091.7 682.8,1091.9 683.8,1091.9 684.8,1092.2 685.8,1092.2 686.8,1091.9 687.8,1092 688.8,1092.3 689.8,1091.9 690.8,1091.8 691.8,1091.7 692.8,1091.5 693.8,1091.6 694.8,1091.9 695.8,1091.5 696.8,1091.8 697.8,1091.6 698.8,1091.9 699.8,1092.2 700.8,1092.3 701.8,1092.3 702.8,1091.8 703.8,1091.9 704.8,1092.1 705.8,1091.7 706.8,1092.6 707.8,1091.7 708.8,1092.2 709.8,1091.6 710.8,1091.8 711.8,1092 712.8,1092.1 713.8,1091.9 714.8,1092.7 715.8,1092.4 716.8,1092.7 717.8,1091.5 718.8,1092.4 719.8,1092.8 720.8,1092.6 721.8,1091.9 722.8,1091.9 723.8,1091.9 724.8,1092.5 725.8,1091.9 726.8,1092.1 727.8,1092.5 728.8,1092.1 729.8,1092.2 730.8,1092 731.8,1092.8 732.8,1092.2 733.8,1092.5 734.8,1092.3 735.8,1092.6 736.8,1092.6 737.8,1092.4 738.8,1092.5 739.8,1092.1 740.8,1092.5 741.8,1092.5 742.8,1092.6 743.8,1091.9 744.8,1092.6 745.8,1092.4 746.8,1092.2 747.8,1092.3 748.8,1092.7 749.8,1092.8 750.8,1093.1 751.8,1092.4 752.8,1092.3 753.8,1092.5 754.8,1093 755.8,1092.8 756.8,1092.4 757.8,1092.9 758.8,1092.8 759.8,1092.8 760.8,1092.8 761.8,1092.5 762.8,1092.6 763.8,1093.3 764.8,1092.7 765.8,1093 766.8,1092.5 767.8,1092.5 768.8,1092.4 769.8,1093.1 770.8,1093 771.8,1093.1 772.8,1093.2 773.8,1092.8 774.8,1092.7 775.8,1092.7 776.8,1092.9 777.8,1093.1 778.8,1093.1 779.8,1093.2 780.8,1092.8 781.8,1093 782.8,1092.3 783.8,1092.9 784.8,1093.4 785.8,1092.9 786.8,1093.4 787.8,1093.7 788.8,1093.8 789.8,1093.2 790.8,1093.1 791.8,1093.3 792.8,1093.3 793.8,1093.2 794.8,1093.2 795.8,1093.4 796.8,1093.5 797.8,1093.4 798.8,1093.3 799.8,1093.5 800.8,1093.6 801.8,1093.5 802.8,1093.2 803.8,1093 804.8,1093.3 805.8,1092.7 806.8,1093.2 807.8,1093.2 808.8,1093.6 809.8,1093.1 810.8,1093 811.8,1093.6 812.8,1093.6 813.8,1093.1 814.8,1093.5 815.8,1093.4 816.8,1093.2 817.8,1093.2 818.8,1093.3 819.8,1093.6 820.8,1093.6 821.8,1093.9 822.8,1093.6 823.8,1093.3 824.8,1093.1 825.8,1093.3 826.8,1093.5 827.8,1093.5 828.8,1093.1 829.8,1094.2 830.8,1094.1 831.8,1093.8 832.8,1093.5 833.8,1093.4 834.8,1094 835.8,1093.7 836.8,1094 837.8,1093.9 838.8,1093.5 839.8,1093.8 840.8,1093.9 841.8,1093.8 842.8,1093.9 843.8,1093.5 844.8,1093.8 845.8,1093.8 846.8,1094 847.8,1093.6 848.8,1094.3 849.8,1094.2 850.8,1093.7 851.8,1094.1 852.8,1094 853.8,1094 854.8,1094.4 855.8,1094 856.8,1093.6 857.8,1094.4 858.8,1093.8 859.8,1094 860.8,1093.6 861.8,1094.3 862.8,1093.7 863.8,1093.6 864.8,1093.4 865.8,1093.8 866.8,1094.5 867.8,1093.7 868.8,1094.1 869.8,1093.9 870.8,1094.5 871.8,1094.3 872.8,1093.8 873.8,1093.7 874.8,1093.7 875.8,1093.7 876.8,1094.2 877.8,1094.1 878.8,1093.5 879.8,1093.8 880.8,1093.9 881.8,1093.4 882.8,1094 883.8,1094.3 884.8,1093.6 885.8,1094.2 886.8,1093.9 887.8,1093.9 888.8,1094 889.8,1093.9 890.8,1094.5 891.8,1093.8 892.8,1094.1 893.8,1094 894.8,1093.9 895.8,1093.4 896.8,1094.1 897.8,1093.9 898.8,1094.3 899.8,1094 900.8,1094.1 901.8,1094 902.8,1093.2 903.8,1094.3 904.8,1094.2 905.8,1094 906.8,1094.1 907.8,1094.5 908.8,1093.7 909.8,1094.2 910.8,1093.9 911.8,1094 912.8,1093.9 913.8,1093.2 914.8,1093.9 915.8,1094.1 916.8,1093.9 917.8,1094.1 918.8,1093.6 919.8,1093.7 920.8,1093.7 921.8,1093.5 922.8,1094.4 923.8,1094 924.8,1093.8 925.8,1094.2 926.8,1093.5 927.8,1093.2 928.8,1094 929.8,1093.4 930.8,1093.9 931.8,1093.8 932.8,1093.5 933.8,1093.7 934.8,1093.8 935.8,1093.9 936.8,1093.8 937.8,1093.7 938.8,1093.4 939.8,1093.5 940.8,1093.6 941.8,1093.6 942.8,1094 943.8,1093.9 944.8,1093.6 945.8,1094.4 946.8,1093.3 947.8,1094.6 948.8,1093.8 949.8,1093.7 950.8,1093.7 951.8,1093.2 952.8,1094.2 953.8,1093.7 954.8,1094 955.8,1094.3 956.8,1094 957.8,1094.1 958.8,1093.9 959.8,1093.3 960.8,1094.4 961.8,1093.6 962.8,1093.1 963.8,1093.7 964.8,1093.3 965.8,1094.1 966.8,1093.4 967.8,1094.2 968.8,1093.6 969.8,1093.3 970.8,1093.8 971.8,1093.8 972.8,1093.6 973.8,1094 974.8,1093.7 975.8,1093.7 976.8,1094.4 977.8,1094.3 978.8,1094.4 979.8,1093.9 980.8,1093.8 981.8,1093.4 982.8,1093.5 983.8,1093.6 984.8,1093.5 985.8,1093.9 986.8,1093.8 987.8,1093.8 988.8,1093.9 989.8,1093.4 990.8,1093.7 991.8,1093.8 992.8,1093.8 993.8,1093.4 994.8,1093.6 995.8,1093.7 996.8,1093.8 997.8,1093.4 998.8,1094.2 999.8,1094.2 1000.8,1094 1001.8,1094.2 1002.8,1093.6 1003.8,1093.8 1004.8,1094 1005.8,1093.8 1006.8,1093.9 1007.8,1093.5 1008.8,1094 1009.8,1094 1010.8,1093.7 1011.8,1093.1 1012.8,1093.9 1013.8,1093.8 1014.8,1094.2 1015.8,1094 1016.8,1093.8 1017.8,1094 1018.8,1093.5 1019.8,1093.9 1020.8,1093.9 1021.8,1093.4 1022.8,1094 1023.8,1093.9 1024.8,1094.2 1025.8,1094.1 1026.8,1093.6 1027.8,1093.4 1028.8,1093.1 1029.8,1094 1030.8,1094.1 1031.8,1093.9 1032.8,1093.6 1033.8,1093.7 1034.8,1093.4 1035.8,1093.3 1036.8,1093.6 1037.8,1093.9 1038.8,1093.9 1039.8,1093.6 1040.8,1093.7 1041.8,1093.5 1042.8,1093.9 1043.8,1093.3 1044.8,1094.1 1045.8,1093.9 1046.8,1093.6 1047.8,1093.5 1048.8,1094.2 1049.8,1093.8 1050.8,1093.8 1051.8,1093.9 1052.8,1093.8 1053.8,1093.3 1054.8,1092.9 1055.8,1093.3 1056.8,1093.1 1057.8,1093.6 1058.8,1094.3 1059.8,1093.1 1060.8,1093.9 1061.8,1094.2 1062.8,1094 1063.8,1093.9 1064.8,1094.1 1065.8,1093.8 1066.8,1094.2 1067.8,1093.3 1068.8,1093.4 1069.8,1093.6 1070.8,1093.6 1071.8,1093.8 1072.8,1093.5 1073.8,1093.4 1074.8,1093.1 1075.8,1093.6 1076.8,1093.1 1077.8,1094.1 1078.8,1093.9 1079.8,1094.2 1080.8,1093.5 1081.8,1093.5 1082.8,1094 1083.8,1093.7 1084.8,1093.7 1085.8,1091.8 1086.8,1093.7 1087.8,1093.8 1088.8,1093.8 1089.8,1093.8 1090.8,1093 1091.8,1093.6 1092.8,1094.2 1093.8,1093.5 1094.8,1093.5 1095.8,1092.8 1096.8,1093.7 1097.8,1093.7 1098.8,1094.1 1099.8,1094.4 1100.8,1093.6 1101.8,1093.8 1102.8,1094.3 1103.8,1093.7 1104.8,1094.3 1105.8,1093.5 1106.8,1093.3 1107.8,1093.6 1108.8,1093.3 1109.8,1093.8 1110.8,1093.5 1111.8,1093.8 1112.8,1093.2 1113.8,1094.2 1114.8,1093.8 1115.8,1093.4 1116.8,1093.7 1117.8,1093.5 1118.8,1093.2 1119.8,1093.4 1120.8,1093.3 1121.8,1093.2 1122.8,1093.3 1123.8,1093.2 1124.8,1093.8 1125.8,1093.8 1126.8,1094.4 1127.8,1093.8 1128.8,1093.6 1129.8,1093.6 1130.8,1093.6 1131.8,1093.2 1132.8,1094.2 1133.8,1094.1 1134.8,1093.5 1135.8,1093.9 1136.8,1093.5 1137.8,1093.6 1138.8,1093.5 1139.8,1094 1140.8,1094.1 1141.8,1093.3 1142.8,1093.9 1143.8,1094.3 1144.8,1093.7 1145.8,1092.3 1146.8,1093.5 1147.8,1093.8 1148.8,1093.7 1149.8,1093.2 1150.8,1094.3 1151.8,1093.6 1152.8,1094 1153.8,1093.5 1154.8,1093.4 1155.8,1093.4 1156.8,1093.8 1157.8,1093.9 1158.8,1093.2 1159.8,1093.6 1160.8,1093.3 1161.8,1094.1 1162.8,1093.8 1163.8,1093.8 1164.8,1093.4 1165.8,1094.1 1166.8,1094.1 1167.8,1093.4 1168.8,1093.4 1169.8,1094 1170.8,1093.7 1171.8,1093.2 1172.8,1093.3 1173.8,1093.8 1174.8,1093.3 1175.8,1093.7 1176.8,1094 1177.8,1093.5 1178.8,1093.4 1179.8,1093.3 1180.8,1093.8 1181.8,1094 1182.8,1093.5 1183.8,1094.3 1184.8,1092.9 1185.8,1093.7 1186.8,1093.6 1187.8,1093.9 1188.8,1093.9 1189.8,1093.8 1190.8,1093.7 1191.8,1093.8 1192.8,1093 1193.8,1093.3 1194.8,1093.8 1195.8,1093 1196.8,1093.9 1197.8,1093.6 1198.8,1093.7 1199.8,1093.4 1200.8,1093.8 1201.8,1093.9 1202.8,1093.6 1203.8,1093.2 1204.8,1093.6 1205.8,1093.7 1206.8,1093.9 1207.8,1093.8 1208.8,1093.6 1209.8,1093.5 1210.8,1092.5 1211.8,1093.2 1212.8,1093.3 1213.8,1094 1214.8,1093.2 1215.8,1094.1 1216.8,1093.5 1217.8,1093.8 1218.8,1093.8 1219.8,1093.4 1220.8,1093.5 1221.8,1093.7 1222.8,1093.5 1223.8,1093.4 1224.8,1093.5 1225.8,1093.6 1226.8,1092.8 1227.8,1093.7 1228.8,1093.9 1229.8,1092.3 1230.8,1093.7 1231.8,1093.6 1232.8,1093.8 1233.8,1093.9 1234.8,1093.8 1235.8,1093.2 1236.8,1093.7 1237.8,1093.6 1238.8,1093.5 1239.8,1093.6 1240.8,1093.8 1241.8,1093.7 1242.8,1093.9 1243.8,1093.5 1244.8,1093.7 1245.8,1094.2 1246.8,1093.7 1247.8,1093.4 1248.8,1093.6 1249.8,1093.4 1250.8,1093.5 1251.8,1093.3 1252.8,1093.5 1253.8,1093.7 1254.8,1093.3 1255.8,1093.7 1256.8,1094 1257.8,1093.7 1258.8,1093.7 1259.8,1093.4 1260.8,1093.1 1261.8,1093.6 1262.8,1093.6 1263.8,1093.2 1264.8,1093.4 1265.8,1094.3 1266.8,1093.5 1267.8,1093 1268.8,1093.8 1269.8,1093.7 1270.8,1093.4 1271.8,1093.6 1272.8,1093 1273.8,1093.5 1274.8,1091.7 1275.8,1094.2 1276.8,1094.2 1277.8,1093.6 1278.8,1093.4 1279.8,1093.8 1280.8,1093.1 1281.8,1093.8 1282.8,1093.3 1283.8,1093.7 1284.8,1093.7 1285.8,1093.7 1286.8,1093.1 1287.8,1093.1 1288.8,1093.7 1289.8,1093.5 1290.8,1093.1 1291.8,1093.3 1292.8,1093.7 1293.8,1093.8 1294.8,1093.4 1295.8,1093.1 1296.8,1093.6 1297.8,1093.8 1298.8,1093.3 1299.8,1093.6 1300.8,1093.5 1301.8,1093.8 1302.8,1093.4 1303.8,1092.8 1304.8,1093.6 1305.8,1093.9 1306.8,1093.5 1307.8,1091.6 1308.8,1093.3 1309.8,1093.4 1310.8,1093.5 1311.8,1093.5 1312.8,1093.7 1313.8,1093.4 1314.8,1092.8 1315.8,1093.7 1316.8,1093 1317.8,1093.1 1318.8,1093.6 1319.8,1093.4 1320.8,1093.3 1321.8,1093 1322.8,1093.7 1323.8,1093.5 1324.8,1094 1325.8,1093.6 1326.8,1093.9 1327.8,1093.3 1328.8,1093.6 1329.8,1092.8 1330.8,1093.7 1331.8,1093.1 1332.8,1093.5 1333.8,1093.6 1334.8,1093.9 1335.8,1092.8 1336.8,1093.5 1337.8,1092.3 1338.8,1093.4 1339.8,1093.4 1340.8,1093 1341.8,1093 1342.8,1093.6 1343.8,1093.5 1344.8,1093.4 1345.8,1092.9 1346.8,1093.1 1347.8,1093.3 1348.8,1093.6 1349.8,1093.2 1350.8,1093.5 1351.8,1093.5 1352.8,1093.3 1353.8,1093.3 1354.8,1093.3 1355.8,1093.3 1356.8,1093.2 1357.8,1093 1358.8,1093.6 1359.8,1093 1360.8,1093.9 1361.8,1093.4 1362.8,1093.3 1363.8,1093.2 1364.8,1093.1 1365.8,1093.1 1366.8,1093.1 1367.8,1093.3 1368.8,1093.5 1369.8,1092.8 1370.8,1093.7 1371.8,1093.5 1372.8,1093.6 1373.8,1093 1374.8,1093.4 1375.8,1093.7 1376.8,1093.3 1377.8,1093 1378.8,1093.1 1379.8,1093.2 1380.8,1092.8 1381.8,1093.4 1382.8,1093.4 1383.8,1093.5 1384.8,1093.6 1385.8,1092.6 1386.8,1093 1387.8,1093.3 1388.8,1092.9 1389.8,1093 1390.8,1093.7 1391.8,1093.3 1392.8,1093.4 1393.8,1092.9 1394.8,1093.6 1395.8,1093.1 1396.8,1093.3 1397.8,1092.8 1398.8,1092.4 1399.8,1093 1400.8,1093.1 1401.8,1093.1 1402.8,1094.1 1403.8,1092.4 1404.8,1092.7 1405.8,1093.6 1406.8,1093.2 1407.8,1093.3 1408.8,1092.4 1409.8,1092 1410.8,1092.3 1411.8,1090.5 1412.8,1090.9 1413.8,1087.2 1414.8,1088 1415.8,1090.7 1416.8,1089.4 1417.8,1087.4 1418.8,1088.3 1419.8,1086.5 1420.8,1088.1 1421.8,1090.4 1422.8,1090 1423.8,1086.9 1424.8,1090.2 1425.8,1089.1 1426.8,1089.4 1427.8,1085.6 1428.8,1087.5 1429.8,1087.3 1430.8,1090.1 1431.8,1089.2 1432.8,1086.7 1433.8,1088.1 1434.8,1088.5 1435.8,1088.6 1436.8,1089.5 1437.8,1089.3 1438.8,1091.1 1439.8,1087.2 1440.8,1089.4 1441.8,1089.8 1442.8,1091.8 1443.8,1086.4 1444.8,1088 1445.8,1087.5 1446.8,1089.5 1447.8,1089.4 1448.8,1088.7 1449.8,1087.6 1450.8,1092.2 1451.8,1086.6 1452.8,1090.1 1453.8,1086.8 1454.8,1086.2 1455.8,1090 1456.8,1091.6 1457.8,1088.6 1458.8,1090.4 1459.8,1089.3 1460.8,1087.9 1461.8,1086.6 1462.8,1089.5 1463.8,1088.4 1464.8,1088.1 1465.8,1088.3 1466.8,1088.6 1467.8,1089 1468.8,1088.7 1469.8,1089 1470.8,1090.9 1471.8,1088 1472.8,1089.7 1473.8,1087.3 1474.8,1090 1475.8,1088.2 1476.8,1088.9 1477.8,1087.5 1478.8,1091.2 1479.8,1089.6 1480.8,1091.1 1481.8,1088.7 1482.8,1085.8 1483.8,1088.1 1484.8,1088 1485.8,1088.9 1486.8,1090.5 1487.8,1088.6 1488.8,1089.9 1489.8,1089.4 1490.8,1089.5 1491.8,1087.9 1492.8,1089.9 1493.8,1086.9 1494.8,1090.1 1495.8,1087.8 1496.8,1090.3 1497.8,1089.9 1498.8,1086.1 1499.8,1089.5 1500.8,1088.5 1501.8,1087.8 1502.8,1088.6 1503.8,1089.6 1504.8,1088 1505.8,1088.3 1506.8,1089 1507.8,1087.8 1508.8,1090.6 1509.8,1084.9 1510.8,1088.4 1511.8,1090.2 1512.8,1087.2 1513.8,1088.7 1514.8,1086.9 1515.8,1088.7 1516.8,1089.7 1517.8,1086.7 1518.8,1087.8 1519.8,1086.5 1520.8,1087.1 1521.8,1089 1522.8,1089.6 1523.8,1086.8 1524.8,1086.5 1525.8,1084.8 1526.8,1089.5 1527.8,1088.1 1528.8,1089.6 1529.8,1088.2 1530.8,1090.3 1531.8,1089.9 1532.8,1087.4 1533.8,1089.3 1534.8,1087.9 1535.8,1087.4 1536.8,1087 1537.8,1086.8 1538.8,1090.7 1539.8,1090.7 1540.8,1088.9 1541.8,1086.2 1542.8,1089.5 1543.8,1088.8 1544.8,1088.4 1545.8,1088.6 1546.8,1087.6 1547.8,1087.2 1548.8,1088.8 1549.8,1089 1550.8,1091.1 1551.8,1090 1552.8,1090.6 1553.8,1087.2 1554.8,1089.5 1555.8,1088.9 1556.8,1090.5 1557.8,1087.2 1558.8,1087.7 1559.8,1089.3 1560.8,1089.4 1561.8,1087.9 1562.8,1086.7 1563.8,1087.1 1564.8,1086.6 1565.8,1087.8 1566.8,1087.3 1567.8,1088.2 1568.8,1090.1 1569.8,1087.8 1570.8,1090 1571.8,1087 1572.8,1088 1573.8,1089.9 1574.8,1084.4 1575.8,1091.4 1576.8,1085.9 1577.8,1089.2 1578.8,1086.3 1579.8,1087.2 1580.8,1088.2 1581.8,1088.4 1582.8,1086.5 1583.8,1090.7 1584.8,1087.8 1585.8,1086.7 1586.8,1088.3 1587.8,1090 1588.8,1086.8 1589.8,1087.2 1590.8,1089.9 1591.8,1089.8 1592.8,1088 1593.8,1088.9 1594.8,1088 1595.8,1087.1 1596.8,1086.1 1597.8,1089 1598.8,1088.5 1599.8,1087.5 1600.8,1086.6 1601.8,1087.8 1602.8,1089.1 1603.8,1085.1 1604.8,1085.4 1605.8,1085.6 1606.8,1085.5 1607.8,1084.7 1608.8,1084.4 1609.8,1085.3 1610.8,1087.1" stroke="#a000c8" stroke-width="4.05"/>
<path d="M215.8,112.2 216.8,112.9 217.8,112.8 218.8,112.2 219.8,111.1 220.8,111.6 221.8,111 222.8,110.5 223.8,110.1 224.8,109.7 225.8,109.3 226.8,108.7 227.8,108.3 228.8,107.9 229.8,107.5 230.8,107.1 231.8,106.7 232.8,106.3 233.8,105.9 234.8,105.5 235.8,105.1 236.8,104.7 237.8,104.3 238.8,103.9 239.8,103.5 240.8,103.1 241.8,102.7 242.8,102.3 243.8,101.9 244.8,101.5 245.8,101 246.8,100.6 247.8,100.2 248.8,99.8 249.8,99.4 250.8,99 251.8,98.6 252.8,98.2 253.8,97.8 254.8,97.4 255.8,97 256.8,96.6 257.8,96.2 258.8,95.8 259.8,95.4 260.8,95 261.8,94.6 262.8,94.2 263.8,93.8 264.8,93.4 265.8,93 266.8,92.6 267.8,92.2 268.8,91.8 269.8,91.4 270.8,91 271.8,90.6 272.8,90.2 273.8,89.8 274.8,89.4 275.8,89 276.8,88.6 277.8,88.2 278.8,87.8 279.8,87.4 280.8,86.9 281.8,86.5 282.8,86.1 283.8,85.7 284.8,85.2 285.8,84.8 286.8,84.4 287.8,84 288.8,83.5 289.8,83.1 290.8,82.7 291.8,82.3 292.8,81.9 293.8,81.6 294.8,81 295.8,80.6 296.8,79.7 297.8,80.6 298.8,79.7 299.8,79.7 300.8,77.7 301.8,78.8 302.8,78 303.8,79.3 304.8,76 305.8,77.9 306.8,78.6 307.8,75.2 308.8,76.8 309.8,74.7 310.8,76.2 311.8,76.5 312.8,78.1 313.8,75.7 314.8,73.8 315.8,76.1 316.8,74.9 317.8,77 318.8,73.6 319.8,77.5 320.8,75.1 321.8,75.3 322.8,76.8 323.8,73.8 324.8,73.8 325.8,75.9 326.8,74.7 327.8,75 328.8,74.1 329.8,74.3 330.8,76.6 331.8,78.9 332.8,72.2 333.8,78.1 334.8,76.6 335.8,77.7 336.8,75.8 337.8,74.1 338.8,75.3 339.8,74 340.8,72.6 341.8,76 342.8,76.8 343.8,75.9 344.8,77 345.8,73.7 346.8,79 347.8,76.8 348.8,77.3 349.8,78.8 350.8,76.4 351.8,82.1 352.8,80.4 353.8,80.6 354.8,78.6 355.8,77 356.8,79.6 357.8,77.4 358.8,79.5 359.8,79.6 360.8,81.8 361.8,80.4 362.8,80 363.8,82.6 364.8,79.8 365.8,79.1 366.8,79.3 367.8,83.4 368.8,80.8 369.8,79.7 370.8,77.1 371.8,79.1 372.8,82 373.8,82.7 374.8,85 375.8,80.5 376.8,83 377.8,84.7 378.8,77.8 379.8,86.7 380.8,80.2 381.8,80.2 382.8,84.5 383.8,83.5 384.8,85.1 385.8,84.1 386.8,83.4 387.8,82.6 388.8,81.3 389.8,84.1 390.8,79.1 391.8,82.6 392.8,84.6 393.8,80.8 394.8,84.8 395.8,85.1 396.8,83.4 397.8,83 398.8,84.5 399.8,84.7 400.8,83 401.8,87.8 402.8,86.8 403.8,86 404.8,86.9 405.8,86.9 406.8,81.8 407.8,89.1 408.8,82.1 409.8,85.6 410.8,83.2 411.8,86.9 412.8,86.7 413.8,86.5 414.8,81.9 415.8,88.1 416.8,87.2 417.8,82.8 418.8,90.2 419.8,87.1 420.8,86.1 421.8,88.7 422.8,86.9 423.8,89 424.8,87.7 425.8,86.8 426.8,86.5 427.8,90.6 428.8,89.4 429.8,87.9 430.8,88.5 431.8,88.1 432.8,94.4 433.8,91.1 434.8,90.9 435.8,93.7 436.8,89.5 437.8,88.8 438.8,90.1 439.8,91.5 440.8,90.8 441.8,90.5 442.8,91.5 443.8,90.2 444.8,88.8 445.8,92.4 446.8,90.3 447.8,90.1 448.8,91.6 449.8,91.3 450.8,88.1 451.8,88.8 452.8,87.3 453.8,87.6 454.8,90.6 455.8,88.9 456.8,87.8 457.8,86.9 458.8,92 459.8,88.5 460.8,89.7 461.8,89 462.8,87.1 463.8,89.7 464.8,89 465.8,91.3 466.8,89.7 467.8,85.9 468.8,88.1 469.8,88.1 470.8,88.1 471.8,85.7 472.8,84.8 473.8,87.9 474.8,88.8 475.8,85.7 476.8,91.8 477.8,89.3 478.8,87 479.8,92.1 480.8,84.9 481.8,85.9 482.8,85.7 483.8,90.2 484.8,86.4 485.8,89.3 486.8,88.4 487.8,86.7 488.8,88.1 489.8,85.5 490.8,89.5 491.8,85.9 492.8,86.3 493.8,89.5 494.8,87.3 495.8,92.2 496.8,91.3 497.8,85.3 498.8,89 499.8,88.5 500.8,93.1 501.8,87.6 502.8,87.4 503.8,88.2 504.8,88.1 505.8,86.7 506.8,88.9 507.8,87.2 508.8,86.5 509.8,91.1 510.8,88.3 511.8,85.8 512.8,85 513.8,87 514.8,85.1 515.8,85 516.8,89.7 517.8,87.2 518.8,86.4 519.8,87.9 520.8,86.4 521.8,87.7 522.8,91.3 523.8,87.6 524.8,86.5 525.8,85.5 526.8,89.1 527.8,87.6 528.8,88.8 529.8,84.8 530.8,87.3 531.8,88.3 532.8,89.2 533.8,88.7 534.8,87.7 535.8,90.8 536.8,88.2 537.8,84.1 538.8,85.7 539.8,88.1 540.8,88.6 541.8,85.5 542.8,85.7 543.8,88.8 544.8,88.6 545.8,88.8 546.8,89.4 547.8,88.1 548.8,86.4 549.8,90.5 550.8,90 551.8,91.4 552.8,88.9 553.8,88.2 554.8,88.5 555.8,88.7 556.8,84.4 557.8,87.8 558.8,87.4 559.8,88.9 560.8,88.8 561.8,87.5 562.8,87.3 563.8,85.5 564.8,88.8 565.8,87.3 566.8,87.6 567.8,90.5 568.8,90.4 569.8,87.7 570.8,91.8 571.8,89.8 572.8,88.5 573.8,86.6 574.8,86.7 575.8,90.4 576.8,84.6 577.8,92 578.8,90 579.8,88 580.8,92 581.8,89.3 582.8,86.3 583.8,87.6 584.8,86.8 585.8,86.6 586.8,93 587.8,89.3 588.8,88.8 589.8,90.9 590.8,90.5 591.8,88 592.8,87.4 593.8,85.5 594.8,91.4 595.8,89.1 596.8,91.5 597.8,89.7 598.8,87 599.8,88.6 600.8,92.9 601.8,88.7 602.8,91 603.8,85.8 604.8,88.6 605.8,92.2 606.8,86.6 607.8,92.6 608.8,89.6 609.8,89.5 610.8,93.8 611.8,90 612.8,93.5 613.8,90.7 614.8,92.4 615.8,94 616.8,94.3 617.8,91.8 618.8,88.1 619.8,96.3 620.8,91.8 621.8,95.7 622.8,91.7 623.8,92.6 624.8,93.8 625.8,93.7 626.8,97.8 627.8,90.5 628.8,92.9 629.8,94.6 630.8,95 631.8,94.3 632.8,94.6 633.8,96.4 634.8,93.2 635.8,93.3 636.8,94.2 637.8,95.9 638.8,91.6 639.8,98.4 640.8,93.9 641.8,93.4 642.8,94 643.8,92.6 644.8,93 645.8,94.3 646.8,96 647.8,96.6 648.8,94.5 649.8,94.8 650.8,96.4 651.8,91.8 652.8,95.4 653.8,98.1 654.8,99.4 655.8,95.8 656.8,93.6 657.8,95.3 658.8,99.2 659.8,101 660.8,96.7 661.8,94.2 662.8,97.7 663.8,99.2 664.8,99.6 665.8,98.7 666.8,102.5 667.8,98.4 668.8,103 669.8,96.7 670.8,102 671.8,101.6 672.8,101.2 673.8,98.2 674.8,99.7 675.8,97.9 676.8,100.6 677.8,101.4 678.8,102.2 679.8,98.9 680.8,100.1 681.8,97.5 682.8,102.2 683.8,100.2 684.8,104.7 685.8,101.7 686.8,104.1 687.8,102.6 688.8,103.6 689.8,103.5 690.8,101.8 691.8,106.2 692.8,103.1 693.8,107.7 694.8,101.1 695.8,104.8 696.8,107.8 697.8,108.2 698.8,103 699.8,107.7 700.8,108.1 701.8,108.7 702.8,107.9 703.8,107.6 704.8,110.1 705.8,111.4 706.8,112.9 707.8,111.3 708.8,110.4 709.8,114.1 710.8,110.5 711.8,112.4 712.8,113.2 713.8,115 714.8,116 715.8,120.2 716.8,118.1 717.8,119.3 718.8,117.1 719.8,116.3 720.8,118.2 721.8,118.5 722.8,124.2 723.8,123.5 724.8,122.8 725.8,121.5 726.8,119.6 727.8,122.1 728.8,122 729.8,122.3 730.8,125.2 731.8,128.5 732.8,129.7 733.8,125.8 734.8,127 735.8,128.1 736.8,126.7 737.8,131.4 738.8,130.5 739.8,130.3 740.8,132 741.8,130.7 742.8,131.9 743.8,135.7 744.8,135.9 745.8,135.1 746.8,132.7 747.8,140.7 748.8,138.2 749.8,140.1 750.8,137.2 751.8,141.3 752.8,142.3 753.8,142.8 754.8,145.7 755.8,140.9 756.8,148.1 757.8,146.2 758.8,147.5 759.8,150 760.8,152.6 761.8,153.9 762.8,154.6 763.8,158.5 764.8,163.4 765.8,162.6 766.8,162.5 767.8,167.7 768.8,169 769.8,167.7 770.8,173.7 771.8,170.8 772.8,176.4 773.8,180.9 774.8,178 775.8,181.6 776.8,183.6 777.8,189.3 778.8,189.2 779.8,192.9 780.8,196.5 781.8,200.3 782.8,203.3 783.8,205.2 784.8,208 785.8,214.6 786.8,218.2 787.8,223.3 788.8,227.6 789.8,233.3 790.8,239.6 791.8,244.3 792.8,251.1 793.8,257.2 794.8,265.6 795.8,272.5 796.8,279.8 797.8,287.6 798.8,296.8 799.8,305.4 800.8,314.2 801.8,324.1 802.8,332.6 803.8,343.4 804.8,354.3 805.8,364.4 806.8,376.7 807.8,389.4 808.8,402.1 809.8,417.6 810.8,433.3 811.8,450.4 812.8,467.1 813.8,481.1 814.8,497.2 815.8,513.8 816.8,528.2 817.8,544.3 818.8,559.5 819.8,573.9 820.8,589.1 821.8,603.2 822.8,617.1 823.8,630.9 824.8,645.4 825.8,658.5 826.8,671.6 827.8,685.1 828.8,699 829.8,712.4 830.8,724.7 831.8,738.2 832.8,749 833.8,759.7 834.8,770.6 835.8,780.8 836.8,790.7 837.8,799.2 838.8,809 839.8,818.9 840.8,827.5 841.8,837 842.8,845.7 843.8,853.6 844.8,863 845.8,872.9 846.8,880.4 847.8,890.4 848.8,898.1 849.8,905.2 850.8,913.6 851.8,918.9 852.8,925.3 853.8,931.4 854.8,936.9 855.8,942.6 856.8,947.5 857.8,950.7 858.8,957.4 859.8,961.8 860.8,966.1 861.8,970.1 862.8,972.8 863.8,978.2 864.8,980.9 865.8,983.9 866.8,986.9 867.8,986.2 868.8,980.4 869.8,977 870.8,978.8 871.8,980.9 872.8,981.9 873.8,985.6 874.8,988.2 875.8,993.1 876.8,996.2 877.8,997.9 878.8,1001.9 879.8,1006.7 880.8,1009.4 881.8,1011.8 882.8,1012.5 883.8,1014 884.8,1017.7 885.8,1018.8 886.8,1020.7 887.8,1022.2 888.8,1025.2 889.8,1025.9 890.8,1028.3 891.8,1032.6 892.8,1032.5 893.8,1035.7 894.8,1036.6 895.8,1038.6 896.8,1040.1 897.8,1043.8 898.8,1043.6 899.8,1045.1 900.8,1046.5 901.8,1047.3 902.8,1050.5 903.8,1049.9 904.8,1050.6 905.8,1053.8 906.8,1055.3 907.8,1054.9 908.8,1057.6 909.8,1058.5 910.8,1058 911.8,1058.5 912.8,1062.1 913.8,1062.7 914.8,1064.5 915.8,1063.3 916.8,1066.8 917.8,1066.6 918.8,1067.8 919.8,1070.2 920.8,1069 921.8,1069.6 922.8,1070 923.8,1069.7 924.8,1071.6 925.8,1070.8 926.8,1071.8 927.8,1071.6 928.8,1074.7 929.8,1074.3 930.8,1076.1 931.8,1074.7 932.8,1075.3 933.8,1075.4 934.8,1075.6 935.8,1078.7 936.8,1075.1 937.8,1079 938.8,1079.2 939.8,1077.9 940.8,1078.8 941.8,1080.5 942.8,1079.3 943.8,1077.5 944.8,1079.1 945.8,1081.4 946.8,1079.3 947.8,1081.8 948.8,1080.4 949.8,1081.8 950.8,1080.7 951.8,1080.8 952.8,1080.9 953.8,1079.9 954.8,1082.7 955.8,1080.4 956.8,1082.5 957.8,1081.9 958.8,1083.4 959.8,1084.3 960.8,1083.5 961.8,1083.5 962.8,1084.2 963.8,1084.5 964.8,1085.1 965.8,1084.3 966.8,1085.6 967.8,1084.4 968.8,1085.1 969.8,1086.8 970.8,1085.7 971.8,1086.2 972.8,1086.2 973.8,1086.2 974.8,1087.4 975.8,1086.2 976.8,1085.5 977.8,1086.4 978.8,1086.7 979.8,1086.4 980.8,1086.5 981.8,1084.7 982.8,1087.3 983.8,1088 984.8,1087.3 985.8,1086.6 986.8,1087.2 987.8,1087.2 988.8,1087.2 989.8,1088 990.8,1084.6 991.8,1087.5 992.8,1088.6 993.8,1087 994.8,1088.2 995.8,1087.8 996.8,1086.9 997.8,1087.4 998.8,1088.8 999.8,1087.6 1000.8,1088.1 1001.8,1088 1002.8,1087.4 1003.8,1088.9 1004.8,1088.8 1005.8,1088.5 1006.8,1088.2 1007.8,1087.8 1008.8,1087.8 1009.8,1089 1010.8,1087.2 1011.8,1089.1 1012.8,1088.7 1013.8,1088.8 1014.8,1088.6 1015.8,1088 1016.8,1088.1 1017.8,1088.6 1018.8,1088.9 1019.8,1089.5 1020.8,1088.9 1021.8,1089.1 1022.8,1088.3 1023.8,1089.4 1024.8,1089.2 1025.8,1090 1026.8,1089.5 1027.8,1089 1028.8,1088.3 1029.8,1090 1030.8,1088.5 1031.8,1089.3 1032.8,1089.7 1033.8,1089.6 1034.8,1088.5 1035.8,1087.6 1036.8,1087.2 1037.8,1089.7 1038.8,1090.6 1039.8,1088.8 1040.8,1088.3 1041.8,1088.6 1042.8,1088.8 1043.8,1089.1 1044.8,1089.6 1045.8,1089.6 1046.8,1089.3 1047.8,1089 1048.8,1089.7 1049.8,1089.2 1050.8,1090.1 1051.8,1089.3 1052.8,1089.2 1053.8,1087.5 1054.8,1090.3 1055.8,1090.6 1056.8,1089.1 1057.8,1090.3 1058.8,1090.5 1059.8,1089.9 1060.8,1089.2 1061.8,1089.7 1062.8,1090.2 1063.8,1089.9 1064.8,1089.9 1065.8,1090.5 1066.8,1091.1 1067.8,1090.9 1068.8,1089.4 1069.8,1089 1070.8,1091 1071.8,1090.9 1072.8,1090.1 1073.8,1089.2 1074.8,1091.1 1075.8,1089.9 1076.8,1089.8 1077.8,1090.2 1078.8,1090.5 1079.8,1089.5 1080.8,1089.7 1081.8,1090.5 1082.8,1090.6 1083.8,1088.1 1084.8,1092.1 1085.8,1091.5 1086.8,1091.2 1087.8,1091.3 1088.8,1089.7 1089.8,1091.1 1090.8,1091.4 1091.8,1091.2 1092.8,1091.4 1093.8,1091.6 1094.8,1092.2 1095.8,1092 1096.8,1091.1 1097.8,1092.1 1098.8,1091.2 1099.8,1091.6 1100.8,1091.7 1101.8,1091.5 1102.8,1091.5 1103.8,1091.8 1104.8,1091.8 1105.8,1090.3 1106.8,1091.6 1107.8,1091.2 1108.8,1092.7 1109.8,1091.9 1110.8,1091.3 1111.8,1092.1 1112.8,1091.9 1113.8,1092.2 1114.8,1090.6 1115.8,1091.7 1116.8,1091.3 1117.8,1092.8 1118.8,1092.4 1119.8,1091.9 1120.8,1092 1121.8,1092 1122.8,1091.8 1123.8,1091.5 1124.8,1091.3 1125.8,1092.8 1126.8,1091.5 1127.8,1092.4 1128.8,1092.7 1129.8,1091.3 1130.8,1092.2 1131.8,1092.6 1132.8,1091.9 1133.8,1091.7 1134.8,1092.8 1135.8,1092.7 1136.8,1093 1137.8,1092.3 1138.8,1091.2 1139.8,1092.1 1140.8,1092 1141.8,1093 1142.8,1091.9 1143.8,1093 1144.8,1092.6 1145.8,1092.6 1146.8,1092.6 1147.8,1092.8 1148.8,1090.7 1149.8,1093.2 1150.8,1091.5 1151.8,1092.1 1152.8,1092.1 1153.8,1093 1154.8,1092.1 1155.8,1093.6 1156.8,1092 1157.8,1093.9 1158.8,1093 1159.8,1093.2 1160.8,1092.9 1161.8,1093.2 1162.8,1092.2 1163.8,1091.9 1164.8,1093.2 1165.8,1093.1 1166.8,1092.6 1167.8,1092.6 1168.8,1092.7 1169.8,1092.9 1170.8,1093.3 1171.8,1092.6 1172.8,1092.2 1173.8,1093.5 1174.8,1092.7 1175.8,1093.2 1176.8,1092.5 1177.8,1092.9 1178.8,1092.7 1179.8,1093.6 1180.8,1092.7 1181.8,1092.2 1182.8,1093.1 1183.8,1092.6 1184.8,1093.8 1185.8,1093.2 1186.8,1092.7 1187.8,1092.3 1188.8,1093 1189.8,1092.7 1190.8,1092.9 1191.8,1092.8 1192.8,1094.3 1193.8,1092.6 1194.8,1093.2 1195.8,1093.5 1196.8,1093.7 1197.8,1092.9 1198.8,1093.2 1199.8,1093 1200.8,1094 1201.8,1092.9 1202.8,1093.3 1203.8,1092.8 1204.8,1092.3 1205.8,1092.9 1206.8,1093.8 1207.8,1093 1208.8,1093.1 1209.8,1093.2 1210.8,1093.3 1211.8,1093 1212.8,1092.6 1213.8,1091.6 1214.8,1093.2 1215.8,1093.6 1216.8,1093.6 1217.8,1092.8 1218.8,1093.6 1219.8,1093.2 1220.8,1093.2 1221.8,1093.5 1222.8,1093.7 1223.8,1093.8 1224.8,1093.4 1225.8,1092.9 1226.8,1092.8 1227.8,1092.6 1228.8,1093.7 1229.8,1093.3 1230.8,1093.8 1231.8,1093.8 1232.8,1093.3 1233.8,1093.6 1234.8,1093.3 1235.8,1092.9 1236.8,1093.5 1237.8,1093.4 1238.8,1093.2 1239.8,1093.9 1240.8,1093.1 1241.8,1092.9 1242.8,1093.7 1243.8,1093.8 1244.8,1093.6 1245.8,1093.4 1246.8,1093.5 1247.8,1093.1 1248.8,1093.5 1249.8,1093.3 1250.8,1093.8 1251.8,1093 1252.8,1093 1253.8,1093.4 1254.8,1093.2 1255.8,1093.1 1256.8,1093.6 1257.8,1093 1258.8,1093.1 1259.8,1093.2 1260.8,1093.1 1261.8,1093.3 1262.8,1093.3 1263.8,1093 1264.8,1093 1265.8,1094.1 1266.8,1093.5 1267.8,1093.3 1268.8,1093.6 1269.8,1093.5 1270.8,1093.3 1271.8,1093.3 1272.8,1093.3 1273.8,1093.3 1274.8,1094 1275.8,1093.3 1276.8,1093.6 1277.8,1093.6 1278.8,1092.8 1279.8,1093.8 1280.8,1093.5 1281.8,1091.9 1282.8,1093.9 1283.8,1093.7 1284.8,1093.5 1285.8,1093.2 1286.8,1093.1 1287.8,1093.4 1288.8,1093.3 1289.8,1093.8 1290.8,1092.9 1291.8,1093.8 1292.8,1093.5 1293.8,1093.4 1294.8,1093.4 1295.8,1093.2 1296.8,1093.4 1297.8,1093.5 1298.8,1093.5 1299.8,1093.4 1300.8,1094.1 1301.8,1093.5 1302.8,1093.5 1303.8,1093.4 1304.8,1093.8 1305.8,1093.7 1306.8,1093.5 1307.8,1093.8 1308.8,1093.6 1309.8,1093 1310.8,1093 1311.8,1092.6 1312.8,1093.5 1313.8,1092.8 1314.8,1092.9 1315.8,1093.2 1316.8,1093.4 1317.8,1093.4 1318.8,1093.5 1319.8,1093.4 1320.8,1093.5 1321.8,1093.4 1322.8,1093.2 1323.8,1093 1324.8,1093.4 1325.8,1093.6 1326.8,1093.2 1327.8,1093.3 1328.8,1093.7 1329.8,1094 1330.8,1093.9 1331.8,1093.3 1332.8,1092.8 1333.8,1093.3 1334.8,1093.5 1335.8,1093.5 1336.8,1092.9 1337.8,1093.8 1338.8,1093.7 1339.8,1093.3 1340.8,1093.6 1341.8,1093.2 1342.8,1093.4 1343.8,1093.9 1344.8,1093 1345.8,1093.3 1346.8,1093.3 1347.8,1093.3 1348.8,1093.5 1349.8,1093.4 1350.8,1094 1351.8,1092.6 1352.8,1093.7 1353.8,1093.1 1354.8,1093.6 1355.8,1093.4 1356.8,1093.4 1357.8,1093.3 1358.8,1093.4 1359.8,1093.1 1360.8,1093.3 1361.8,1092.8 1362.8,1093.4 1363.8,1093.2 1364.8,1093.4 1365.8,1093.2 1366.8,1093.8 1367.8,1093.4 1368.8,1093.4 1369.8,1093.9 1370.8,1093.2 1371.8,1093.5 1372.8,1093.1 1373.8,1093.2 1374.8,1093.2 1375.8,1094.1 1376.8,1093.3 1377.8,1093.7 1378.8,1093.7 1379.8,1094 1380.8,1093.5 1381.8,1093.2 1382.8,1093.3 1383.8,1094.2 1384.8,1094.1 1385.8,1094.4 1386.8,1094.5 1387.8,1094.2 1388.8,1094.2 1389.8,1094.5 1390.8,1093.9 1391.8,1094.3 1392.8,1094.5 1393.8,1094.8 1394.8,1094.1 1395.8,1094.1 1396.8,1095.1 1397.8,1095 1398.8,1094.7 1399.8,1094.6 1400.8,1094.8 1401.8,1094.3 1402.8,1094.5 1403.8,1095.1 1404.8,1095.1 1405.8,1095.3 1406.8,1095 1407.8,1095.2 1408.8,1094.3 1409.8,1094.4 1410.8,1094.1 1411.8,1094.3 1412.8,1094.2 1413.8,1095 1414.8,1095 1415.8,1094.3 1416.8,1094.3 1417.8,1095.1 1418.8,1095.2 1419.8,1094.4 1420.8,1094.9 1421.8,1095.3 1422.8,1094.9 1423.8,1095.3 1424.8,1094.8 1425.8,1094.9 1426.8,1094.7 1427.8,1094.1 1428.8,1094.6 1429.8,1094.5 1430.8,1095.1 1431.8,1094.3 1432.8,1094.8 1433.8,1094.8 1434.8,1095 1435.8,1094.8 1436.8,1095.5 1437.8,1095 1438.8,1094.9 1439.8,1094.9 1440.8,1095.1 1441.8,1094.3 1442.8,1094.6 1443.8,1094.8 1444.8,1094.6 1445.8,1094.8 1446.8,1094.2 1447.8,1095.4 1448.8,1094.9 1449.8,1094.8 1450.8,1094.5 1451.8,1095.1 1452.8,1095.1 1453.8,1094.6 1454.8,1094.8 1455.8,1094.3 1456.8,1094.9 1457.8,1094.8 1458.8,1095.1 1459.8,1095 1460.8,1095.2 1461.8,1094.8 1462.8,1094.9 1463.8,1094.7 1464.8,1094.8 1465.8,1094.6 1466.8,1094.8 1467.8,1094.6 1468.8,1095.2 1469.8,1094.9 1470.8,1094.9 1471.8,1094.7 1472.8,1095.1 1473.8,1094.8 1474.8,1095 1475.8,1094.7 1476.8,1094.9 1477.8,1094.6 1478.8,1094.6 1479.8,1094.6 1480.8,1095.3 1481.8,1094.8 1482.8,1095.3 1483.8,1094.5 1484.8,1094.9 1485.8,1094.6 1486.8,1094.9 1487.8,1095.3 1488.8,1095.3 1489.8,1094.5 1490.8,1095 1491.8,1095.1 1492.8,1094.7 1493.8,1094.7 1494.8,1094.5 1495.8,1094.9 1496.8,1094.4 1497.8,1094.7 1498.8,1094.8 1499.8,1094.6 1500.8,1094.4 1501.8,1095 1502.8,1094.7 1503.8,1094.3 1504.8,1094.7 1505.8,1094.9 1506.8,1094.6 1507.8,1094.9 1508.8,1094.8 1509.8,1094.9 1510.8,1094.7 1511.8,1094.6 1512.8,1095.1 1513.8,1094.9 1514.8,1094.9 1515.8,1095 1516.8,1094.9 1517.8,1094.9 1518.8,1094.9 1519.8,1094.8 1520.8,1094.6 1521.8,1095 1522.8,1094.9 1523.8,1094.7 1524.8,1095.1 1525.8,1095.4 1526.8,1094.5 1527.8,1094.9 1528.8,1095.2 1529.8,1094.4 1530.8,1094.8 1531.8,1094.8 1532.8,1094.6 1533.8,1095.3 1534.8,1095.1 1535.8,1094.8 1536.8,1094.4 1537.8,1094.9 1538.8,1094.5 1539.8,1095 1540.8,1094.7 1541.8,1094.9 1542.8,1095.3 1543.8,1095.1 1544.8,1094.7 1545.8,1094.8 1546.8,1094.5 1547.8,1095.1 1548.8,1094.5 1549.8,1094.6 1550.8,1094.4 1551.8,1094.8 1552.8,1095.4 1553.8,1094.7 1554.8,1094.7 1555.8,1094.7 1556.8,1094.8 1557.8,1094.9 1558.8,1095.5 1559.8,1095.2 1560.8,1094.9 1561.8,1094.5 1562.8,1095.2 1563.8,1095 1564.8,1094.6 1565.8,1094.9 1566.8,1094.8 1567.8,1095.2 1568.8,1095 1569.8,1094.6 1570.8,1094.9 1571.8,1095.3 1572.8,1094.9 1573.8,1094.7 1574.8,1094.7 1575.8,1095.5 1576.8,1095.2 1577.8,1094.5 1578.8,1095 1579.8,1095.2 1580.8,1095.1 1581.8,1094.7 1582.8,1094.8 1583.8,1094.2 1584.8,1094.7 1585.8,1094.8 1586.8,1095.1 1587.8,1094.7 1588.8,1094.6 1589.8,1095.3 1590.8,1095.1 1591.8,1094.6 1592.8,1094.1 1593.8,1094.2 1594.8,1094.8 1595.8,1094.8 1596.8,1094.8 1597.8,1095.1 1598.8,1095.4 1599.8,1095 1600.8,1094.9 1601.8,1094.9 1602.8,1094.3 1603.8,1095.1 1604.8,1094.7 1605.8,1095.1 1606.8,1094.4 1607.8,1094.7 1608.8,1094.3 1609.8,1094.7 1610.8,1095.4" stroke="#ee0082" stroke-width="4.05"/>
</g>
<g>
<path d="M834.5,1010.3 V1059.8" stroke="#f08028" stroke-width="3.3" fill="none"/><path d="M834.5,1087.3 L825.8,1050.2 L834.5,1059.8 L843.2,1050.2 Z" fill="#f08028"/>
<path d="M792.1,1010.3 V1059.8" stroke="#e6aa32" stroke-width="3.3" fill="none"/><path d="M792.1,1087.3 L783.4,1050.2 L792.1,1059.8 L800.8,1050.2 Z" fill="#e6aa32"/>
<path d="M753.2,1010.3 V1059.8" stroke="#a0e632" stroke-width="3.3" fill="none"/><path d="M753.2,1087.3 L744.5,1050.2 L753.2,1059.8 L761.9,1050.2 Z" fill="#a0e632"/>
<path d="M697.2,1010.3 V1059.8" stroke="#00dc00" stroke-width="3.3" fill="none"/><path d="M697.2,1087.3 L688.5,1050.2 L697.2,1059.8 L705.9,1050.2 Z" fill="#00dc00"/>
<path d="M629.3,1010.3 V1059.8" stroke="#00c8c8" stroke-width="3.3" fill="none"/><path d="M629.3,1087.3 L620.6,1050.2 L629.3,1059.8 L638,1050.2 Z" fill="#00c8c8"/>
<path d="M585,1010.3 V1059.8" stroke="#00a0ff" stroke-width="3.3" fill="none"/><path d="M585,1087.3 L576.3,1050.2 L585,1059.8 L593.7,1050.2 Z" fill="#00a0ff"/>
<path d="M524.7,1010.3 V1059.8" stroke="#6400dc" stroke-width="3.3" fill="none"/><path d="M524.7,1087.3 L516,1050.2 L524.7,1059.8 L533.4,1050.2 Z" fill="#6400dc"/>
<path d="M440.5,1010.3 V1059.8" stroke="#a000c8" stroke-width="3.3" fill="none"/><path d="M440.5,1087.3 L431.8,1050.2 L440.5,1059.8 L449.2,1050.2 Z" fill="#a000c8"/>
<path d="M952.8,1010.3 V1059.8" stroke="#ee0082" stroke-width="3.3" fill="none"/><path d="M952.8,1087.3 L944.1,1050.2 L952.8,1059.8 L961.5,1050.2 Z" fill="#ee0082"/>
</g>
<g stroke="#000" stroke-width="3.35" fill="none" stroke-linecap="butt">
<rect x="215.8" y="25.3" width="1395.2" height="1067.7"/>
<path d="M260.8,1093 v9.7M350.8,1093 v17.7M440.8,1093 v9.7M530.8,1093 v17.7M620.8,1093 v9.7M710.8,1093 v17.7M800.9,1093 v9.7M890.9,1093 v17.7M980.9,1093 v9.7M1070.9,1093 v17.7M1160.9,1093 v9.7M1250.9,1093 v17.7M1341,1093 v9.7M1431,1093 v17.7M1521,1093 v9.7M1611,1093 v17.7M215.8,1093 h-17.7M215.8,965.9 h-9.7M215.8,838.8 h-17.7M215.8,711.7 h-9.7M215.8,584.6 h-17.7M215.8,457.5 h-9.7M215.8,330.4 h-17.7M215.8,203.2 h-9.7M215.8,76.1 h-17.7" stroke-width="3.05"/>
</g>
<text transform="translate(350.77,1163.5) scale(1.0,1.05)" font-size="52" text-anchor="middle">6</text>
<text transform="translate(530.81,1163.5) scale(1.0,1.05)" font-size="52" text-anchor="middle">8</text>
<text transform="translate(710.84,1163.5) scale(1.0,1.05)" font-size="52" text-anchor="middle">10</text>
<text transform="translate(890.87,1163.5) scale(1.0,1.05)" font-size="52" text-anchor="middle">12</text>
<text transform="translate(1070.9,1163.5) scale(1.0,1.05)" font-size="52" text-anchor="middle">14</text>
<text transform="translate(1250.94,1163.5) scale(1.0,1.05)" font-size="52" text-anchor="middle">16</text>
<text transform="translate(1430.97,1163.5) scale(1.0,1.05)" font-size="52" text-anchor="middle">18</text>
<text transform="translate(1611,1163.5) scale(1.0,1.05)" font-size="52" text-anchor="middle">20</text>
<text transform="translate(185.5,1107.9) scale(1.0,1.05)" font-size="52" text-anchor="end">0.0</text>
<text transform="translate(185.5,853.69) scale(1.0,1.05)" font-size="52" text-anchor="end">0.1</text>
<text transform="translate(185.5,599.47) scale(1.0,1.05)" font-size="52" text-anchor="end">0.2</text>
<text transform="translate(185.5,345.26) scale(1.0,1.05)" font-size="52" text-anchor="end">0.3</text>
<text transform="translate(185.5,91.04) scale(1.0,1.05)" font-size="52" text-anchor="end">0.4</text>
<text transform="translate(913.6,1241.2) scale(1.0,1.03)" font-size="56" text-anchor="middle">Temperature (K)</text>
<text transform="translate(92.3,561) rotate(-90) scale(1.0,1.03)" font-size="56" text-anchor="middle"><tspan font-family="'Liberation Serif', serif" dx="0">Δ</tspan><tspan dx="-1.7">f</tspan> (arb. u.)</text>
<text transform="translate(661,219.6) scale(1.0,1.03)" font-size="52"><tspan font-style="italic" x="2.5">B</tspan><tspan x="34.5">||</tspan><tspan font-style="italic" x="63.6">c</tspan></text>
<text transform="translate(661,283.7) scale(1.0,1.05)" font-size="52">0 T</text>
<text transform="translate(661,347) scale(1.0,1.05)" font-size="52">1 T</text>
<text transform="translate(661,410.4) scale(1.0,1.05)" font-size="52">2 T</text>
<text transform="translate(661,474.1) scale(1.0,1.05)" font-size="52">3 T</text>
<text transform="translate(661,538) scale(1.0,1.05)" font-size="52">4 T</text>
<text transform="translate(661,601.4) scale(1.0,1.05)" font-size="52">5 T</text>
<text transform="translate(661,665) scale(1.0,1.05)" font-size="52">6 T</text>
<text transform="translate(661,727.9) scale(1.0,1.05)" font-size="52">7 T</text>
<text transform="translate(661,791.5) scale(1.0,1.05)" font-size="52">8 T</text>
<text transform="translate(1002,230.8) scale(1.0,1.03)" font-size="52">Ba<tspan font-size="35.5" dy="14.5">0.234</tspan><tspan dy="-14.5">K</tspan><tspan font-size="35.5" dy="14.5">0.766</tspan><tspan dy="-14.5">Fe</tspan><tspan font-size="35.5" dy="14.5">2</tspan><tspan dy="-14.5">As</tspan><tspan font-size="35.5" dy="14.5">2</tspan></text>
<g stroke="#000" stroke-width="3.3" fill="none">
<rect x="1013.3" y="457.5" width="565" height="432.1"/>
<path d="M1013.3,889.6 v6.7M1051,889.6 v3.3M1088.6,889.6 v6.7M1126.3,889.6 v3.3M1164,889.6 v6.7M1201.6,889.6 v3.3M1239.3,889.6 v6.7M1277,889.6 v3.3M1314.6,889.6 v6.7M1352.3,889.6 v3.3M1390,889.6 v6.7M1427.6,889.6 v3.3M1465.3,889.6 v6.7M1503,889.6 v3.3M1540.6,889.6 v6.7M1578.3,889.6 v3.3M1013.3,866.9 h-6.7M1013.3,810 h-3.3M1013.3,753.1 h-6.7M1013.3,696.3 h-3.3M1013.3,639.4 h-6.7M1013.3,582.6 h-3.3M1013.3,525.7 h-6.7M1013.3,468.9 h-3.3" stroke-width="3.0"/>
</g>
<g fill="none" stroke-linecap="round" stroke-linejoin="round">
<path d="M1490.4,866.6 L1441.9,844.1 L1423.9,821.4 L1408,798.6 L1384.3,775.9 L1356.1,753.1 L1337.2,730.4 L1312,707.7 L1277,684.9" stroke="#ef7c22" stroke-width="2.0"/>
<path d="M1490.4,855.3 l11.3,11.3 l-11.3,11.3 l-11.3,-11.3 Z" fill="#fff" stroke="#f08028" stroke-width="5.3" stroke-linejoin="round"/>
<path d="M1441.9,832.8 l11.3,11.3 l-11.3,11.3 l-11.3,-11.3 Z" fill="#fff" stroke="#f08028" stroke-width="5.3" stroke-linejoin="round"/>
<path d="M1423.9,810.1 l11.3,11.3 l-11.3,11.3 l-11.3,-11.3 Z" fill="#fff" stroke="#f08028" stroke-width="5.3" stroke-linejoin="round"/>
<path d="M1408,787.3 l11.3,11.3 l-11.3,11.3 l-11.3,-11.3 Z" fill="#fff" stroke="#f08028" stroke-width="5.3" stroke-linejoin="round"/>
<path d="M1384.3,764.6 l11.3,11.3 l-11.3,11.3 l-11.3,-11.3 Z" fill="#fff" stroke="#f08028" stroke-width="5.3" stroke-linejoin="round"/>
<path d="M1356.1,741.8 l11.3,11.3 l-11.3,11.3 l-11.3,-11.3 Z" fill="#fff" stroke="#f08028" stroke-width="5.3" stroke-linejoin="round"/>
<path d="M1337.2,719.1 l11.3,11.3 l-11.3,11.3 l-11.3,-11.3 Z" fill="#fff" stroke="#f08028" stroke-width="5.3" stroke-linejoin="round"/>
<path d="M1312,696.4 l11.3,11.3 l-11.3,11.3 l-11.3,-11.3 Z" fill="#fff" stroke="#f08028" stroke-width="5.3" stroke-linejoin="round"/>
<path d="M1277,673.6 l11.3,11.3 l-11.3,11.3 l-11.3,-11.3 Z" fill="#fff" stroke="#f08028" stroke-width="5.3" stroke-linejoin="round"/>
<path d="M1238.7,661.7 L1268.3,684.7 L1308.2,724.7 L1340.6,752.7 L1393,798.3 L1441.6,843.8 L1478.1,866.5" stroke="#0000ff" stroke-width="2.0"/>
<circle cx="1238.7" cy="661.7" r="8.0" fill="#fff" stroke="#0000ff" stroke-width="5.2"/>
<circle cx="1268.3" cy="684.7" r="8.0" fill="#fff" stroke="#0000ff" stroke-width="5.2"/>
<circle cx="1340.6" cy="752.7" r="8.0" fill="#fff" stroke="#0000ff" stroke-width="5.2"/>
<circle cx="1393" cy="798.3" r="8.0" fill="#fff" stroke="#0000ff" stroke-width="5.2"/>
<circle cx="1441.6" cy="843.8" r="8.0" fill="#fff" stroke="#0000ff" stroke-width="5.2"/>
<circle cx="1478.1" cy="866.5" r="8.0" fill="#fff" stroke="#0000ff" stroke-width="5.2"/>
<path d="M1306.6,511.9 H1404.4" stroke="#ef7c22" stroke-width="2.0"/>
<path d="M1355.5,500.6 l11.3,11.3 l-11.3,11.3 l-11.3,-11.3 Z" fill="#fff" stroke="#f08028" stroke-width="5.3" stroke-linejoin="round"/>
<path d="M1306.6,579.9 H1342.3M1368.7,579.9 H1404.4" stroke="#0000ff" stroke-width="2.0"/>
<circle cx="1355.5" cy="579.9" r="8.0" fill="#fff" stroke="#0000ff" stroke-width="5.2"/>
</g>
<text transform="translate(1416,526.8) scale(1.0,1.03)" font-size="43.5">T<tspan font-size="30.5" dy="12.2">c</tspan><tspan dy="-12.2"><tspan dx="-0.8"> - </tspan><tspan font-family="'Liberation Serif', serif" dx="-0.8">Δ</tspan><tspan dx="-1.3">f</tspan></tspan></text>
<text transform="translate(1416,595) scale(1.0,1.03)" font-size="43.5">T<tspan font-size="30.5" dy="12.2">c</tspan><tspan dy="-12.2"><tspan dx="-0.8"> - </tspan>ρ</tspan></text>
<text transform="translate(1013.3,934.5) scale(1.0,1.05)" font-size="43.5" text-anchor="middle">0</text>
<text transform="translate(1088.63,934.5) scale(1.0,1.05)" font-size="43.5" text-anchor="middle">2</text>
<text transform="translate(1163.97,934.5) scale(1.0,1.05)" font-size="43.5" text-anchor="middle">4</text>
<text transform="translate(1239.3,934.5) scale(1.0,1.05)" font-size="43.5" text-anchor="middle">6</text>
<text transform="translate(1314.63,934.5) scale(1.0,1.05)" font-size="43.5" text-anchor="middle">8</text>
<text transform="translate(1389.97,934.5) scale(1.0,1.05)" font-size="43.5" text-anchor="middle">10</text>
<text transform="translate(1465.3,934.5) scale(1.0,1.05)" font-size="43.5" text-anchor="middle">12</text>
<text transform="translate(1540.63,934.5) scale(1.0,1.05)" font-size="43.5" text-anchor="middle">14</text>
<text transform="translate(1001.3,880.46) scale(1.0,1.05)" font-size="43.5" text-anchor="end">0</text>
<text transform="translate(1001.3,766.75) scale(1.0,1.05)" font-size="43.5" text-anchor="end">5</text>
<text transform="translate(1001.3,653.04) scale(1.0,1.05)" font-size="43.5" text-anchor="end">10</text>
<text transform="translate(1001.3,539.33) scale(1.0,1.05)" font-size="43.5" text-anchor="end">15</text>
<text transform="translate(1294.5,1004.5) scale(1.0,1.03)" font-size="47" text-anchor="middle">Temperature (K)</text>
<text transform="translate(939,673.1) rotate(-90) scale(1.0,1.03)" font-size="47" text-anchor="middle">Magnetic field (T)</text>
</svg>
</body>
</html>
